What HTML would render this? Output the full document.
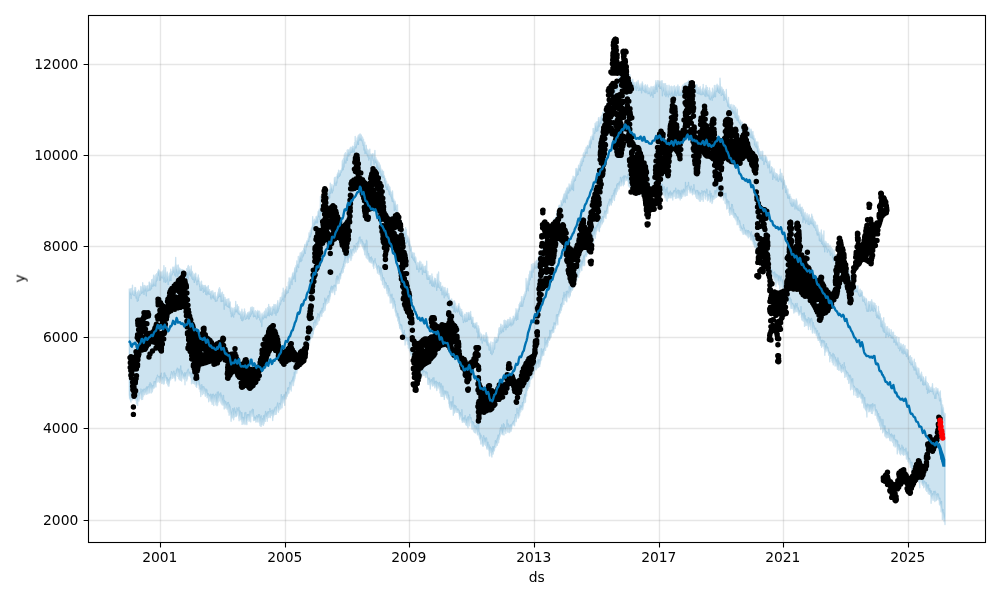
<!DOCTYPE html>
<html><head><meta charset="utf-8"><title>forecast</title>
<style>
html,body{margin:0;padding:0;background:#fff;overflow:hidden}
svg{display:block}
text{font-family:"DejaVu Sans","Liberation Sans",sans-serif;font-size:13.89px;fill:#000}
</style></head><body>
<svg width="1000" height="600" viewBox="0 0 1000 600">
<rect width="1000" height="600" fill="#fff"/>
<path d="M129.3 289 129.5 293.1 129.6 292.1 129.8 289.4 129.9 291.4 130.1 292.8 130.3 294.3 130.4 291.6 130.6 292.7 130.7 288.7 130.9 290.8 131.1 298.5 131.2 288.5 131.4 293.5 131.5 295.2 131.7 293.1 131.9 291.8 132 293.7 132.2 293.7 132.3 293.3 132.5 285.3 132.7 292.8 132.8 290.8 133 291.4 133.1 293.4 133.3 294.3 133.5 294.9 133.6 291 133.8 294.6 133.9 295.2 134.1 294.9 134.3 295.5 134.4 291.2 134.6 290.9 134.7 293.5 134.9 287.4 135.1 291.7 135.2 290.1 135.4 290.9 135.5 287.6 135.7 290.3 135.9 293 136 295.8 136.2 298.1 136.3 294 136.5 294.1 136.7 292.7 136.8 296.4 137 295.1 137.1 297.8 137.3 301.2 137.5 296.1 137.6 291.9 137.8 293.3 137.9 291.4 138.1 291.9 138.3 300.5 138.4 295.1 138.6 290.1 138.7 295.7 138.9 297.1 139.1 292.4 139.2 291.3 139.4 291.9 139.5 293.3 139.7 294 139.9 295.2 140 295 140.2 294.6 140.3 294.8 140.5 292.7 140.7 286.5 140.8 289.8 141 290.9 141.1 288.9 141.3 292.4 141.5 288.9 141.6 287.3 141.8 293.6 141.9 291.5 142.1 290.2 142.3 292 142.4 292.3 142.6 290.3 142.7 282.7 142.9 287.5 143.1 288 143.2 286.5 143.4 289.7 143.5 292.3 143.7 287.7 143.9 285.9 144 294.4 144.2 287.6 144.3 285.4 144.5 289.4 144.7 289.8 144.8 286.7 145 290.7 145.1 287.2 145.3 285.9 145.5 288.8 145.6 290.4 145.8 286.5 145.9 289.1 146.1 287.9 146.3 295.7 146.4 286.1 146.6 291.7 146.7 287.8 146.9 287.5 147.1 289.7 147.2 290 147.4 290.9 147.5 288.3 147.7 285.7 147.9 285.7 148 288.4 148.2 288.5 148.3 290.6 148.5 287.8 148.7 289.4 148.8 290.5 149 287 149.1 282.2 149.3 282.9 149.5 282.1 149.6 290.1 149.8 283.4 149.9 288.9 150.1 287.1 150.3 290 150.4 287.9 150.6 284.8 150.7 284.5 150.9 285.1 151.1 285.2 151.2 283.2 151.4 284.4 151.5 288.7 151.7 279.7 151.9 284.9 152 281.6 152.2 284.4 152.3 286.1 152.5 283.5 152.7 285.6 152.8 279.1 153 286.3 153.1 280.5 153.3 284.5 153.5 283 153.6 275.3 153.8 279.9 153.9 282.3 154.1 285.6 154.3 281.9 154.4 281.6 154.6 276.8 154.7 284.2 154.9 285 155.1 279.9 155.2 278.9 155.4 274.9 155.5 281.4 155.7 286 155.9 280.4 156 281.6 156.2 279.4 156.3 275 156.5 281 156.7 273.8 156.8 276.2 157 277.3 157.1 280.1 157.3 277.1 157.5 276.8 157.6 273.4 157.8 271.7 157.9 275.1 158.1 272.7 158.3 270.8 158.4 270.9 158.6 273.1 158.7 269.5 158.9 271 159.1 270.3 159.2 275.2 159.4 275.9 159.5 280.3 159.7 270.9 159.9 273.2 160 277.6 160.2 274.6 160.3 274.4 160.5 280 160.7 274.5 160.8 272.4 161 272.1 161.1 276.6 161.3 276.6 161.5 272.1 161.6 273.3 161.8 277.4 161.9 277.6 162.1 274.4 162.3 277.9 162.4 277.9 162.6 271.6 162.7 275.6 162.9 277.5 163.1 274.6 163.2 270.2 163.4 274.9 163.5 277.5 163.7 279.5 163.9 265.6 164 281.9 164.2 271.6 164.3 277 164.5 277.5 164.7 276.6 164.8 274.1 165 270.4 165.1 275.5 165.3 272.2 165.5 267.6 165.6 282.4 165.8 277 165.9 280.3 166.1 273.2 166.3 280 166.4 280.6 166.6 280.9 166.7 276.9 166.9 274.1 167.1 277.1 167.2 272 167.4 273.7 167.5 278.8 167.7 276.2 167.9 278.8 168 279.2 168.2 284.4 168.3 282.4 168.5 278.5 168.7 281.6 168.8 275.9 169 276.9 169.1 279.9 169.3 273.9 169.5 276.2 169.6 273.1 169.8 276.7 169.9 280.5 170.1 273.8 170.3 276.1 170.4 272.8 170.6 271.8 170.7 269.3 170.9 278.3 171.1 280.5 171.2 275.1 171.4 271.6 171.5 275.2 171.7 272.1 171.9 274.9 172 273.4 172.2 273.2 172.3 274 172.5 270.6 172.7 271 172.8 267.3 173 270.6 173.1 267.8 173.3 271.1 173.5 268.8 173.6 271.5 173.8 272.4 173.9 267.2 174.1 268.7 174.3 268.2 174.4 272.6 174.6 275.1 174.7 272.6 174.9 269.2 175.1 274 175.2 265.8 175.4 273.8 175.5 267.9 175.7 257.5 175.9 276.5 176 273.5 176.2 266.3 176.3 269.5 176.5 268.5 176.7 269.5 176.8 265.3 177 267.6 177.1 270.7 177.3 270.2 177.5 272.9 177.6 270 177.8 276.2 177.9 268 178.1 270.7 178.3 265 178.4 266.8 178.6 273.9 178.7 267.9 178.9 271.9 179.1 270.4 179.2 267.9 179.4 269.8 179.5 269.5 179.7 269.6 179.9 273.1 180 272.9 180.2 269.7 180.3 268.9 180.5 272.2 180.7 271.2 180.8 274.4 181 278.9 181.1 274.1 181.3 271.8 181.5 271.5 181.6 269.8 181.8 269.7 181.9 269.6 182.1 271.3 182.3 271.3 182.4 274.6 182.6 271.6 182.7 272.2 182.9 269.6 183.1 277.4 183.2 274.4 183.4 278 183.5 275.4 183.7 277.4 183.9 272.4 184 275.5 184.2 280.9 184.3 270.4 184.5 277 184.7 278.5 184.8 275.1 185 276.2 185.1 277.7 185.3 272.5 185.5 275.2 185.6 271.5 185.8 271.8 185.9 271.8 186.1 272.9 186.3 273.5 186.4 274.2 186.6 268.8 186.7 278 186.9 275.5 187.1 274.2 187.2 271 187.4 271.5 187.5 273.1 187.7 272.5 187.9 266.5 188 273 188.2 278.9 188.3 265.5 188.5 273.2 188.7 271.2 188.8 269.7 189 273.6 189.1 266.7 189.3 270.7 189.5 274.5 189.6 270.2 189.8 269.8 189.9 271.5 190.1 270.2 190.3 276 190.4 269.4 190.6 274.6 190.7 268.9 190.9 274.5 191.1 272.6 191.2 265.9 191.4 273.3 191.5 270.6 191.7 272.6 191.9 278.3 192 271.2 192.2 271.6 192.3 278.8 192.5 275.3 192.7 279.5 192.8 276.4 193 273.3 193.1 275.8 193.3 279.6 193.5 279.1 193.6 276.6 193.8 276.8 193.9 276.5 194.1 275.3 194.3 282.4 194.4 277.1 194.6 274.1 194.7 276 194.9 279.4 195.1 279.3 195.2 277.3 195.4 275.9 195.5 277.9 195.7 273.3 195.9 274.5 196 280.4 196.2 277 196.3 279.4 196.5 281.9 196.7 280.4 196.8 278.8 197 284.7 197.1 280.8 197.3 278 197.5 281.2 197.6 281.1 197.8 277 197.9 279.7 198.1 279.4 198.3 274.9 198.4 280.4 198.6 280.6 198.7 280.7 198.9 277.9 199.1 282 199.2 283.4 199.4 284.3 199.5 281.4 199.7 286.8 199.9 282.2 200 285.5 200.2 290.2 200.3 283.9 200.5 285.6 200.7 290.1 200.8 286.1 201 286.3 201.1 287.8 201.3 290.2 201.5 281.2 201.6 285 201.8 284.6 201.9 284.4 202.1 285.1 202.3 285.2 202.4 288.4 202.6 285.1 202.7 287.9 202.9 288.8 203.1 285.7 203.2 288.1 203.4 292.3 203.5 288.7 203.7 286.1 203.9 287.7 204 285.4 204.2 288.7 204.3 290.4 204.5 285.8 204.7 287.5 204.8 291.2 205 286.8 205.1 288.7 205.3 285.4 205.5 286 205.6 286.9 205.8 294.2 205.9 287.3 206.1 287 206.3 287 206.4 288.2 206.6 290.7 206.7 289.9 206.9 294.9 207.1 290.2 207.2 293.7 207.4 290.8 207.5 291.9 207.7 286.6 207.9 290.2 208 290.8 208.2 290.5 208.3 285.6 208.5 294 208.7 290.8 208.8 290.9 209 291.6 209.1 292 209.3 293.9 209.5 289.6 209.6 290.7 209.8 294.3 209.9 294.1 210.1 292.9 210.3 292.5 210.4 292 210.6 294.2 210.7 297.7 210.9 291.8 211.1 299 211.2 297.3 211.4 294 211.5 297.5 211.7 291.5 211.9 291 212 292.3 212.2 294.9 212.3 295.3 212.5 294.9 212.7 296.7 212.8 290.9 213 298.1 213.1 293 213.3 295.2 213.5 295.9 213.6 294 213.8 293.5 213.9 292.9 214.1 297.3 214.3 299 214.4 299 214.6 294.9 214.7 295.5 214.9 295.3 215.1 299 215.2 292.4 215.4 301.3 215.5 296.8 215.7 296 215.9 299.1 216 301.1 216.2 299 216.3 300.7 216.5 298.1 216.7 300.8 216.8 300.7 217 296.9 217.1 300.8 217.3 297.2 217.5 296.8 217.6 293.9 217.8 295.4 217.9 298.1 218.1 292.3 218.3 297.4 218.4 296.4 218.6 296 218.7 289.1 218.9 294.6 219.1 296.4 219.2 292.4 219.4 294.5 219.5 287.7 219.7 295.7 219.9 292.1 220 296.4 220.2 289.3 220.3 296.3 220.5 294 220.7 297 220.8 292.5 221 293.6 221.1 301.5 221.3 293.4 221.5 293.9 221.6 295.3 221.8 293.4 221.9 299.6 222.1 301.3 222.3 294.9 222.4 292.3 222.6 300.3 222.7 300.4 222.9 299.8 223.1 300.9 223.2 295.6 223.4 297.7 223.5 294.6 223.7 294.8 223.9 301.5 224 297.3 224.2 309.2 224.3 299.8 224.5 298.1 224.7 302.2 224.8 305.1 225 301.8 225.1 297.5 225.3 302 225.5 305 225.6 300.1 225.8 299.6 225.9 304.7 226.1 302.6 226.3 299.5 226.4 301.7 226.6 300.8 226.7 303.8 226.9 303.4 227.1 306.3 227.2 305.2 227.4 299.2 227.5 304.7 227.7 306.1 227.9 305 228 306.7 228.2 302.5 228.3 301.6 228.5 306.8 228.7 301.5 228.8 298.7 229 307.4 229.1 302.8 229.3 303.5 229.5 301.2 229.6 302 229.8 303.1 229.9 306 230.1 308.7 230.3 302.2 230.4 311.2 230.6 306.7 230.7 307.7 230.9 313.2 231.1 311.6 231.2 307.6 231.4 316.7 231.5 309.3 231.7 312.3 231.9 312.1 232 315.3 232.2 310.2 232.3 314.1 232.5 308.1 232.7 314.3 232.8 309.2 233 310.2 233.1 316.3 233.3 312 233.5 311.3 233.6 317.1 233.8 311.9 233.9 308.7 234.1 312.8 234.3 307.6 234.4 313.8 234.6 314 234.7 309.1 234.9 308.9 235.1 311 235.2 310.5 235.4 307.8 235.5 311.9 235.7 301.5 235.9 309.1 236 309.2 236.2 309.5 236.3 311 236.5 306.8 236.7 311.7 236.8 309.5 237 308.2 237.1 306.2 237.3 304.8 237.5 311.4 237.6 307.2 237.8 309.9 237.9 312.5 238.1 312.4 238.3 313.8 238.4 308.7 238.6 306.7 238.7 312.7 238.9 311 239.1 313.5 239.2 310.8 239.4 314.3 239.5 313.6 239.7 313.6 239.9 313.3 240 313.3 240.2 313.1 240.3 313.4 240.5 315.7 240.7 311.9 240.8 318.3 241 313.6 241.1 316.8 241.3 314.2 241.5 314.1 241.6 320.3 241.8 314 241.9 309.3 242.1 312.9 242.3 314 242.4 320.7 242.6 315.5 242.7 317.5 242.9 312.3 243.1 315.9 243.2 316.8 243.4 319.9 243.5 313.2 243.7 316.7 243.9 315.9 244 312.3 244.2 315.1 244.3 314.4 244.5 308.9 244.7 316.8 244.8 316.6 245 314 245.1 311.6 245.3 319.2 245.5 316 245.6 318 245.8 319.1 245.9 313.9 246.1 317.5 246.3 314.7 246.4 315.2 246.6 315.2 246.7 315.4 246.9 318.4 247.1 315.8 247.2 315.1 247.4 314.7 247.5 316.4 247.7 312.8 247.9 313.6 248 314.5 248.2 312.9 248.3 313.9 248.5 312.3 248.7 319.1 248.8 317 249 314.4 249.1 312.8 249.3 318.6 249.5 313.3 249.6 311.9 249.8 312.7 249.9 312.5 250.1 315.2 250.3 311.1 250.4 316.6 250.6 308.3 250.7 312.3 250.9 307.4 251.1 314.8 251.2 308.7 251.4 309.5 251.5 312.3 251.7 313.5 251.9 307.3 252 309.6 252.2 307 252.3 311.4 252.5 310.9 252.7 310.5 252.8 309.8 253 310.9 253.1 310.1 253.3 313.8 253.5 316.7 253.6 307.6 253.8 312.7 253.9 312.2 254.1 314.8 254.3 311.2 254.4 313.6 254.6 311.4 254.7 316.3 254.9 315.1 255.1 314.4 255.2 315.8 255.4 314.1 255.5 310.6 255.7 316.4 255.9 315.6 256 314.4 256.2 317.5 256.3 318.1 256.5 311.9 256.7 312.7 256.8 319 257 318.6 257.1 311.6 257.3 311.6 257.5 313.1 257.6 313.5 257.8 310.5 257.9 314.9 258.1 311.3 258.3 311.5 258.4 317.3 258.6 313 258.7 314.6 258.9 316.5 259.1 317 259.2 313.9 259.4 314.9 259.5 311.3 259.7 319.9 259.9 317.3 260 312.8 260.2 316.1 260.3 318.4 260.5 318.1 260.7 322 260.8 321.1 261 316.2 261.1 317.8 261.3 314.9 261.5 319.3 261.6 319.4 261.8 326.6 261.9 319.4 262.1 313.2 262.3 316.8 262.4 318.7 262.6 314.8 262.7 315.6 262.9 316.7 263.1 318.4 263.2 316.8 263.4 314.6 263.5 318.9 263.7 315.1 263.9 315 264 312.4 264.2 313.8 264.3 317.4 264.5 311.1 264.7 315 264.8 316.9 265 313.7 265.1 315.2 265.3 311.3 265.5 317.6 265.6 316.9 265.8 314.4 265.9 308.8 266.1 310.6 266.3 315.9 266.4 317.7 266.6 313.7 266.7 316.1 266.9 311 267.1 311.9 267.2 312.3 267.4 313.3 267.5 307.8 267.7 314.3 267.9 315.2 268 308.4 268.2 307.7 268.3 312.1 268.5 309.2 268.7 304.4 268.8 312.9 269 310.9 269.1 309.1 269.3 315.9 269.5 310.4 269.6 307.8 269.8 310 269.9 306.8 270.1 307.5 270.3 310.7 270.4 308.2 270.6 307.8 270.7 314.4 270.9 312.3 271.1 312.2 271.2 311.5 271.4 311.5 271.5 314.2 271.7 310.3 271.9 315.4 272 307.9 272.2 309.7 272.3 306.6 272.5 309.2 272.7 311.5 272.8 313.9 273 308.1 273.1 309.8 273.3 308.7 273.5 307.5 273.6 306.2 273.8 309.5 273.9 304.5 274.1 309.4 274.3 309 274.4 307.1 274.6 306.1 274.7 304.9 274.9 313.6 275.1 304.8 275.2 312.6 275.4 309.9 275.5 307.2 275.7 304.9 275.9 310.7 276 315.3 276.2 305.2 276.3 306.8 276.5 310.3 276.7 308.3 276.8 312.7 277 305.6 277.1 308.5 277.3 303.6 277.5 312.5 277.6 304.8 277.8 300.7 277.9 306 278.1 305.9 278.3 311.1 278.4 304.6 278.6 305.2 278.7 306.4 278.9 308.8 279.1 303.9 279.2 306.6 279.4 304.8 279.5 302.2 279.7 302.9 279.9 302.4 280 299.5 280.2 304.9 280.3 297.5 280.5 304 280.7 303.1 280.8 299.9 281 297.7 281.1 298.8 281.3 300.4 281.5 300.7 281.6 299.1 281.8 300.7 281.9 296.1 282.1 298 282.3 292.9 282.4 298.9 282.6 297 282.7 295.3 282.9 299.3 283.1 297.8 283.2 288.1 283.4 295.5 283.5 291.3 283.7 297.8 283.9 301.4 284 293.1 284.2 294.4 284.3 293.3 284.5 294.7 284.7 295.3 284.8 296.7 285 290.4 285.1 297 285.3 290 285.5 293.1 285.6 295.2 285.8 293.8 285.9 289.1 286.1 289.4 286.3 289.8 286.4 290.6 286.6 293.6 286.7 286.7 286.9 291.2 287.1 291.3 287.2 290.9 287.4 290.3 287.5 292.9 287.7 289.8 287.9 290.6 288 289.5 288.2 292.5 288.3 282.3 288.5 290.6 288.7 286.1 288.8 285.8 289 283.7 289.1 277.9 289.3 284.7 289.5 283.6 289.6 286.5 289.8 278.5 289.9 288.5 290.1 285 290.3 283.2 290.4 281.5 290.6 280.9 290.7 279.6 290.9 280.8 291.1 281.9 291.2 281 291.4 277.2 291.5 279.9 291.7 277.8 291.9 280.3 292 284.5 292.2 280.7 292.3 277.8 292.5 273.9 292.7 274 292.8 272.9 293 279 293.1 274.6 293.3 276.4 293.5 274.2 293.6 275.7 293.8 278.8 293.9 272.8 294.1 273.3 294.3 271.5 294.4 275.6 294.6 270 294.7 269.2 294.9 268.1 295.1 267.5 295.2 272.1 295.4 281.5 295.5 267.2 295.7 272 295.9 269.6 296 265.5 296.2 267.2 296.3 266.9 296.5 265.1 296.7 271.7 296.8 260.9 297 266.6 297.1 266 297.3 263 297.5 264.5 297.6 266 297.8 263.6 297.9 263.8 298.1 264.2 298.3 256.5 298.4 265.7 298.6 267.5 298.7 263.7 298.9 263.4 299.1 256.6 299.2 259.7 299.4 256.2 299.5 257.8 299.7 261.7 299.9 256.6 300 258.1 300.2 253 300.3 257.4 300.5 257.7 300.7 255.3 300.8 254.9 301 261.6 301.1 253 301.3 253.1 301.5 252.1 301.6 258.5 301.8 260.6 301.9 255.5 302.1 252.4 302.3 252.8 302.4 256.5 302.6 250.9 302.7 256.9 302.9 256.5 303.1 252.6 303.2 253.8 303.4 253.8 303.5 255.6 303.7 248.3 303.9 254 304 249.4 304.2 248.1 304.3 250.1 304.5 248.9 304.7 246.5 304.8 244.5 305 246 305.1 252.1 305.3 253.2 305.5 249.3 305.6 250.5 305.8 245.5 305.9 246.4 306.1 247 306.3 242.8 306.4 242.6 306.6 245 306.7 243.4 306.9 240.9 307.1 244.4 307.2 242.1 307.4 245.1 307.5 241.9 307.7 240.6 307.9 241.3 308 240 308.2 238.2 308.3 238.4 308.5 241 308.7 240.3 308.8 241.5 309 233 309.1 236 309.3 235.5 309.5 236.6 309.6 234.4 309.8 233.8 309.9 236.8 310.1 234.7 310.3 230.6 310.4 236.8 310.6 235.5 310.7 230.7 310.9 234 311.1 229.3 311.2 233.9 311.4 229.8 311.5 227.7 311.7 228.4 311.9 226.9 312 229 312.2 228.4 312.3 227.6 312.5 225.5 312.7 216.6 312.8 226.3 313 220.4 313.1 225.7 313.3 227.7 313.5 224.9 313.6 222.6 313.8 222.7 313.9 222.3 314.1 220.8 314.3 220.5 314.4 219.3 314.6 224.7 314.7 221.2 314.9 223.5 315.1 220 315.2 220.6 315.4 219.6 315.5 221.1 315.7 221.8 315.9 220.3 316 217.1 316.2 216.6 316.3 222.9 316.5 217.4 316.7 217.1 316.8 221.5 317 220.2 317.1 218.4 317.3 215.6 317.5 222.8 317.6 217.2 317.8 217.4 317.9 215.1 318.1 211.5 318.3 211.4 318.4 216.5 318.6 215.5 318.7 213.6 318.9 210.8 319.1 209.8 319.2 211.9 319.4 209.2 319.5 215.2 319.7 215.6 319.9 219.9 320 214.3 320.2 210.1 320.3 209.1 320.5 196.2 320.7 209.2 320.8 210.1 321 212.9 321.1 211.7 321.3 211.3 321.5 210 321.6 210.9 321.8 212.8 321.9 205.7 322.1 207 322.3 204.1 322.4 211.9 322.6 210.6 322.7 208.8 322.9 203.1 323.1 206.4 323.2 204.9 323.4 205.4 323.5 204.3 323.7 205.8 323.9 203 324 206 324.2 203.9 324.3 202.1 324.5 202.2 324.7 200.9 324.8 203.9 325 200.6 325.1 201.8 325.3 199.5 325.5 196.2 325.6 202.3 325.8 196.6 325.9 200.9 326.1 199.8 326.3 193.8 326.4 195.3 326.6 196.1 326.7 194.9 326.9 193.5 327.1 198.4 327.2 195.4 327.4 196.8 327.5 194.3 327.7 195.9 327.9 192.8 328 194.4 328.2 195.7 328.3 193.9 328.5 192.3 328.7 190.2 328.8 193.6 329 193.5 329.1 191.5 329.3 189.8 329.5 193 329.6 198 329.8 190.1 329.9 191.5 330.1 191.4 330.3 183.2 330.4 190.3 330.6 187.8 330.7 193.3 330.9 188.6 331.1 187 331.2 188.3 331.4 189.1 331.5 186.9 331.7 188.1 331.9 184.4 332 187.2 332.2 189.7 332.3 192.7 332.5 189.1 332.7 187.7 332.8 189.9 333 189.3 333.1 190.7 333.3 188.8 333.5 185.1 333.6 186 333.8 185.4 333.9 185.4 334.1 184.8 334.3 181.9 334.4 178 334.6 181.5 334.7 177.5 334.9 182.9 335.1 182.4 335.2 177.5 335.4 183.6 335.5 183.8 335.7 181.4 335.9 185.3 336 185.5 336.2 176.9 336.3 182.6 336.5 180.7 336.7 180.3 336.8 182.9 337 176.6 337.1 176.6 337.3 174.3 337.5 175.5 337.6 177 337.8 173 337.9 173.8 338.1 177.9 338.3 175.8 338.4 176.7 338.6 170.2 338.7 172.9 338.9 173.2 339.1 174.5 339.2 172.5 339.4 176.3 339.5 173.3 339.7 173.1 339.9 172.8 340 175.5 340.2 170.7 340.3 174.6 340.5 172.4 340.7 171.2 340.8 170.4 341 171.3 341.1 172.2 341.3 171.6 341.5 169.6 341.6 170.5 341.8 168.1 341.9 170.7 342.1 166.8 342.3 160.9 342.4 169.7 342.6 165.9 342.7 160.1 342.9 164.2 343.1 162 343.2 169.6 343.4 164.8 343.5 158.8 343.7 164.1 343.9 161.1 344 167 344.2 158.5 344.3 154.9 344.5 160.7 344.7 158.6 344.8 158.5 345 153.4 345.1 159.9 345.3 162.9 345.5 152.8 345.6 160.7 345.8 155.6 345.9 163 346.1 157.6 346.3 155.7 346.4 159 346.6 157.2 346.7 154 346.9 157.3 347.1 153.8 347.2 150.1 347.4 160.3 347.5 153.6 347.7 152.7 347.9 155.6 348 149.8 348.2 150.1 348.3 152.2 348.5 152 348.7 153.5 348.8 156 349 151.5 349.1 153.9 349.3 154 349.5 149.2 349.6 152.6 349.8 149.2 349.9 154.4 350.1 152.6 350.3 151.2 350.4 147.4 350.6 151.1 350.7 147.3 350.9 152.3 351.1 149.9 351.2 147.8 351.4 152.3 351.5 151.5 351.7 147.8 351.9 152.3 352 148.2 352.2 147.9 352.3 148.9 352.5 146.3 352.7 147 352.8 147.5 353 151.9 353.1 151.6 353.3 146.7 353.5 151.5 353.6 146.9 353.8 147.8 353.9 149 354.1 147.1 354.3 152.6 354.4 146.9 354.6 142.4 354.7 148.9 354.9 144 355.1 144 355.2 136.5 355.4 147 355.5 146.3 355.7 146 355.9 146.2 356 147.9 356.2 143 356.3 146.9 356.5 140.6 356.7 141.4 356.8 144.9 357 142.9 357.1 138 357.3 142.3 357.5 140.6 357.6 138.6 357.8 142.5 357.9 139.3 358.1 135.9 358.3 136.8 358.4 144.4 358.6 135.3 358.7 139.7 358.9 140.5 359.1 140.3 359.2 135 359.4 137.2 359.5 138.2 359.7 139.8 359.9 135.6 360 134 360.2 139.6 360.3 139.6 360.5 137.7 360.7 134.4 360.8 138.5 361 138.1 361.1 140.4 361.3 135.1 361.5 139.1 361.6 138.7 361.8 136.5 361.9 140.8 362.1 140.3 362.3 139.4 362.4 142 362.6 137.4 362.7 141.4 362.9 143.1 363.1 143 363.2 145.5 363.4 139.7 363.5 139.3 363.7 144.3 363.9 145.3 364 150.1 364.2 146.4 364.3 142.7 364.5 147.6 364.7 143.5 364.8 142.1 365 153.5 365.1 147.7 365.3 149 365.5 148.9 365.6 152.6 365.8 148.8 365.9 151.7 366.1 145.9 366.3 145.3 366.4 153.2 366.6 153.6 366.7 151.4 366.9 151.3 367.1 151.1 367.2 149.1 367.4 155.4 367.5 154.4 367.7 153.3 367.9 153.2 368 157.1 368.2 154.2 368.3 155.2 368.5 150.3 368.7 155.2 368.8 160 369 153.1 369.1 154.4 369.3 157.5 369.5 158 369.6 157.4 369.8 149.1 369.9 157.7 370.1 153.3 370.3 154.4 370.4 158.1 370.6 155.9 370.7 159 370.9 165.4 371.1 159 371.2 158.9 371.4 154.6 371.5 155.4 371.7 154.3 371.9 155.8 372 154.4 372.2 155.6 372.3 156.9 372.5 154.8 372.7 153.7 372.8 154 373 158.9 373.1 157.9 373.3 160.6 373.5 160.7 373.6 157 373.8 159.8 373.9 154.2 374.1 164.3 374.3 161.4 374.4 157.7 374.6 155.2 374.7 159.4 374.9 150.4 375.1 156.5 375.2 161 375.4 159.5 375.5 158.4 375.7 162.6 375.9 157.6 376 161.5 376.2 159.8 376.3 159.2 376.5 163.1 376.7 159.5 376.8 167.6 377 161.3 377.1 168.6 377.3 160.6 377.5 165.5 377.6 161 377.8 161 377.9 165.4 378.1 167.1 378.3 162.2 378.4 169.2 378.6 164.2 378.7 167.1 378.9 168.1 379.1 169 379.2 162.9 379.4 172.5 379.5 170 379.7 167.7 379.9 166.4 380 165 380.2 166.2 380.3 171.7 380.5 169.7 380.7 167.9 380.8 169.9 381 175.9 381.1 171.1 381.3 170.8 381.5 176.4 381.6 174.3 381.8 173.6 381.9 172.1 382.1 169.9 382.3 171.3 382.4 173.5 382.6 174.6 382.7 176.5 382.9 177.4 383.1 176.8 383.2 177.2 383.4 174.2 383.5 171.5 383.7 176.2 383.9 175.4 384 176.6 384.2 178 384.3 175.7 384.5 176.4 384.7 179.5 384.8 180.4 385 178.7 385.1 182.9 385.3 180.5 385.5 178.7 385.6 181.8 385.8 187.1 385.9 180.6 386.1 185.8 386.3 186.7 386.4 187.4 386.6 181.4 386.7 189.4 386.9 184.6 387.1 183.9 387.2 184.3 387.4 186.9 387.5 185.7 387.7 185.4 387.9 189.7 388 184.6 388.2 184.1 388.3 189.5 388.5 189.6 388.7 191.1 388.8 185.7 389 191.9 389.1 190.7 389.3 194.5 389.5 186.8 389.6 191.1 389.8 190.2 389.9 187.1 390.1 189.8 390.3 195.2 390.4 191.3 390.6 191 390.7 195.7 390.9 196.4 391.1 196.8 391.2 192.4 391.4 194.8 391.5 198.1 391.7 194 391.9 194.1 392 198.8 392.2 201.3 392.3 194.4 392.5 191 392.7 194.6 392.8 196.2 393 199.1 393.1 201.6 393.3 200 393.5 199 393.6 201.8 393.8 199.2 393.9 202.2 394.1 201.1 394.3 210.5 394.4 206 394.6 202 394.7 202 394.9 204 395.1 201.2 395.2 204.2 395.4 203.5 395.5 209.5 395.7 206.4 395.9 205.9 396 204.9 396.2 205.9 396.3 209.5 396.5 209.2 396.7 213.8 396.8 209.5 397 214.6 397.1 213 397.3 212.8 397.5 204.7 397.6 210.4 397.8 216.4 397.9 218.7 398.1 216.1 398.3 218.1 398.4 215.5 398.6 216.1 398.7 215.8 398.9 220.8 399.1 219.6 399.2 218.6 399.4 218.9 399.5 221.8 399.7 222.2 399.9 219.1 400 226.5 400.2 223.1 400.3 223 400.5 227.5 400.7 226.8 400.8 224.3 401 226.5 401.1 222.7 401.3 224.4 401.5 220.6 401.6 230.5 401.8 222.6 401.9 231.2 402.1 226.4 402.3 226.3 402.4 228.7 402.6 230.3 402.7 231.5 402.9 234.9 403.1 231.4 403.2 233.1 403.4 229.4 403.5 233.3 403.7 232 403.9 230.7 404 231.9 404.2 232.3 404.3 233.3 404.5 234.2 404.7 232 404.8 231.7 405 236 405.1 229.7 405.3 232.9 405.5 239 405.6 227.8 405.8 233.6 405.9 237.6 406.1 231.6 406.3 243.3 406.4 229.6 406.6 240.8 406.7 241.4 406.9 240 407.1 237.2 407.2 239 407.4 235.9 407.5 240.8 407.7 235.9 407.9 238.5 408 242.3 408.2 237.1 408.3 239.6 408.5 241.6 408.7 238 408.8 245.3 409 243.6 409.1 239.1 409.3 243.6 409.5 240.9 409.6 243 409.8 245.5 409.9 243.9 410.1 248.9 410.3 244.9 410.4 250 410.6 247.8 410.7 250.7 410.9 247.5 411.1 248.1 411.2 246.9 411.4 252 411.5 253.5 411.7 257.2 411.9 255.5 412 253.2 412.2 252.4 412.3 254.4 412.5 253.7 412.7 258.1 412.8 257.1 413 252.7 413.1 253.5 413.3 259.4 413.5 257 413.6 255.9 413.8 260.2 413.9 256.3 414.1 257 414.3 256.9 414.4 253.3 414.6 261.3 414.7 256.1 414.9 258.2 415.1 258.1 415.2 262.5 415.4 260.8 415.5 261.4 415.7 257.2 415.9 261.9 416 258.6 416.2 263.7 416.3 264.8 416.5 263.5 416.7 269.3 416.8 265.6 417 266.1 417.1 265.2 417.3 264.6 417.5 268 417.6 268.7 417.8 262.5 417.9 269.2 418.1 267.9 418.3 269.2 418.4 268 418.6 263.4 418.7 263.7 418.9 271.9 419.1 267.7 419.2 263.3 419.4 268.7 419.5 266.3 419.7 262.4 419.9 261.2 420 263.2 420.2 268.3 420.3 267.5 420.5 267.1 420.7 268.6 420.8 269.5 421 262.3 421.1 267.3 421.3 265.9 421.5 264.9 421.6 266.8 421.8 268.1 421.9 267.8 422.1 264.6 422.3 267.3 422.4 274.2 422.6 265.9 422.7 264.3 422.9 269.7 423.1 270.6 423.2 270.4 423.4 266.2 423.5 272 423.7 267.2 423.9 266.4 424 267.9 424.2 269.3 424.3 271.6 424.5 271.4 424.7 269.8 424.8 272.4 425 270.2 425.1 272.5 425.3 266.4 425.5 266 425.6 272.4 425.8 266.6 425.9 269.7 426.1 270.5 426.3 269.8 426.4 270.2 426.6 275.6 426.7 261.2 426.9 274.9 427.1 279.1 427.2 273.3 427.4 273.6 427.5 275.9 427.7 279.3 427.9 271.5 428 275.4 428.2 274.9 428.3 277.3 428.5 276.6 428.7 279.3 428.8 275.7 429 277.3 429.1 275.8 429.3 276.1 429.5 277.9 429.6 278.3 429.8 275.8 429.9 283.6 430.1 279.2 430.3 275.8 430.4 282.6 430.6 277.7 430.7 281.1 430.9 279.7 431.1 280.5 431.2 280.3 431.4 278.4 431.5 280.1 431.7 285.5 431.9 274 432 280.3 432.2 281.4 432.3 277.4 432.5 276.6 432.7 286.2 432.8 279.4 433 286 433.1 281.9 433.3 280.7 433.5 281.9 433.6 282.3 433.8 283.9 433.9 281.9 434.1 281.2 434.3 281.3 434.4 286.7 434.6 283.1 434.7 278.3 434.9 279.3 435.1 282 435.2 279.4 435.4 280.2 435.5 278.7 435.7 280.6 435.9 282.5 436 284.1 436.2 281.5 436.3 287.1 436.5 281.3 436.7 290.2 436.8 284.3 437 283 437.1 280.4 437.3 274.2 437.5 281.4 437.6 282.4 437.8 287.1 437.9 278.3 438.1 287.3 438.3 281.8 438.4 284.7 438.6 272 438.7 283.6 438.9 282.6 439.1 285.6 439.2 284.3 439.4 281.3 439.5 287.2 439.7 286.8 439.9 286.8 440 288.2 440.2 288.7 440.3 285.9 440.5 282.6 440.7 282.8 440.8 290.4 441 289 441.1 287.6 441.3 286.4 441.5 288 441.6 288.2 441.8 287.5 441.9 286.8 442.1 294.8 442.3 289.9 442.4 287.9 442.6 286.3 442.7 288.1 442.9 292.3 443.1 292.6 443.2 290 443.4 290.8 443.5 289.9 443.7 287.8 443.9 294.4 444 291.9 444.2 297.7 444.3 289 444.5 290.7 444.7 293.5 444.8 290.2 445 287.5 445.1 288.8 445.3 291.7 445.5 292.4 445.6 291.3 445.8 295.9 445.9 294.4 446.1 292.6 446.3 291.9 446.4 291.2 446.6 293.4 446.7 294.5 446.9 292.2 447.1 294.1 447.2 291.3 447.4 288.4 447.5 289.6 447.7 294.4 447.9 293.7 448 296.9 448.2 293.5 448.3 296.4 448.5 298.3 448.7 298.2 448.8 293.6 449 296.4 449.1 298 449.3 295.7 449.5 300.4 449.6 302.6 449.8 299.2 449.9 306.6 450.1 300.8 450.3 301.1 450.4 301.2 450.6 300 450.7 303.2 450.9 302.2 451.1 306.8 451.2 304.1 451.4 304.9 451.5 302.1 451.7 299 451.9 302.7 452 300.7 452.2 305.7 452.3 303.2 452.5 307.9 452.7 305.5 452.8 305.9 453 304.4 453.1 304.4 453.3 305.7 453.5 306.6 453.6 301.1 453.8 305.7 453.9 311.5 454.1 304.3 454.3 304 454.4 302.9 454.6 301 454.7 308.3 454.9 305.3 455.1 306.1 455.2 310.4 455.4 312.3 455.5 303.3 455.7 308.6 455.9 307.6 456 307.1 456.2 307.4 456.3 306.2 456.5 310.7 456.7 308.2 456.8 307.6 457 310.1 457.1 309.3 457.3 308.2 457.5 308 457.6 312 457.8 308.7 457.9 307.2 458.1 305.4 458.3 306.5 458.4 305.4 458.6 308.9 458.7 309.6 458.9 303.6 459.1 309.5 459.2 311.5 459.4 310.5 459.5 306.2 459.7 314 459.9 309 460 307.9 460.2 308.6 460.3 311.8 460.5 314.7 460.7 315.5 460.8 313.2 461 309.7 461.1 311.5 461.3 311.1 461.5 313.4 461.6 309.4 461.8 314.7 461.9 316.5 462.1 314.6 462.3 316.6 462.4 313.1 462.6 312 462.7 314.5 462.9 319.6 463.1 319.6 463.2 315.8 463.4 322.6 463.5 316.8 463.7 322 463.9 319.5 464 317.3 464.2 320.6 464.3 316.2 464.5 315.7 464.7 314.3 464.8 318.8 465 317.9 465.1 317.7 465.3 316.7 465.5 321.7 465.6 316.5 465.8 314.5 465.9 320.9 466.1 321.3 466.3 318.3 466.4 312.6 466.6 315.6 466.7 318.8 466.9 317.1 467.1 321.2 467.2 313.2 467.4 318.6 467.5 315 467.7 320.2 467.9 316.4 468 319.3 468.2 314.7 468.3 312.5 468.5 313.3 468.7 314.5 468.8 313.3 469 319.3 469.1 319.5 469.3 316.6 469.5 313 469.6 315.4 469.8 313.8 469.9 319.5 470.1 316.6 470.3 317.4 470.4 315.4 470.6 311.4 470.7 315.1 470.9 314.5 471.1 318.9 471.2 318.5 471.4 316.4 471.5 317.9 471.7 323.6 471.9 317.1 472 317.6 472.2 319.8 472.3 318.9 472.5 320 472.7 322.9 472.8 326.5 473 317.4 473.1 322.5 473.3 323 473.5 323.1 473.6 323.1 473.8 323.1 473.9 327.1 474.1 323.3 474.3 324.4 474.4 324.9 474.6 325.4 474.7 324.8 474.9 328.1 475.1 325.5 475.2 326.2 475.4 325.7 475.5 323.3 475.7 324 475.9 323.5 476 327 476.2 324.8 476.3 324 476.5 327.6 476.7 328.6 476.8 322.6 477 332 477.1 327.7 477.3 327.5 477.5 332.6 477.6 328.3 477.8 326.6 477.9 337.9 478.1 325.7 478.3 328.5 478.4 331.2 478.6 326.2 478.7 329 478.9 330.4 479.1 336.4 479.2 328.6 479.4 332 479.5 335.1 479.7 334.6 479.9 332.3 480 337.6 480.2 336.9 480.3 337.8 480.5 339.7 480.7 339.5 480.8 337.9 481 337.7 481.1 333.9 481.3 336.6 481.5 337.6 481.6 336 481.8 337.4 481.9 334.9 482.1 341.3 482.3 343.1 482.4 336.3 482.6 338.4 482.7 336.8 482.9 340.9 483.1 338.7 483.2 337.8 483.4 337 483.5 338 483.7 335 483.9 339.6 484 335.9 484.2 339.3 484.3 338.3 484.5 341 484.7 338 484.8 340.9 485 335.7 485.1 339.9 485.3 337.7 485.5 338.8 485.6 338.6 485.8 341 485.9 333 486.1 339.6 486.3 332.6 486.4 342.6 486.6 334.3 486.7 337.3 486.9 335.8 487.1 345 487.2 337.5 487.4 341.6 487.5 340.1 487.7 337 487.9 341.3 488 344.3 488.2 342.4 488.3 345.7 488.5 342.5 488.7 343.8 488.8 343.1 489 345.4 489.1 349.9 489.3 346.1 489.5 345.9 489.6 344.1 489.8 344 489.9 350.3 490.1 343.7 490.3 344.6 490.4 346.9 490.6 346.5 490.7 353.3 490.9 341.9 491.1 349.6 491.2 350.9 491.4 346.2 491.5 347.8 491.7 351.1 491.9 354.6 492 348 492.2 345.8 492.3 353.9 492.5 353.4 492.7 347.9 492.8 342.5 493 352 493.1 347.1 493.3 352.1 493.5 346.7 493.6 345.4 493.8 344.8 493.9 349.6 494.1 349.1 494.3 339.1 494.4 341.9 494.6 348.8 494.7 342.7 494.9 337.4 495.1 342.9 495.2 342.2 495.4 341.8 495.5 340.4 495.7 340.4 495.9 339.6 496 341.9 496.2 337.9 496.3 338.9 496.5 338.9 496.7 342.4 496.8 339.5 497 337.8 497.1 339.1 497.3 338.3 497.5 339.8 497.6 337.8 497.8 340.9 497.9 339.3 498.1 335.1 498.3 333.7 498.4 336.8 498.6 335.4 498.7 333.4 498.9 329.3 499.1 327.9 499.2 333.4 499.4 334.1 499.5 333.8 499.7 327.8 499.9 333.7 500 329 500.2 331.4 500.3 331.3 500.5 327.8 500.7 328.2 500.8 324.1 501 327 501.1 324.5 501.3 330.4 501.5 329.2 501.6 332.8 501.8 329.7 501.9 326.8 502.1 329.3 502.3 327.2 502.4 330.7 502.6 328.8 502.7 325.1 502.9 327.6 503.1 327.6 503.2 326.4 503.4 329.5 503.5 331.6 503.7 325.8 503.9 325.7 504 320.4 504.2 326 504.3 325 504.5 320.2 504.7 326.6 504.8 327.3 505 323.5 505.1 324.4 505.3 322.6 505.5 327.1 505.6 320.8 505.8 323.9 505.9 329.8 506.1 324.6 506.3 325.7 506.4 324 506.6 321.1 506.7 324.2 506.9 325.3 507.1 321.4 507.2 325 507.4 327.4 507.5 326.9 507.7 319.7 507.9 321.2 508 319.5 508.2 326.7 508.3 325.4 508.5 325.6 508.7 321.2 508.8 320.4 509 323.7 509.1 323.7 509.3 319.7 509.5 323.7 509.6 325 509.8 323.9 509.9 320.4 510.1 317.4 510.3 322.4 510.4 323.5 510.6 322.3 510.7 321.8 510.9 321 511.1 325.9 511.2 322.6 511.4 323 511.5 320 511.7 320.9 511.9 323 512 319.7 512.2 318.7 512.3 320.9 512.5 324.7 512.7 321.7 512.8 324.8 513 320.2 513.1 319.4 513.3 316.1 513.5 318 513.6 323.1 513.8 319.8 513.9 320.6 514.1 320.2 514.3 318 514.4 317.1 514.6 317.7 514.7 318.8 514.9 317.9 515.1 317.7 515.2 316.5 515.4 313.7 515.5 314.7 515.7 312.6 515.9 317.5 516 308.8 516.2 313.6 516.3 320.3 516.5 312.6 516.7 310.1 516.8 312.8 517 316 517.1 311.8 517.3 313.6 517.5 311.8 517.6 310.3 517.8 319.4 517.9 310.8 518.1 308.8 518.3 308.7 518.4 310.7 518.6 310.4 518.7 311.1 518.9 309.1 519.1 304.5 519.2 309.5 519.4 306.9 519.5 306.6 519.7 303.1 519.9 305.2 520 304.5 520.2 306 520.3 301.9 520.5 305.6 520.7 305.5 520.8 301.8 521 302.9 521.1 301.9 521.3 306.4 521.5 296.8 521.6 302.3 521.8 298.5 521.9 301.5 522.1 304.6 522.3 300.3 522.4 302 522.6 299.1 522.7 306.3 522.9 303.2 523.1 303.4 523.2 296.5 523.4 296.8 523.5 302.3 523.7 298.6 523.9 298.1 524 299.3 524.2 294.4 524.3 299.2 524.5 296.6 524.7 297.2 524.8 293.4 525 296 525.1 292 525.3 295.9 525.5 295.7 525.6 294.5 525.8 292.8 525.9 293.5 526.1 278.4 526.3 291.7 526.4 288.1 526.6 288.4 526.7 286.8 526.9 283.1 527.1 284.8 527.2 287.4 527.4 288.8 527.5 282.7 527.7 281.3 527.9 287 528 280 528.2 290.7 528.3 281.3 528.5 278.1 528.7 282.5 528.8 283.8 529 274.7 529.1 284.7 529.3 276.5 529.5 280.7 529.6 275 529.8 271.1 529.9 276.1 530.1 276.8 530.3 279.6 530.4 278.3 530.6 275.2 530.7 272.4 530.9 271.3 531.1 271.6 531.2 269.8 531.4 271 531.5 264.5 531.7 271.6 531.9 270.7 532 277.4 532.2 272.2 532.3 268.5 532.5 271 532.7 265.9 532.8 267.2 533 263.5 533.1 272.1 533.3 269.5 533.5 264.4 533.6 267.1 533.8 269.5 533.9 268 534.1 267.4 534.3 263.8 534.4 264.1 534.6 265.9 534.7 267.9 534.9 262.9 535.1 261.9 535.2 267.8 535.4 261.9 535.5 267.1 535.7 264.6 535.9 266.1 536 268.2 536.2 265.1 536.3 265.1 536.5 260.3 536.7 260.6 536.8 264 537 266.2 537.1 265.5 537.3 267.8 537.5 262.1 537.6 261.6 537.8 263.5 537.9 260.6 538.1 260.2 538.3 257.4 538.4 262.8 538.6 257 538.7 261.1 538.9 255.8 539.1 262.4 539.2 256.5 539.4 261.4 539.5 254.7 539.7 257.6 539.9 261.8 540 256.3 540.2 258.1 540.3 256.2 540.5 250.8 540.7 257.4 540.8 257.2 541 252.6 541.1 256.6 541.3 252.5 541.5 251.4 541.6 253.7 541.8 251.3 541.9 262.6 542.1 248.1 542.3 253.8 542.4 254.1 542.6 245.7 542.7 246 542.9 251.8 543.1 248.5 543.2 250.5 543.4 252.1 543.5 247.6 543.7 245.4 543.9 240.5 544 248.3 544.2 244.5 544.3 247.5 544.5 246.9 544.7 242.1 544.8 250.1 545 248 545.1 246.9 545.3 241.1 545.5 242.7 545.6 242 545.8 241.9 545.9 239.6 546.1 243.4 546.3 242.5 546.4 242.4 546.6 239.7 546.7 244.1 546.9 240.8 547.1 232.5 547.2 237.7 547.4 238.9 547.5 241.3 547.7 237.4 547.9 237.2 548 235.7 548.2 238.9 548.3 235.5 548.5 234.7 548.7 233.9 548.8 237.1 549 233.7 549.1 230.3 549.3 236.1 549.5 232.1 549.6 235.2 549.8 234.3 549.9 236.1 550.1 235.3 550.3 230.6 550.4 231.3 550.6 227.9 550.7 235.5 550.9 231.8 551.1 234 551.2 229 551.4 223.9 551.5 233.2 551.7 229 551.9 228.7 552 228.1 552.2 229.3 552.3 228.6 552.5 222.5 552.7 229.4 552.8 224.6 553 224.4 553.1 230 553.3 227.4 553.5 223.6 553.6 219.1 553.8 224.2 553.9 224.8 554.1 222.8 554.3 219.3 554.4 220.1 554.6 218.5 554.7 222.1 554.9 223.3 555.1 223.5 555.2 218.4 555.4 220.6 555.5 221.1 555.7 217.8 555.9 218.4 556 224.2 556.2 218.6 556.3 219.9 556.5 216 556.7 216.8 556.8 211.6 557 215.7 557.1 218.6 557.3 220.6 557.5 217.7 557.6 215.9 557.8 213.7 557.9 211.5 558.1 212.3 558.3 213.9 558.4 209.7 558.6 213.9 558.7 208.3 558.9 205.7 559.1 207.4 559.2 205.1 559.4 205.5 559.5 211.8 559.7 207.8 559.9 208.5 560 210.6 560.2 210.4 560.3 205.2 560.5 209.7 560.7 206.7 560.8 205.3 561 206 561.1 200.5 561.3 201.8 561.5 203.2 561.6 204.7 561.8 201.6 561.9 201.8 562.1 204.3 562.3 205.1 562.4 202.9 562.6 203.8 562.7 198.9 562.9 198.7 563.1 199.9 563.2 197.8 563.4 196.8 563.5 202.2 563.7 196.8 563.9 194.3 564 198.6 564.2 201.2 564.3 196.2 564.5 199.1 564.7 194.3 564.8 193.9 565 193.2 565.1 194.4 565.3 202.5 565.5 191.2 565.6 198.5 565.8 191.1 565.9 193 566.1 195.6 566.3 194.8 566.4 193.6 566.6 188.2 566.7 193.4 566.9 189.4 567.1 198.8 567.2 191.1 567.4 191.9 567.5 188.1 567.7 189.7 567.9 187.2 568 193.1 568.2 189.5 568.3 191.5 568.5 187.9 568.7 188.2 568.8 192.7 569 186.4 569.1 183.9 569.3 189.6 569.5 185.2 569.6 186.9 569.8 190.3 569.9 185.4 570.1 189.7 570.3 185.3 570.4 190.9 570.6 190.2 570.7 185.1 570.9 185.6 571.1 183.7 571.2 186.2 571.4 188.5 571.5 181.3 571.7 187.4 571.9 181.1 572 182.1 572.2 179.2 572.3 189.4 572.5 183.5 572.7 183.6 572.8 180.7 573 185.1 573.1 176.1 573.3 181.5 573.5 190.6 573.6 179.6 573.8 180.3 573.9 181.7 574.1 177.3 574.3 179.2 574.4 181.3 574.6 179.2 574.7 179 574.9 176.7 575.1 178.1 575.2 177 575.4 180.4 575.5 178 575.7 175.1 575.9 168.7 576 176.9 576.2 176.6 576.3 171.7 576.5 168.4 576.7 170.3 576.8 175.6 577 169.8 577.1 171.1 577.3 172.5 577.5 174.8 577.6 171.1 577.8 170.5 577.9 168.9 578.1 174.4 578.3 172.5 578.4 169 578.6 165.1 578.7 166.4 578.9 169.7 579.1 165.8 579.2 169.8 579.4 167.9 579.5 167.4 579.7 168 579.9 167.2 580 163.1 580.2 164.2 580.3 171.1 580.5 161.1 580.7 162.7 580.8 166.5 581 162.9 581.1 160.7 581.3 159 581.5 163.7 581.6 164.6 581.8 165.3 581.9 161.3 582.1 163.6 582.3 157.6 582.4 160.5 582.6 157.9 582.7 159.8 582.9 161 583.1 161.5 583.2 154 583.4 161.3 583.5 156.3 583.7 154.4 583.9 156.4 584 152.5 584.2 156.1 584.3 156.5 584.5 154.8 584.7 157.3 584.8 153.8 585 154.3 585.1 150 585.3 153.8 585.5 150.9 585.6 151.6 585.8 152.2 585.9 152.7 586.1 147.3 586.3 147.2 586.4 150.2 586.6 152 586.7 151.3 586.9 152.4 587.1 153.1 587.2 150.6 587.4 148.8 587.5 145.8 587.7 145.6 587.9 146.6 588 148.2 588.2 147.6 588.3 146.6 588.5 145.8 588.7 147.5 588.8 145.9 589 146.2 589.1 145.3 589.3 142.6 589.5 140.9 589.6 144.6 589.8 144 589.9 141.8 590.1 140.9 590.3 147.7 590.4 139.1 590.6 140.1 590.7 141 590.9 136.8 591.1 139.8 591.2 143.9 591.4 141.1 591.5 139.9 591.7 139.4 591.9 137.7 592 139.5 592.2 136.1 592.3 135 592.5 136 592.7 137.7 592.8 135.7 593 136.2 593.1 128.5 593.3 136.8 593.5 139.5 593.6 136.4 593.8 131.5 593.9 129.6 594.1 132.2 594.3 128.4 594.4 132.6 594.6 128.8 594.7 132.4 594.9 133.1 595.1 123.5 595.2 129.3 595.4 126.2 595.5 123.9 595.7 125.6 595.9 126.3 596 129.3 596.2 122.1 596.3 128.8 596.5 131.2 596.7 127.1 596.8 126.7 597 125 597.1 121.6 597.3 126 597.5 125.3 597.6 126 597.8 130.8 597.9 125.6 598.1 124.5 598.3 127.3 598.4 119.2 598.6 117.7 598.7 121.4 598.9 120.4 599.1 123.8 599.2 120.8 599.4 126.1 599.5 125.3 599.7 123 599.9 119.7 600 122.1 600.2 122.4 600.3 117.1 600.5 120.7 600.7 121.4 600.8 119.9 601 123.3 601.1 122.1 601.3 116.3 601.5 118.6 601.6 115.8 601.8 119.4 601.9 115.2 602.1 119.8 602.3 118.2 602.4 119.5 602.6 116.2 602.7 112.5 602.9 120.9 603.1 115.4 603.2 119.4 603.4 116.6 603.5 117 603.7 119.9 603.9 115.6 604 118.2 604.2 110 604.3 116 604.5 112.6 604.7 112.5 604.8 112.5 605 113 605.1 118.8 605.3 106.2 605.5 111 605.6 108.5 605.8 113.2 605.9 108.5 606.1 110.5 606.3 107.8 606.4 110.3 606.6 110.8 606.7 106.6 606.9 107.4 607.1 103 607.2 107.3 607.4 108.4 607.5 104.2 607.7 108.3 607.9 99.3 608 99.5 608.2 100.3 608.3 102.3 608.5 103.3 608.7 102.6 608.8 102.3 609 105.2 609.1 100.4 609.3 97.8 609.5 97.5 609.6 106.2 609.8 93.7 609.9 99.2 610.1 103.2 610.3 100.2 610.4 96.2 610.6 98.1 610.7 100 610.9 100.5 611.1 94.4 611.2 98.5 611.4 96.7 611.5 98.6 611.7 99 611.9 93.9 612 90.6 612.2 95.3 612.3 98.7 612.5 95.5 612.7 94 612.8 99.5 613 90 613.1 94.9 613.3 90.7 613.5 92.1 613.6 91.9 613.8 95.5 613.9 88.6 614.1 89.4 614.3 86.2 614.4 91.6 614.6 88.7 614.7 90.8 614.9 86.5 615.1 88.2 615.2 91.7 615.4 88.1 615.5 90 615.7 89.5 615.9 86.8 616 83.3 616.2 89.8 616.3 87.4 616.5 89.3 616.7 80.9 616.8 81.6 617 80 617.1 83.1 617.3 89.7 617.5 86.5 617.6 84.6 617.8 84.7 617.9 86.2 618.1 83 618.3 84.6 618.4 83.6 618.6 77.1 618.7 81.7 618.9 86.1 619.1 81.1 619.2 81.5 619.4 79.9 619.5 80 619.7 84.1 619.9 80 620 77.7 620.2 71.9 620.3 78.6 620.5 74.6 620.7 74.8 620.8 81.7 621 81.3 621.1 74 621.3 81.3 621.5 80 621.6 76.5 621.8 80.4 621.9 73.8 622.1 74.8 622.3 74 622.4 74.7 622.6 79.9 622.7 73.7 622.9 74 623.1 74.4 623.2 77.3 623.4 75.6 623.5 78.7 623.7 73.1 623.9 72.5 624 74.4 624.2 75.7 624.3 72.9 624.5 76 624.7 80 624.8 73.3 625 74.8 625.1 78.1 625.3 71.5 625.5 71.8 625.6 71 625.8 74.8 625.9 74.9 626.1 73.2 626.3 74 626.4 77.5 626.6 76.7 626.7 70.8 626.9 74.8 627.1 75.3 627.2 77.2 627.4 74.9 627.5 74 627.7 74.7 627.9 71.4 628 76.4 628.2 75.1 628.3 78.2 628.5 74.4 628.7 75.5 628.8 75 629 75 629.1 80 629.3 77.1 629.5 79.8 629.6 75.8 629.8 79.3 629.9 74.8 630.1 78.2 630.3 78.3 630.4 82.3 630.6 80.6 630.7 79.8 630.9 82.7 631.1 81.1 631.2 82.3 631.4 83.1 631.5 81 631.7 80.6 631.9 82.4 632 79.9 632.2 83 632.3 85.1 632.5 84.6 632.7 81.5 632.8 79.2 633 82.5 633.1 82.7 633.3 86.2 633.5 82.4 633.6 83 633.8 85.8 633.9 82.7 634.1 83.7 634.3 89 634.4 88.5 634.6 86.4 634.7 85.6 634.9 82.5 635.1 86.8 635.2 85.6 635.4 86.2 635.5 84.4 635.7 86 635.9 85.7 636 87.2 636.2 90.2 636.3 87.4 636.5 82 636.7 83.8 636.8 82.2 637 84.4 637.1 88 637.3 87.6 637.5 84.9 637.6 87.3 637.8 84.6 637.9 82.8 638.1 80.5 638.3 84.3 638.4 90.5 638.6 83.1 638.7 90.1 638.9 90.3 639.1 86.3 639.2 86.6 639.4 85.1 639.5 86.7 639.7 88.6 639.9 86.9 640 89.6 640.2 90.1 640.3 87.8 640.5 87.8 640.7 86.8 640.8 88.4 641 84 641.1 88.1 641.3 87.6 641.5 84.7 641.6 92.9 641.8 84.5 641.9 84.8 642.1 87.9 642.3 81.9 642.4 85 642.6 83.1 642.7 84.6 642.9 86.9 643.1 88.1 643.2 90.2 643.4 89.5 643.5 90.5 643.7 89.8 643.9 86.1 644 90.4 644.2 86.2 644.3 86 644.5 91.9 644.7 90 644.8 88.6 645 90.2 645.1 92 645.3 84.8 645.5 88.3 645.6 85.5 645.8 89.2 645.9 87.2 646.1 92.8 646.3 90.6 646.4 87.2 646.6 89.3 646.7 86.4 646.9 89.9 647.1 91.4 647.2 90.7 647.4 85 647.5 89.4 647.7 91.8 647.9 91.4 648 93.8 648.2 87.4 648.3 92.4 648.5 89.3 648.7 92 648.8 92.5 649 93.4 649.1 90.1 649.3 92.3 649.5 88.7 649.6 88.2 649.8 93.7 649.9 92.1 650.1 87.9 650.3 89.8 650.4 92 650.6 96 650.7 94.4 650.9 93.6 651.1 86.5 651.2 90.9 651.4 92.3 651.5 91.9 651.7 91.8 651.9 89.9 652 95.1 652.2 94.1 652.3 89.7 652.5 87.2 652.7 95.2 652.8 88 653 92.6 653.1 97.4 653.3 86.5 653.5 89.7 653.6 87.8 653.8 90 653.9 89.3 654.1 93.5 654.3 89.7 654.4 87.9 654.6 90.8 654.7 86.9 654.9 86.5 655.1 93.3 655.2 84.9 655.4 85.6 655.5 86.9 655.7 83.8 655.9 80.8 656 89.2 656.2 84 656.3 84.5 656.5 84.8 656.7 83 656.8 82.6 657 85.8 657.1 91.7 657.3 87 657.5 86.9 657.6 80.7 657.8 84.5 657.9 81.2 658.1 86.5 658.3 83.9 658.4 84.7 658.6 84.5 658.7 83.3 658.9 80.8 659.1 86.6 659.2 81.4 659.4 82.1 659.5 84.6 659.7 83.6 659.9 86.3 660 88.4 660.2 86.5 660.3 86.4 660.5 86.1 660.7 88.4 660.8 81.2 661 87.3 661.1 83.9 661.3 81.1 661.5 86.7 661.6 85.7 661.8 88.4 661.9 89.9 662.1 80.8 662.3 87 662.4 95.7 662.6 89.7 662.7 91.4 662.9 87.9 663.1 83.8 663.2 84.8 663.4 89.8 663.5 90.6 663.7 86.2 663.9 87.5 664 89.1 664.2 83.8 664.3 87.7 664.5 93.2 664.7 94.9 664.8 88.9 665 94.3 665.1 88.1 665.3 87.5 665.5 83.8 665.6 92.5 665.8 89.1 665.9 96.6 666.1 91.3 666.3 91.1 666.4 85.9 666.6 95 666.7 90.1 666.9 90.8 667.1 85.4 667.2 94.1 667.4 94.4 667.5 90.2 667.7 92.3 667.9 93.3 668 94.9 668.2 92.6 668.3 96.9 668.5 91.6 668.7 90.5 668.8 90.9 669 85.3 669.1 89.9 669.3 94.7 669.5 92.7 669.6 89.7 669.8 92.8 669.9 86.4 670.1 90.5 670.3 93.2 670.4 93.6 670.6 89.6 670.7 94.1 670.9 96.7 671.1 90.4 671.2 93.5 671.4 87.3 671.5 86.2 671.7 93.1 671.9 91.5 672 91.9 672.2 89.7 672.3 90.5 672.5 93.4 672.7 95.8 672.8 90.6 673 86.7 673.1 94.5 673.3 93.6 673.5 92.8 673.6 91.4 673.8 97.2 673.9 91.1 674.1 92.2 674.3 85.8 674.4 89.2 674.6 88.9 674.7 90.6 674.9 91.6 675.1 88.6 675.2 95.2 675.4 87.6 675.5 89.3 675.7 91.1 675.9 87 676 91.9 676.2 92.2 676.3 89.7 676.5 95.8 676.7 90.9 676.8 91.5 677 88.3 677.1 86.4 677.3 89.3 677.5 90.2 677.6 89.9 677.8 93.3 677.9 84.9 678.1 88.3 678.3 86.6 678.4 95.2 678.6 90.1 678.7 90.3 678.9 88.8 679.1 94.3 679.2 90.9 679.4 92.7 679.5 86.6 679.7 95.4 679.9 93.4 680 93.8 680.2 95.5 680.3 91.5 680.5 91.4 680.7 93.6 680.8 92.7 681 90.7 681.1 91.3 681.3 89.7 681.5 92.8 681.6 93.3 681.8 90.5 681.9 95.5 682.1 86.1 682.3 89.5 682.4 94.6 682.6 88.6 682.7 85.3 682.9 93.2 683.1 90.8 683.2 85.9 683.4 91.1 683.5 86.1 683.7 85 683.9 88.1 684 87 684.2 85.2 684.3 87 684.5 83.4 684.7 87.9 684.8 87.5 685 89.4 685.1 86 685.3 83.5 685.5 83.3 685.6 86.1 685.8 90.7 685.9 88.7 686.1 84.5 686.3 88.7 686.4 82.8 686.6 88.5 686.7 84.6 686.9 87.6 687.1 87 687.2 84.4 687.4 85.9 687.5 81.9 687.7 84.5 687.9 87.4 688 95.5 688.2 86.4 688.3 84.8 688.5 82 688.7 87.7 688.8 80.4 689 82.9 689.1 86.1 689.3 82 689.5 89.5 689.6 88.4 689.8 84 689.9 84.2 690.1 82.2 690.3 82.1 690.4 87.2 690.6 87.8 690.7 87.2 690.9 87 691.1 84.9 691.2 87.5 691.4 82.6 691.5 86.8 691.7 93.2 691.9 90.5 692 85.8 692.2 86.3 692.3 91 692.5 92.2 692.7 83.4 692.8 86.4 693 88.3 693.1 91.1 693.3 85.6 693.5 89.8 693.6 87.3 693.8 94.7 693.9 89.5 694.1 88.1 694.3 87.6 694.4 91.5 694.6 90.6 694.7 85.9 694.9 89.6 695.1 85.5 695.2 87.1 695.4 85.8 695.5 85.8 695.7 87.6 695.9 85.3 696 91.2 696.2 92 696.3 89.3 696.5 87 696.7 92.3 696.8 84.8 697 85.1 697.1 92.4 697.3 92.4 697.5 93.3 697.6 90.2 697.8 87.5 697.9 89.6 698.1 92.6 698.3 89.1 698.4 89.4 698.6 87.7 698.7 88.4 698.9 93.9 699.1 93 699.2 88.7 699.4 89 699.5 90.5 699.7 93.7 699.9 89.1 700 91.9 700.2 86.5 700.3 88.9 700.5 93.4 700.7 94.6 700.8 89 701 90 701.1 94.2 701.3 90.9 701.5 90.4 701.6 93.2 701.8 92.3 701.9 94.7 702.1 93.8 702.3 90.1 702.4 91.3 702.6 91.4 702.7 87.8 702.9 88.8 703.1 94 703.2 84.4 703.4 94 703.5 92 703.7 90.8 703.9 92.6 704 92.3 704.2 94.3 704.3 89.9 704.5 90.3 704.7 90.2 704.8 95.9 705 93.3 705.1 88.2 705.3 89.1 705.5 88.7 705.6 90.6 705.8 91 705.9 96.6 706.1 85.5 706.3 93.4 706.4 91.9 706.6 89 706.7 90.6 706.9 89.8 707.1 91.4 707.2 94.1 707.4 87.4 707.5 95.2 707.7 90.8 707.9 96 708 93.2 708.2 95.6 708.3 93.9 708.5 95.4 708.7 92.8 708.8 90.5 709 94.7 709.1 94.9 709.3 98.8 709.5 87.9 709.6 92.9 709.8 96.4 709.9 90.3 710.1 93.2 710.3 99.7 710.4 97.9 710.6 91.8 710.7 98.2 710.9 97.7 711.1 96.7 711.2 95.8 711.4 95.5 711.5 92.7 711.7 93.8 711.9 97.3 712 95.8 712.2 100.2 712.3 94.1 712.5 88.3 712.7 93.7 712.8 95.1 713 95.2 713.1 94.1 713.3 91.5 713.5 97.6 713.6 91.5 713.8 95.1 713.9 92.2 714.1 89.5 714.3 96.3 714.4 85.5 714.6 89.8 714.7 93.1 714.9 90.7 715.1 93.5 715.2 91 715.4 89.9 715.5 96.7 715.7 90.1 715.9 90 716 85.5 716.2 88 716.3 91.6 716.5 91.2 716.7 89.5 716.8 87.4 717 90.9 717.1 84.2 717.3 87.7 717.5 87.7 717.6 85.9 717.8 88.4 717.9 86 718.1 85.4 718.3 92.3 718.4 89.2 718.6 90.2 718.7 86.9 718.9 89.2 719.1 88.6 719.2 90 719.4 93.3 719.5 86.5 719.7 88 719.9 87.4 720 78.2 720.2 84.1 720.3 88.1 720.5 90 720.7 86.9 720.8 91.7 721 92.3 721.1 87.9 721.3 95.4 721.5 94.2 721.6 90.9 721.8 87.2 721.9 94 722.1 89.8 722.3 89.4 722.4 90.9 722.6 89.3 722.7 93.9 722.9 93.3 723.1 94.7 723.2 93.1 723.4 89.6 723.5 91.5 723.7 94.5 723.9 91.2 724 100.4 724.2 92.3 724.3 91.7 724.5 96.8 724.7 96.1 724.8 94.3 725 94.2 725.1 96.3 725.3 97.8 725.5 98 725.6 95.5 725.8 97.8 725.9 99.3 726.1 99.5 726.3 89.4 726.4 94.3 726.6 96.4 726.7 98.3 726.9 100 727.1 102.1 727.2 101.7 727.4 100 727.5 100.8 727.7 105.9 727.9 99.9 728 102.7 728.2 106.5 728.3 103.6 728.5 97.5 728.7 104.4 728.8 102.7 729 103.8 729.1 107.3 729.3 106.1 729.5 104.5 729.6 108 729.8 107.2 729.9 106.6 730.1 107.4 730.3 107.5 730.4 106.1 730.6 106 730.7 107.5 730.9 105 731.1 104.4 731.2 111.5 731.4 107.6 731.5 108.4 731.7 108.3 731.9 108.9 732 109.1 732.2 109.4 732.3 107.3 732.5 112.1 732.7 108 732.8 112.8 733 105 733.1 107.6 733.3 113.3 733.5 110.4 733.6 109.2 733.8 112.2 733.9 108.6 734.1 111.8 734.3 105.8 734.4 110.8 734.6 110.5 734.7 113.9 734.9 115 735.1 110.5 735.2 117.4 735.4 111.6 735.5 107.9 735.7 107.2 735.9 118 736 113.8 736.2 112.5 736.3 112.4 736.5 111.7 736.7 118.5 736.8 114.8 737 120.1 737.1 114.9 737.3 109.3 737.5 118.1 737.6 115 737.8 115.6 737.9 120.7 738.1 116 738.3 120.3 738.4 117.5 738.6 115.9 738.7 119.7 738.9 116.2 739.1 122.5 739.2 122.1 739.4 120.1 739.5 122 739.7 122.3 739.9 120.4 740 124 740.2 121.3 740.3 124 740.5 120.2 740.7 123.6 740.8 124.7 741 121.8 741.1 123.2 741.3 123.3 741.5 127.1 741.6 123.6 741.8 127.1 741.9 130.5 742.1 127.5 742.3 122.3 742.4 127.1 742.6 129.6 742.7 126.1 742.9 130 743.1 128.7 743.2 128.3 743.4 126.5 743.5 125.9 743.7 126.7 743.9 127.6 744 128.9 744.2 129.4 744.3 126.9 744.5 128 744.7 128.9 744.8 123.6 745 125.9 745.1 125.9 745.3 127.6 745.5 127.5 745.6 127.6 745.8 126.1 745.9 130.3 746.1 129.3 746.3 124.2 746.4 128.8 746.6 125.8 746.7 133.5 746.9 127.8 747.1 128 747.2 129.4 747.4 128.7 747.5 129.2 747.7 133.6 747.9 130.1 748 131.8 748.2 132.7 748.3 127.1 748.5 134.4 748.7 131.7 748.8 132.5 749 127.7 749.1 132.3 749.3 131.3 749.5 128.8 749.6 136.5 749.8 132 749.9 129.9 750.1 131.3 750.3 133.5 750.4 134.4 750.6 133.3 750.7 137.3 750.9 136.3 751.1 129.3 751.2 131.7 751.4 130.8 751.5 133.9 751.7 137.8 751.9 136 752 131.8 752.2 134.1 752.3 138 752.5 134.1 752.7 135.6 752.8 137 753 131.6 753.1 138.9 753.3 138.1 753.5 139 753.6 135.2 753.8 136 753.9 136.8 754.1 139.4 754.3 139.3 754.4 139.7 754.6 144.6 754.7 143.6 754.9 138.4 755.1 139 755.2 145.8 755.4 140.8 755.5 145.8 755.7 146.8 755.9 141.5 756 142.7 756.2 144.1 756.3 142 756.5 142.1 756.7 144.1 756.8 148 757 144.9 757.1 146 757.3 145.7 757.5 143.8 757.6 151.9 757.8 142 757.9 147 758.1 150.7 758.3 145.9 758.4 151.8 758.6 154 758.7 148.7 758.9 152 759.1 148.9 759.2 153.7 759.4 153.1 759.5 153.8 759.7 157.4 759.9 155.4 760 158.2 760.2 156.4 760.3 151.7 760.5 155.8 760.7 156.5 760.8 151.5 761 159.1 761.1 155.9 761.3 156.8 761.5 153.6 761.6 156.4 761.8 157.1 761.9 155.6 762.1 156.9 762.3 151.1 762.4 160.6 762.6 154.1 762.7 151.4 762.9 154.9 763.1 155.4 763.2 159.2 763.4 155.5 763.5 158.9 763.7 155.7 763.9 164.4 764 160 764.2 164 764.3 156.2 764.5 160.8 764.7 156.6 764.8 160.9 765 161.4 765.1 155.4 765.3 156.8 765.5 156.9 765.6 156.1 765.8 158.4 765.9 157.9 766.1 156.7 766.3 161.1 766.4 162.4 766.6 157.6 766.7 159.8 766.9 161.5 767.1 161 767.2 159.9 767.4 164.1 767.5 165.8 767.7 164.1 767.9 161.8 768 167.9 768.2 167.6 768.3 162.1 768.5 163.2 768.7 167.1 768.8 162 769 165.6 769.1 165 769.3 163.2 769.5 164.8 769.6 161.5 769.8 164.6 769.9 161 770.1 172.9 770.3 171.1 770.4 170.7 770.6 168.5 770.7 170.7 770.9 171.8 771.1 171.4 771.2 171.4 771.4 166.8 771.5 170.8 771.7 168.5 771.9 167.1 772 167.5 772.2 172 772.3 174 772.5 167.8 772.7 179.4 772.8 176.1 773 171.4 773.1 171.5 773.3 172.9 773.5 176.1 773.6 172.7 773.8 171.1 773.9 175.3 774.1 169 774.3 175 774.4 177.8 774.6 175.6 774.7 177 774.9 176.3 775.1 177 775.2 175.5 775.4 173 775.5 174.7 775.7 175.2 775.9 178.8 776 179.9 776.2 176.7 776.3 173.6 776.5 173.8 776.7 175.3 776.8 179.7 777 176.9 777.1 175.9 777.3 174.1 777.5 178.6 777.6 177.6 777.8 176.3 777.9 176.7 778.1 181.1 778.3 176.2 778.4 181.3 778.6 180.1 778.7 177 778.9 179.3 779.1 176.7 779.2 174.9 779.4 176.5 779.5 174.8 779.7 178.7 779.9 177.5 780 179 780.2 179.8 780.3 169.2 780.5 178.6 780.7 173 780.8 178.4 781 175.6 781.1 178.4 781.3 181.8 781.5 173.6 781.6 178.8 781.8 178.2 781.9 173.4 782.1 180.5 782.3 179.2 782.4 178.1 782.6 177.9 782.7 188.9 782.9 179.5 783.1 176.1 783.2 177.3 783.4 180.7 783.5 181.1 783.7 182.3 783.9 180 784 184.7 784.2 182.3 784.3 180.3 784.5 182.1 784.7 183.7 784.8 187.4 785 187.5 785.1 184.9 785.3 186.3 785.5 187.5 785.6 192.5 785.8 185.7 785.9 189 786.1 190 786.3 185.9 786.4 189.3 786.6 189.9 786.7 188.3 786.9 191.5 787.1 194.7 787.2 193.7 787.4 190.5 787.5 191.9 787.7 198.1 787.9 189.2 788 193.1 788.2 195.4 788.3 193.8 788.5 195.5 788.7 194.6 788.8 196.6 789 198.4 789.1 194.8 789.3 196.3 789.5 196 789.6 195.5 789.8 196.9 789.9 194.3 790.1 199.8 790.3 202.7 790.4 203.2 790.6 202.4 790.7 196.7 790.9 203.9 791.1 198.2 791.2 200.4 791.4 205.9 791.5 198.5 791.7 204 791.9 202.9 792 202.1 792.2 200.3 792.3 203.9 792.5 201.6 792.7 205.8 792.8 206.4 793 199.5 793.1 202 793.3 202.6 793.5 200.4 793.6 200.7 793.8 204.1 793.9 203.4 794.1 199.6 794.3 202.7 794.4 205.7 794.6 201.2 794.7 202.1 794.9 209 795.1 208.4 795.2 200.5 795.4 201.4 795.5 206.2 795.7 202.1 795.9 204.7 796 204.3 796.2 207.1 796.3 198.9 796.5 199.9 796.7 200.7 796.8 208.9 797 205.8 797.1 201.7 797.3 207.8 797.5 208.5 797.6 206.1 797.8 205.9 797.9 208.1 798.1 210.3 798.3 207.6 798.4 208.8 798.6 207.3 798.7 206.5 798.9 205.2 799.1 208.5 799.2 207.1 799.4 207.4 799.5 210.7 799.7 209.6 799.9 210.7 800 204.3 800.2 210.3 800.3 207.5 800.5 207.2 800.7 207.3 800.8 213.1 801 212.4 801.1 208.5 801.3 207.6 801.5 211 801.6 210 801.8 215.9 801.9 207.8 802.1 207.1 802.3 211.6 802.4 212.6 802.6 213.2 802.7 215.1 802.9 222.3 803.1 212.7 803.2 212.4 803.4 209.4 803.5 215.1 803.7 217 803.9 214.2 804 218.4 804.2 215.5 804.3 219.8 804.5 216.9 804.7 213.4 804.8 214.8 805 212.7 805.1 212.4 805.3 218.1 805.5 219.9 805.6 223.1 805.8 218 805.9 217.8 806.1 215.5 806.3 221.3 806.4 219.7 806.6 217.1 806.7 220.6 806.9 220.3 807.1 213.8 807.2 220.9 807.4 219.3 807.5 218 807.7 217.9 807.9 223.8 808 223.3 808.2 224.2 808.3 216.2 808.5 217.6 808.7 221.8 808.8 216.2 809 217.5 809.1 214.7 809.3 224.6 809.5 222.5 809.6 220.9 809.8 220.4 809.9 218.7 810.1 218.8 810.3 221.6 810.4 218.1 810.6 223.3 810.7 218.8 810.9 217.8 811.1 223.7 811.2 219.9 811.4 221.8 811.5 219.2 811.7 214.3 811.9 221.9 812 216.9 812.2 223.8 812.3 217 812.5 216.5 812.7 222.7 812.8 223.3 813 222.7 813.1 219.5 813.3 225.5 813.5 219.5 813.6 222.5 813.8 220.7 813.9 223.4 814.1 227 814.3 223.3 814.4 226.9 814.6 227.5 814.7 221.4 814.9 223.2 815.1 225.6 815.2 224.4 815.4 228.1 815.5 222.4 815.7 229.8 815.9 230.2 816 228.1 816.2 225.1 816.3 229.2 816.5 228 816.7 231.3 816.8 229.9 817 233.6 817.1 229.6 817.3 235 817.5 225.2 817.6 229 817.8 233.4 817.9 228.3 818.1 234.7 818.3 229.6 818.4 233.5 818.6 231 818.7 232.5 818.9 234.5 819.1 234 819.2 233.5 819.4 240.6 819.5 235.1 819.7 232.7 819.9 238.1 820 238.1 820.2 239.4 820.3 241.2 820.5 234.1 820.7 239.8 820.8 240.3 821 237.5 821.1 238.4 821.3 229.9 821.5 236.7 821.6 243.4 821.8 234 821.9 237.6 822.1 240.1 822.3 241.2 822.4 244.3 822.6 235.4 822.7 240.5 822.9 243 823.1 237.4 823.2 241.1 823.4 246.6 823.5 245.3 823.7 243.5 823.9 231 824 242.2 824.2 243.8 824.3 242.1 824.5 242.9 824.7 251.7 824.8 242.9 825 241.1 825.1 244.6 825.3 243.3 825.5 243 825.6 244.3 825.8 246.8 825.9 245.6 826.1 241.9 826.3 245 826.4 246.8 826.6 244.5 826.7 249 826.9 248.2 827.1 243.6 827.2 247.4 827.4 252.1 827.5 251.1 827.7 247 827.9 249.7 828 245.7 828.2 243.8 828.3 249.4 828.5 248.8 828.7 249.7 828.8 248.5 829 249.6 829.1 247.5 829.3 250.4 829.5 251.6 829.6 249.4 829.8 251.9 829.9 245.1 830.1 248 830.3 254.2 830.4 255.3 830.6 251.4 830.7 250.6 830.9 247.7 831.1 252.3 831.2 253.6 831.4 247.7 831.5 253.4 831.7 253.4 831.9 253.5 832 249.5 832.2 254.3 832.3 249 832.5 257.4 832.7 254 832.8 250.7 833 257.8 833.1 257.5 833.3 252.9 833.5 260.9 833.6 252.5 833.8 256.3 833.9 258.9 834.1 249.9 834.3 259 834.4 256.4 834.6 256.8 834.7 254.2 834.9 258.2 835.1 254.6 835.2 255.3 835.4 256.9 835.5 255.1 835.7 262.9 835.9 255.3 836 257.2 836.2 258.6 836.3 259.7 836.5 262.1 836.7 262.5 836.8 259.7 837 259.8 837.1 261.2 837.3 263.6 837.5 263.5 837.6 260.5 837.8 256.6 837.9 268.2 838.1 265.1 838.3 263.3 838.4 263.6 838.6 261.4 838.7 260.2 838.9 262.1 839.1 262.4 839.2 261.4 839.4 259.3 839.5 262.4 839.7 264.9 839.9 262.1 840 263.6 840.2 258 840.3 263.1 840.5 263.4 840.7 260.5 840.8 259.2 841 265.1 841.1 261.9 841.3 265.5 841.5 263.1 841.6 266 841.8 263.5 841.9 260.4 842.1 264.3 842.3 263.7 842.4 266.5 842.6 263.6 842.7 263.8 842.9 267.3 843.1 268.2 843.2 267.2 843.4 268 843.5 266.5 843.7 267.4 843.9 267.8 844 266.6 844.2 266 844.3 266.5 844.5 272.9 844.7 266.7 844.8 266.4 845 266.3 845.1 267.5 845.3 268.5 845.5 265.1 845.6 263.1 845.8 269.6 845.9 264.7 846.1 270 846.3 270 846.4 273 846.6 274.7 846.7 271.5 846.9 269.3 847.1 267.9 847.2 269.3 847.4 271.8 847.5 266.4 847.7 272.5 847.9 272.5 848 274.6 848.2 272.3 848.3 273.7 848.5 271.8 848.7 272.8 848.8 269.5 849 275 849.1 279.1 849.3 275.7 849.5 276.5 849.6 273.2 849.8 280 849.9 274.3 850.1 278.9 850.3 277.3 850.4 274.8 850.6 280.4 850.7 278 850.9 278.8 851.1 279.8 851.2 278.9 851.4 278.2 851.5 280.8 851.7 278.8 851.9 280.4 852 278.7 852.2 276.8 852.3 279.4 852.5 280.2 852.7 281.9 852.8 285.3 853 277.9 853.1 283.1 853.3 277.1 853.5 280.6 853.6 282.4 853.8 278 853.9 279.4 854.1 285.1 854.3 285.2 854.4 285 854.6 283.5 854.7 291.8 854.9 285.9 855.1 284.3 855.2 291.5 855.4 288.9 855.5 286.6 855.7 291.1 855.9 288.6 856 290.3 856.2 289.3 856.3 286 856.5 291.5 856.7 289.4 856.8 286.4 857 287.2 857.1 291.9 857.3 288.5 857.5 289.7 857.6 291.5 857.8 290.2 857.9 285.8 858.1 291.8 858.3 292.7 858.4 292.7 858.6 294.8 858.7 291.5 858.9 292.8 859.1 295.1 859.2 290.1 859.4 295.7 859.5 295.8 859.7 293.4 859.9 296.4 860 293.8 860.2 289.3 860.3 294.8 860.5 292.8 860.7 293.1 860.8 292.5 861 295.9 861.1 293.8 861.3 290.6 861.5 294.7 861.6 294.7 861.8 290.9 861.9 291.8 862.1 292.3 862.3 292.1 862.4 295.1 862.6 297.4 862.7 300.2 862.9 298.8 863.1 298.8 863.2 301.4 863.4 300.6 863.5 296.4 863.7 299.8 863.9 299.2 864 298.5 864.2 298 864.3 298.4 864.5 299.5 864.7 297.3 864.8 302.5 865 301.5 865.1 302.3 865.3 303.4 865.5 304.9 865.6 301.8 865.8 303.6 865.9 300 866.1 298.5 866.3 299.3 866.4 308.7 866.6 299.7 866.7 305.9 866.9 311.1 867.1 303.5 867.2 309.1 867.4 309.7 867.5 307.3 867.7 311.2 867.9 306.5 868 302.9 868.2 306.3 868.3 303.7 868.5 301.5 868.7 301.6 868.8 311.3 869 303.6 869.1 305 869.3 303.3 869.5 305.5 869.6 304.6 869.8 304.1 869.9 302 870.1 301.5 870.3 303.3 870.4 306.2 870.6 311 870.7 310 870.9 310.4 871.1 306.8 871.2 305.3 871.4 302 871.5 305.6 871.7 299.8 871.9 304.8 872 310.1 872.2 306.6 872.3 308.8 872.5 304.7 872.7 302.1 872.8 304.5 873 304.8 873.1 309.2 873.3 311.3 873.5 304 873.6 305 873.8 305.6 873.9 305.1 874.1 302.9 874.3 306.9 874.4 307.9 874.6 308.3 874.7 304.4 874.9 307.6 875.1 303.6 875.2 311.1 875.4 306.2 875.5 308.5 875.7 308.4 875.9 308.4 876 307.4 876.2 305.8 876.3 315.6 876.5 312 876.7 312.3 876.8 317.6 877 312 877.1 314.1 877.3 313.1 877.5 316.5 877.6 315 877.8 314.8 877.9 313.6 878.1 315.4 878.3 318.1 878.4 306.4 878.6 315.3 878.7 314.8 878.9 315.5 879.1 311.3 879.2 318.9 879.4 315 879.5 317 879.7 316.6 879.9 313.8 880 316.8 880.2 314 880.3 316.7 880.5 318.7 880.7 319.9 880.8 320.4 881 320.2 881.1 326.6 881.3 322.4 881.5 318.2 881.6 320.2 881.8 320.4 881.9 322 882.1 321.2 882.3 320.8 882.4 327.9 882.6 323.9 882.7 323.2 882.9 323.7 883.1 324.1 883.2 331.1 883.4 326.6 883.5 328.7 883.7 317.6 883.9 327.2 884 329.5 884.2 332.3 884.3 327.4 884.5 323 884.7 329.5 884.8 326.6 885 323.7 885.1 327.2 885.3 332 885.5 332.8 885.6 331.8 885.8 327.3 885.9 337.3 886.1 327.5 886.3 330.6 886.4 327 886.6 334.6 886.7 332.3 886.9 333.6 887.1 331.6 887.2 331.3 887.4 332.1 887.5 326.6 887.7 334.5 887.9 334.4 888 331 888.2 332.1 888.3 333.1 888.5 336.6 888.7 333.7 888.8 332.7 889 331.4 889.1 328.8 889.3 331.4 889.5 333.3 889.6 332.5 889.8 333.5 889.9 335.4 890.1 334.7 890.3 334.4 890.4 335.5 890.6 334.4 890.7 333.9 890.9 335.4 891.1 329.6 891.2 337.7 891.4 331 891.5 336.8 891.7 334.7 891.9 337.8 892 335 892.2 332.5 892.3 338.1 892.5 335.8 892.7 335.7 892.8 335.7 893 338.3 893.1 338.1 893.3 336.8 893.5 332.3 893.6 335.7 893.8 337.4 893.9 342.2 894.1 338.7 894.3 337.7 894.4 341.5 894.6 338.2 894.7 338.8 894.9 339.6 895.1 335.4 895.2 342.3 895.4 341.2 895.5 339.5 895.7 337.5 895.9 341.5 896 345 896.2 339.7 896.3 338.9 896.5 343.2 896.7 338 896.8 336.7 897 341.7 897.1 341.4 897.3 342.8 897.5 342.3 897.6 345 897.8 343.6 897.9 343.1 898.1 343.8 898.3 347 898.4 348.2 898.6 348.3 898.7 348.1 898.9 337.6 899.1 344 899.2 345.9 899.4 347.4 899.5 342.5 899.7 350.8 899.9 347.8 900 345.4 900.2 347.6 900.3 346.3 900.5 345.3 900.7 348.7 900.8 346.2 901 343.7 901.1 345.9 901.3 347.3 901.5 344.8 901.6 351.2 901.8 344.9 901.9 352.7 902.1 350.4 902.3 345.5 902.4 348.5 902.6 351.4 902.7 347.8 902.9 345.1 903.1 348.7 903.2 353.9 903.4 344.5 903.5 350.1 903.7 348.8 903.9 348.4 904 347.8 904.2 348 904.3 351.8 904.5 350.6 904.7 346.4 904.8 353.4 905 345.7 905.1 351.1 905.3 349.9 905.5 352.7 905.6 350.5 905.8 354.3 905.9 349.6 906.1 352.6 906.3 351.3 906.4 356.5 906.6 349.3 906.7 354.8 906.9 353.2 907.1 353.2 907.2 351.2 907.4 354.4 907.5 349.6 907.7 350.3 907.9 356.3 908 350.5 908.2 359 908.3 354.8 908.5 356.6 908.7 356.6 908.8 357.9 909 356.4 909.1 356.6 909.3 357.6 909.5 361.2 909.6 361.8 909.8 362.6 909.9 360.5 910.1 359.3 910.3 355.6 910.4 362.1 910.6 362.8 910.7 359.7 910.9 363.2 911.1 364.8 911.2 361.8 911.4 364.6 911.5 362.8 911.7 357.5 911.9 361.2 912 361.6 912.2 364.4 912.3 360.8 912.5 362.2 912.7 361 912.8 363.8 913 364.3 913.1 367 913.3 366.7 913.5 365.3 913.6 365.7 913.8 365.6 913.9 365.8 914.1 370 914.3 359.3 914.4 365.8 914.6 367.3 914.7 369.8 914.9 364 915.1 368.1 915.2 369.8 915.4 366.5 915.5 362.8 915.7 367.2 915.9 365.2 916 370.5 916.2 366.7 916.3 374.1 916.5 369.9 916.7 367.6 916.8 368.7 917 367.4 917.1 371.7 917.3 374.9 917.5 370.6 917.6 373.9 917.8 369.1 917.9 372.8 918.1 378.4 918.3 368.7 918.4 376.1 918.6 376.2 918.7 368.2 918.9 369.7 919.1 371.2 919.2 376.7 919.4 373.2 919.5 374.2 919.7 376.8 919.9 375.5 920 376 920.2 374.8 920.3 379 920.5 374.1 920.7 381 920.8 375.8 921 374.8 921.1 378.9 921.3 378.6 921.5 372.2 921.6 378.4 921.8 374.4 921.9 376 922.1 380.6 922.3 376.3 922.4 379.8 922.6 378.1 922.7 384.5 922.9 379.3 923.1 376.6 923.2 377 923.4 377.7 923.5 380.7 923.7 380.6 923.9 385.1 924 381.5 924.2 381.6 924.3 382.3 924.5 381.3 924.7 382.7 924.8 384.2 925 384.4 925.1 381 925.3 378 925.5 380.8 925.6 383.9 925.8 376.7 925.9 382.3 926.1 385 926.3 382.5 926.4 381.3 926.6 389.3 926.7 388.5 926.9 384.3 927.1 388.8 927.2 389 927.4 382.7 927.5 393.2 927.7 383.7 927.9 385.7 928 383.7 928.2 387.1 928.3 383.6 928.5 387.4 928.7 390.6 928.8 388.5 929 387.4 929.1 392.5 929.3 386.2 929.5 391.5 929.6 388.3 929.8 389.9 929.9 389.6 930.1 390.1 930.3 389.7 930.4 387.9 930.6 388.6 930.7 391.4 930.9 390.1 931.1 387.3 931.2 388.7 931.4 388.9 931.5 390.7 931.7 391.5 931.9 391.4 932 389.5 932.2 391.4 932.3 387.8 932.5 383.8 932.7 391.6 932.8 387.4 933 389.4 933.1 388.9 933.3 393.9 933.5 389.1 933.6 393.2 933.8 391.3 933.9 389.4 934.1 388.6 934.3 395 934.4 394.2 934.6 395.3 934.7 398.3 934.9 394.2 935.1 394.3 935.2 393.1 935.4 393.6 935.5 392.3 935.7 390.7 935.9 398.4 936 387.8 936.2 393.4 936.3 393.8 936.5 392.9 936.7 389.8 936.8 391.8 937 391 937.1 389.2 937.3 391.9 937.5 390.8 937.6 390.3 937.8 393.5 937.9 388.7 938.1 393.1 938.3 390.9 938.4 394.3 938.6 393.9 938.7 395 938.9 392.3 939.1 393.5 939.2 393.9 939.4 397.3 939.5 399.4 939.7 400.9 939.9 396.5 940 399.5 940.2 395.5 940.3 390.9 940.5 398.8 940.7 399.9 940.8 398.1 941 398.1 941.1 405 941.3 402 941.5 400.2 941.6 415.4 941.8 406.4 941.9 405.7 942.1 410.1 942.3 405.8 942.4 412.7 942.6 404.9 942.7 406.1 942.9 409.9 943.1 408.8 943.2 415.3 943.4 407.8 943.5 410.7 943.7 413.9 943.9 415.4 944 417.1 944.2 415.4 944.3 420.4 944.5 413.1 944.7 414.9 944.8 416.7 945 413.6 945.1 413.6 L945.1 512.7 945 524.5 944.8 518 944.7 519.7 944.5 516.3 944.3 519.4 944.2 521.6 944 520.5 943.9 519 943.7 514.8 943.5 512.5 943.4 514.1 943.2 517.3 943.1 509.6 942.9 515.1 942.7 512.3 942.6 511.2 942.4 519.5 942.3 512.8 942.1 510.9 941.9 510.8 941.8 508.2 941.6 507.7 941.5 501.4 941.3 505.3 941.1 511.7 941 509.5 940.8 503.5 940.7 506.1 940.5 502.9 940.3 505.2 940.2 503.5 940 503.9 939.9 498.3 939.7 500.1 939.5 504.7 939.4 502.7 939.2 498.8 939.1 499.2 938.9 498.9 938.7 497 938.6 496.6 938.4 494.1 938.3 497.8 938.1 499.7 937.9 497.1 937.8 493.6 937.6 498.7 937.5 499.4 937.3 494.9 937.1 498 937 494.8 936.8 495.6 936.7 498.7 936.5 500.1 936.3 500.6 936.2 494.5 936 495.7 935.9 496.5 935.7 492.7 935.5 493.5 935.4 499.1 935.2 496.5 935.1 491.2 934.9 501.6 934.7 498.6 934.6 491.5 934.4 493.8 934.3 496.3 934.1 494.9 933.9 494.3 933.8 491.5 933.6 494.6 933.5 495.1 933.3 495.7 933.1 500.4 933 499.7 932.8 493.8 932.7 495.1 932.5 496 932.3 495 932.2 496 932 498.5 931.9 497.8 931.7 497.2 931.5 496.3 931.4 491.3 931.2 492.4 931.1 503.2 930.9 490.8 930.7 496.3 930.6 493.2 930.4 493.4 930.3 494.2 930.1 492.8 929.9 492.7 929.8 488.7 929.6 493 929.5 494.2 929.3 491.7 929.1 490.8 929 491.2 928.8 489.8 928.7 493.2 928.5 484.9 928.3 493.7 928.2 490.3 928 490.7 927.9 488.6 927.7 488.3 927.5 488.9 927.4 491.5 927.2 484.9 927.1 486.5 926.9 487.1 926.7 491.4 926.6 489.6 926.4 488.3 926.3 482.8 926.1 490.2 925.9 483.6 925.8 489.9 925.6 484.1 925.5 482.9 925.3 484.3 925.1 486.9 925 486.2 924.8 481.8 924.7 482.4 924.5 483.4 924.3 484.7 924.2 481.2 924 486.2 923.9 482.8 923.7 487.8 923.5 483.7 923.4 485.5 923.2 483.7 923.1 478.2 922.9 484.2 922.7 485.4 922.6 482.5 922.4 484.1 922.3 482.9 922.1 484.3 921.9 478.4 921.8 479.6 921.6 483.1 921.5 479.8 921.3 478.8 921.1 474.3 921 478.6 920.8 481.9 920.7 481 920.5 475.9 920.3 480.7 920.2 478.5 920 478.6 919.9 476 919.7 487.8 919.5 482.9 919.4 474.5 919.2 480.7 919.1 476.9 918.9 482.5 918.7 474 918.6 474.9 918.4 475.2 918.3 472.7 918.1 480.9 917.9 475.1 917.8 474.3 917.6 474.8 917.5 473.1 917.3 469.2 917.1 470 917 471.2 916.8 471.4 916.7 475.6 916.5 473.4 916.3 474.5 916.2 471.7 916 470.5 915.9 471.8 915.7 469.7 915.5 469.3 915.4 473.2 915.2 475.7 915.1 470.5 914.9 473.7 914.7 470.9 914.6 469.1 914.4 467.4 914.3 466.8 914.1 470.6 913.9 471.2 913.8 466.5 913.6 472.2 913.5 466.1 913.3 469.5 913.1 472.8 913 469.7 912.8 473.3 912.7 469 912.5 467.1 912.3 468.7 912.2 465.5 912 462.4 911.9 467 911.7 471.9 911.5 462.3 911.4 466.8 911.2 466.7 911.1 462.9 910.9 463.1 910.7 467.4 910.6 463.4 910.4 463.7 910.3 467.2 910.1 460.3 909.9 464.6 909.8 459.6 909.6 459.9 909.5 458.4 909.3 460.3 909.1 462.9 909 461 908.8 459.6 908.7 458.7 908.5 458.9 908.3 460.9 908.2 457.6 908 461.5 907.9 452 907.7 459.6 907.5 457.3 907.4 453.9 907.2 457.9 907.1 457 906.9 454.2 906.7 453.8 906.6 454.7 906.4 459 906.3 455.2 906.1 453.3 905.9 448.3 905.8 452.4 905.6 451.9 905.5 450.8 905.3 454.8 905.1 454.6 905 449.8 904.8 452.4 904.7 454 904.5 451.4 904.3 449.7 904.2 449.4 904 450.8 903.9 450.2 903.7 455.1 903.5 455.3 903.4 452.7 903.2 447.3 903.1 452 902.9 451 902.7 448.9 902.6 454.2 902.4 453.6 902.3 450 902.1 448 901.9 445.2 901.8 451.8 901.6 447.6 901.5 453.4 901.3 450.7 901.1 448.2 901 452.8 900.8 449 900.7 454.9 900.5 450.2 900.3 448.7 900.2 451.1 900 449.7 899.9 451 899.7 453.8 899.5 446.5 899.4 452.6 899.2 445 899.1 450 898.9 449.2 898.7 445.7 898.6 446.4 898.4 448 898.3 449.9 898.1 444.5 897.9 446.5 897.8 449.6 897.6 441.2 897.5 444.9 897.3 453.9 897.1 446.9 897 443.7 896.8 440.3 896.7 445.4 896.5 446.1 896.3 442.4 896.2 441 896 443.4 895.9 444 895.7 446.6 895.5 439.6 895.4 441.4 895.2 442 895.1 447 894.9 439.6 894.7 441.3 894.6 444 894.4 435.2 894.3 440.8 894.1 439.4 893.9 441.4 893.8 437.9 893.6 445.7 893.5 438.4 893.3 438.9 893.1 440 893 438.2 892.8 435.2 892.7 442.5 892.5 440 892.3 436.8 892.2 436.2 892 438.7 891.9 436.5 891.7 438.5 891.5 434 891.4 436.8 891.2 438.6 891.1 441 890.9 434.4 890.7 438.6 890.6 435.6 890.4 438.4 890.3 434.8 890.1 438.8 889.9 440.5 889.8 439.4 889.6 437.8 889.5 435.8 889.3 433.4 889.1 435.2 889 432.3 888.8 429.1 888.7 437.2 888.5 435.2 888.3 437.5 888.2 433 888 435 887.9 434.7 887.7 433 887.5 432.5 887.4 437.6 887.2 433 887.1 436.2 886.9 434.1 886.7 436.1 886.6 435 886.4 431.6 886.3 437.9 886.1 431.6 885.9 436.9 885.8 433.4 885.6 434.7 885.5 430.3 885.3 433.1 885.1 436.3 885 426 884.8 435.8 884.7 432 884.5 429.6 884.3 430.3 884.2 431.8 884 429.2 883.9 425.6 883.7 431.4 883.5 429.4 883.4 430.7 883.2 426.6 883.1 425.7 882.9 419.4 882.7 432.8 882.6 428.6 882.4 428.6 882.3 427 882.1 425.7 881.9 426.6 881.8 427.5 881.6 425.1 881.5 422.9 881.3 427.1 881.1 419.2 881 424.7 880.8 429.5 880.7 426.3 880.5 421.5 880.3 421.9 880.2 420.6 880 416.7 879.9 419.7 879.7 425.7 879.5 423 879.4 423 879.2 419.5 879.1 418.5 878.9 419.7 878.7 421.2 878.6 413.6 878.4 421.9 878.3 417.3 878.1 417 877.9 416 877.8 420.3 877.6 414.9 877.5 418.3 877.3 411.8 877.1 418.6 877 417.3 876.8 410.9 876.7 416.2 876.5 410 876.3 413.7 876.2 410.2 876 413.3 875.9 410.2 875.7 410.9 875.5 412.4 875.4 411 875.2 415.2 875.1 409.8 874.9 404.8 874.7 409.9 874.6 409.2 874.4 407.6 874.3 406 874.1 405.6 873.9 407 873.8 407.6 873.6 407.4 873.5 410.9 873.3 405.9 873.1 405.1 873 404.2 872.8 411.1 872.7 403.7 872.5 413.6 872.3 407.1 872.2 409.9 872 408.8 871.9 405.2 871.7 410.5 871.5 410.7 871.4 413.3 871.2 404.4 871.1 407.6 870.9 410.1 870.7 406 870.6 411.2 870.4 406.1 870.3 407.4 870.1 410 869.9 409.1 869.8 404.9 869.6 408 869.5 409.9 869.3 411.3 869.1 411.8 869 410.2 868.8 405.5 868.7 411.8 868.5 405.2 868.3 405.4 868.2 409.6 868 404.4 867.9 407.2 867.7 408.3 867.5 405.5 867.4 409.7 867.2 407.6 867.1 403.9 866.9 417.1 866.7 406.3 866.6 408.1 866.4 411.2 866.3 407.6 866.1 406 865.9 406.7 865.8 409.9 865.6 410 865.5 405.1 865.3 409.2 865.1 403.5 865 408.3 864.8 403.4 864.7 397.5 864.5 407.4 864.3 402.5 864.2 405.6 864 399.4 863.9 407.7 863.7 405.1 863.5 399.2 863.4 399.2 863.2 398.5 863.1 395.3 862.9 402.3 862.7 401.5 862.6 394.8 862.4 399.3 862.3 398 862.1 403.1 861.9 394 861.8 398.9 861.6 394.1 861.5 398 861.3 398.7 861.1 398.6 861 398.3 860.8 397.3 860.7 397.5 860.5 392.3 860.3 394.7 860.2 390.6 860 396.8 859.9 394.8 859.7 392.8 859.5 395.3 859.4 393.7 859.2 394.6 859.1 395.3 858.9 393.6 858.7 393.4 858.6 396.9 858.4 391.7 858.3 391 858.1 397.2 857.9 390.4 857.8 389.3 857.6 391.4 857.5 396.3 857.3 394.3 857.1 397.3 857 392.2 856.8 388.4 856.7 392.4 856.5 393.2 856.3 391.4 856.2 392.4 856 395.4 855.9 389.7 855.7 390.9 855.5 389.8 855.4 391.2 855.2 389.5 855.1 388.6 854.9 387.6 854.7 387.8 854.6 390.8 854.4 387.6 854.3 386.5 854.1 388.1 853.9 387.7 853.8 394.9 853.6 386.1 853.5 386.3 853.3 385.7 853.1 387.7 853 389.4 852.8 385.2 852.7 378.8 852.5 387 852.3 380.6 852.2 384.6 852 381.6 851.9 384.8 851.7 379.5 851.5 383.7 851.4 385.7 851.2 380.8 851.1 388.9 850.9 382.6 850.7 376.8 850.6 389.8 850.4 381.8 850.3 380.1 850.1 375.3 849.9 382.9 849.8 377.2 849.6 380.6 849.5 378.9 849.3 376.2 849.1 378.9 849 377.4 848.8 375.1 848.7 383.3 848.5 376.9 848.3 375.8 848.2 376 848 377.9 847.9 372.9 847.7 372.8 847.5 379.5 847.4 374 847.2 373.1 847.1 376.5 846.9 372.7 846.7 375.9 846.6 371.3 846.4 376.5 846.3 372.8 846.1 375 845.9 374.6 845.8 371.8 845.6 371.6 845.5 370.2 845.3 375.8 845.1 366.8 845 369.9 844.8 377.4 844.7 370.1 844.5 365.7 844.3 373 844.2 362.8 844 369.8 843.9 369.3 843.7 371.6 843.5 370.6 843.4 369.8 843.2 368.3 843.1 367.7 842.9 371 842.7 368.7 842.6 368.8 842.4 370.1 842.3 364.6 842.1 366 841.9 371.7 841.8 368.4 841.6 369.8 841.5 372.5 841.3 368.9 841.1 368 841 366.1 840.8 366.5 840.7 365.7 840.5 370.9 840.3 368.3 840.2 369.7 840 365.6 839.9 363.2 839.7 364.2 839.5 366.1 839.4 365.4 839.2 363.9 839.1 365.2 838.9 370.2 838.7 361.3 838.6 370 838.4 363.2 838.3 368 838.1 365.2 837.9 358 837.8 366.3 837.6 364.5 837.5 369.4 837.3 367.2 837.1 364.6 837 365.6 836.8 363.2 836.7 359.9 836.5 365.9 836.3 362.7 836.2 361.4 836 362.4 835.9 362.2 835.7 361.3 835.5 357.6 835.4 359.8 835.2 362 835.1 366.1 834.9 357.3 834.7 363.2 834.6 356.3 834.4 361 834.3 359.7 834.1 354.6 833.9 361 833.8 361.3 833.6 354.6 833.5 354.3 833.3 364.9 833.1 357.8 833 353.4 832.8 356.9 832.7 357.9 832.5 362.6 832.3 362.3 832.2 360.1 832 355.1 831.9 360.6 831.7 356.1 831.5 357.2 831.4 357.1 831.2 355.3 831.1 356.2 830.9 356.9 830.7 354.6 830.6 358.1 830.4 358.5 830.3 355.5 830.1 352.6 829.9 353.3 829.8 361.7 829.6 353.3 829.5 353.9 829.3 354.1 829.1 354.7 829 353.1 828.8 351.2 828.7 355.3 828.5 352.1 828.3 351.1 828.2 352.4 828 350 827.9 347.7 827.7 348.5 827.5 348.9 827.4 350.8 827.2 350.7 827.1 346.8 826.9 350.3 826.7 347.8 826.6 349.8 826.4 343.6 826.3 349.4 826.1 345.7 825.9 351.7 825.8 347.8 825.6 352 825.5 350.2 825.3 346.6 825.1 348.2 825 345.7 824.8 355.2 824.7 346.4 824.5 341.2 824.3 343.4 824.2 348.7 824 345.4 823.9 342.4 823.7 343.1 823.5 343.9 823.4 340.7 823.2 344.5 823.1 346 822.9 343.1 822.7 344.5 822.6 343 822.4 343 822.3 340.3 822.1 342.6 821.9 342.7 821.8 345.4 821.6 347.3 821.5 341.3 821.3 344 821.1 344.9 821 342.2 820.8 345.4 820.7 340.1 820.5 341.6 820.3 341 820.2 336.9 820 342.5 819.9 339.4 819.7 340.5 819.5 340.9 819.4 339.6 819.2 338.9 819.1 333.1 818.9 335.4 818.7 336 818.6 340.4 818.4 338 818.3 336.3 818.1 340.2 817.9 334.1 817.8 338.5 817.6 338.5 817.5 330.8 817.3 332.1 817.1 334 817 335.7 816.8 333.9 816.7 332.5 816.5 331.2 816.3 335.6 816.2 333.9 816 333.7 815.9 330.9 815.7 328.1 815.5 329.9 815.4 332.4 815.2 329 815.1 332.9 814.9 331.7 814.7 328.3 814.6 329.8 814.4 329.1 814.3 333.1 814.1 326 813.9 329.8 813.8 328.8 813.6 326.8 813.5 329.8 813.3 322.6 813.1 326 813 328.4 812.8 327.8 812.7 325.2 812.5 333.1 812.3 331.8 812.2 324 812 320.7 811.9 322.9 811.7 319.4 811.5 318.4 811.4 325.2 811.2 327.2 811.1 320.9 810.9 322.4 810.7 329.5 810.6 319.1 810.4 323.2 810.3 325.1 810.1 326.5 809.9 322.2 809.8 323.7 809.6 323.1 809.5 322.6 809.3 324.7 809.1 325.4 809 318.3 808.8 319.9 808.7 322.4 808.5 329.6 808.3 317.6 808.2 326.6 808 322.6 807.9 324.1 807.7 323 807.5 319.6 807.4 322.1 807.2 323.6 807.1 325.1 806.9 321.6 806.7 321.5 806.6 322 806.4 323.6 806.3 323.1 806.1 319 805.9 325.6 805.8 319.4 805.6 321.5 805.5 319.9 805.3 322.1 805.1 315.7 805 324.8 804.8 319.7 804.7 317.8 804.5 326.4 804.3 313 804.2 320.1 804 319.2 803.9 312.9 803.7 321.2 803.5 318 803.4 314 803.2 320.3 803.1 318.6 802.9 320.7 802.7 315.9 802.6 314.7 802.4 318.2 802.3 313.5 802.1 315.2 801.9 319.9 801.8 318 801.6 315.9 801.5 317.7 801.3 313.5 801.1 313.6 801 306.6 800.8 310.6 800.7 312.2 800.5 313.1 800.3 313.1 800.2 312 800 312 799.9 313.1 799.7 314.5 799.5 311.7 799.4 311.8 799.2 314.2 799.1 310.2 798.9 315.2 798.7 310 798.6 311.5 798.4 313.3 798.3 308.3 798.1 312.1 797.9 307.4 797.8 310.5 797.6 310.1 797.5 311.2 797.3 308.4 797.1 303.5 797 308.7 796.8 305.5 796.7 311.6 796.5 307.8 796.3 305.7 796.2 308 796 307.9 795.9 307 795.7 309.2 795.5 310.8 795.4 303.6 795.2 311.9 795.1 309.1 794.9 310 794.7 306.7 794.6 308.9 794.4 310.1 794.3 307.9 794.1 311.6 793.9 313 793.8 305.3 793.6 305.4 793.5 310.2 793.3 305.8 793.1 307.8 793 306 792.8 303.5 792.7 307 792.5 304.4 792.3 305.1 792.2 304.2 792 304.1 791.9 308.4 791.7 305.9 791.5 302.3 791.4 302.6 791.2 307.8 791.1 299.4 790.9 308.2 790.7 303.8 790.6 301.1 790.4 303.3 790.3 300.3 790.1 297.9 789.9 302.4 789.8 298.1 789.6 299.7 789.5 299 789.3 303.2 789.1 301.3 789 304.6 788.8 302.9 788.7 296.7 788.5 300.7 788.3 303.8 788.2 294.6 788 292.8 787.9 296.3 787.7 291.9 787.5 296.3 787.4 294.7 787.2 293.7 787.1 292.4 786.9 290.1 786.7 289.2 786.6 291.8 786.4 295.3 786.3 292.2 786.1 295.3 785.9 289.2 785.8 290.4 785.6 291.5 785.5 288.6 785.3 292.4 785.1 287.3 785 288.9 784.8 295.3 784.7 286.9 784.5 288.9 784.3 286.3 784.2 284.3 784 287.5 783.9 287.5 783.7 291.5 783.5 286 783.4 288.6 783.2 285.6 783.1 288.5 782.9 282.4 782.7 284.4 782.6 280.6 782.4 284.3 782.3 289.7 782.1 281.6 781.9 279.5 781.8 279.8 781.6 283.3 781.5 285.7 781.3 278.9 781.1 276.2 781 286.9 780.8 279.9 780.7 281.3 780.5 281.6 780.3 282 780.2 281.4 780 277.7 779.9 291.1 779.7 279.8 779.5 277.8 779.4 282.2 779.2 275.9 779.1 281.1 778.9 281 778.7 280.6 778.6 284.6 778.4 280.4 778.3 282.1 778.1 278.9 777.9 276.4 777.8 275.5 777.6 277.8 777.5 280.8 777.3 280 777.1 280.9 777 279.1 776.8 274.4 776.7 283 776.5 278.6 776.3 277 776.2 279.6 776 274.8 775.9 286.4 775.7 274 775.5 278.3 775.4 278.3 775.2 277 775.1 280.5 774.9 275.5 774.7 280.8 774.6 272 774.4 277.2 774.3 277 774.1 280.3 773.9 278.7 773.8 272.8 773.6 275 773.5 277.4 773.3 276.3 773.1 273.1 773 272.8 772.8 275.7 772.7 272.2 772.5 272.7 772.3 274.3 772.2 275.3 772 273.6 771.9 272.1 771.7 269.8 771.5 273.8 771.4 273.4 771.2 272.3 771.1 278.2 770.9 271 770.7 275.7 770.6 274.1 770.4 275.3 770.3 274.5 770.1 269.6 769.9 269.2 769.8 268.7 769.6 265.8 769.5 270.2 769.3 265.1 769.1 268.3 769 267.7 768.8 266.1 768.7 265.8 768.5 265.1 768.3 271.3 768.2 268 768 266.4 767.9 265.9 767.7 267.4 767.5 268.6 767.4 262.1 767.2 262.6 767.1 271.4 766.9 262.2 766.7 266.7 766.6 260.9 766.4 268.8 766.3 267 766.1 267.5 765.9 267.9 765.8 261 765.6 268.3 765.5 268.9 765.3 257.1 765.1 264 765 263.2 764.8 261.1 764.7 261.7 764.5 259 764.3 262.2 764.2 270.9 764 257.3 763.9 264.9 763.7 262.8 763.5 264.2 763.4 264.9 763.2 261.4 763.1 258.3 762.9 259.7 762.7 258.5 762.6 262.5 762.4 262.3 762.3 255.3 762.1 265.1 761.9 258.5 761.8 264.1 761.6 266.5 761.5 254.5 761.3 255.5 761.1 256.6 761 259.2 760.8 259.5 760.7 262 760.5 251.9 760.3 255.9 760.2 261.2 760 264.8 759.9 256.4 759.7 259.3 759.5 256.2 759.4 256.3 759.2 256 759.1 250.8 758.9 255.5 758.7 256.3 758.6 252.1 758.4 257.7 758.3 250.8 758.1 253.4 757.9 252.2 757.8 251.7 757.6 249.1 757.5 250.8 757.3 253.8 757.1 255.3 757 252.3 756.8 249.2 756.7 248 756.5 244.7 756.3 254 756.2 249.5 756 244.9 755.9 249.3 755.7 246.6 755.5 244.7 755.4 242.9 755.2 244.5 755.1 244 754.9 247.5 754.7 245.6 754.6 246.6 754.4 246.4 754.3 242.2 754.1 243 753.9 236.3 753.8 241.1 753.6 242.8 753.5 244.5 753.3 243.4 753.1 241.3 753 240.6 752.8 241.5 752.7 235.1 752.5 238.2 752.3 240.9 752.2 236.7 752 236.7 751.9 238.3 751.7 239.7 751.5 237.5 751.4 231.7 751.2 232.8 751.1 237.3 750.9 237.5 750.7 235.1 750.6 239.8 750.4 235.5 750.3 235 750.1 236.1 749.9 236.4 749.8 233 749.6 233.3 749.5 235.6 749.3 232.2 749.1 231.5 749 234 748.8 232.9 748.7 237.3 748.5 230.8 748.3 237.9 748.2 230.6 748 234.5 747.9 234.1 747.7 230.7 747.5 233.4 747.4 233.7 747.2 236 747.1 233.3 746.9 231.4 746.7 231.5 746.6 235 746.4 234.6 746.3 234.3 746.1 230.1 745.9 230.8 745.8 231.7 745.6 234.3 745.5 234.7 745.3 233.3 745.1 234.2 745 233.4 744.8 230.5 744.7 231.1 744.5 229.4 744.3 228 744.2 233.6 744 233.2 743.9 228.1 743.7 229.1 743.5 224.7 743.4 232.6 743.2 234.4 743.1 228.5 742.9 231.5 742.7 229.4 742.6 228.7 742.4 232.8 742.3 230.4 742.1 228.4 741.9 229.5 741.8 229.5 741.6 228.5 741.5 230 741.3 227 741.1 230.8 741 227.4 740.8 228.4 740.7 225.6 740.5 227.9 740.3 230.2 740.2 224.3 740 223.2 739.9 225.5 739.7 221 739.5 227.4 739.4 223.9 739.2 223.1 739.1 221.2 738.9 222.8 738.7 220.2 738.6 219.6 738.4 220.2 738.3 224.5 738.1 217.1 737.9 218.6 737.8 218.8 737.6 221.6 737.5 220.7 737.3 222.7 737.1 224.8 737 221.3 736.8 216.4 736.7 216.6 736.5 217.2 736.3 216.5 736.2 220.9 736 215.9 735.9 214.8 735.7 216.6 735.5 219 735.4 213.6 735.2 219.1 735.1 216 734.9 217.9 734.7 217.8 734.6 213.4 734.4 216.3 734.3 216.5 734.1 212.9 733.9 215.5 733.8 217.3 733.6 213 733.5 209.4 733.3 215.7 733.1 212.7 733 213.2 732.8 210.8 732.7 213.8 732.5 206.7 732.3 204.7 732.2 214.5 732 213.4 731.9 210.8 731.7 204.4 731.5 210.5 731.4 211.4 731.2 213.3 731.1 214 730.9 209.3 730.7 210.5 730.6 208 730.4 209.4 730.3 209.2 730.1 212.9 729.9 211.4 729.8 215.3 729.6 209.5 729.5 208.9 729.3 209.5 729.1 212.6 729 206.6 728.8 201.4 728.7 207.2 728.5 201.1 728.3 206.4 728.2 203.6 728 208 727.9 206.1 727.7 202.2 727.5 208.6 727.4 203.7 727.2 203 727.1 199.8 726.9 204.2 726.7 209 726.6 202.4 726.4 203 726.3 204.4 726.1 198.4 725.9 193.3 725.8 198.7 725.6 198 725.5 200.5 725.3 197.2 725.1 203.2 725 199.1 724.8 198.1 724.7 193.7 724.5 198.6 724.3 195.6 724.2 193.6 724 198.9 723.9 195.8 723.7 198.5 723.5 197.8 723.4 200 723.2 194.6 723.1 190.1 722.9 193.1 722.7 194 722.6 194.6 722.4 191.8 722.3 193.1 722.1 194.1 721.9 188.9 721.8 192.5 721.6 194.5 721.5 193.9 721.3 193.6 721.1 197.9 721 192.6 720.8 194.4 720.7 197.2 720.5 193.2 720.3 192.7 720.2 191.6 720 190.1 719.9 190.3 719.7 194.2 719.5 192 719.4 194.7 719.2 192.2 719.1 191.3 718.9 190.9 718.7 193.3 718.6 192.9 718.4 190 718.3 196 718.1 185.2 717.9 188.2 717.8 192.3 717.6 191.4 717.5 192.2 717.3 194.1 717.1 187.5 717 196.2 716.8 192.7 716.7 190.5 716.5 197.4 716.3 190.4 716.2 191.4 716 194.7 715.9 193.7 715.7 195.2 715.5 191.8 715.4 193.4 715.2 196 715.1 198.1 714.9 190.8 714.7 192.5 714.6 192.2 714.4 196.2 714.3 198.6 714.1 197.1 713.9 199.2 713.8 196.5 713.6 196.6 713.5 199.4 713.3 197.5 713.1 196.6 713 197.2 712.8 196 712.7 198 712.5 202.1 712.3 198.5 712.2 200.2 712 203.5 711.9 197.1 711.7 198.6 711.5 195.9 711.4 199.4 711.2 193.4 711.1 200.4 710.9 199.6 710.7 198.3 710.6 197.5 710.4 201.7 710.3 200.8 710.1 202.1 709.9 190.9 709.8 196.5 709.6 196.3 709.5 196.3 709.3 197.6 709.1 196 709 195 708.8 196.9 708.7 198.9 708.5 194.5 708.3 194.7 708.2 199.3 708 200.4 707.9 196.8 707.7 195.2 707.5 200.7 707.4 197.6 707.2 194.1 707.1 189.7 706.9 196.6 706.7 193.9 706.6 189.2 706.4 193.9 706.3 193.5 706.1 194.1 705.9 193.3 705.8 194.2 705.6 192.7 705.5 199.1 705.3 195.4 705.1 197.9 705 191.4 704.8 193.1 704.7 192.5 704.5 193.8 704.3 191 704.2 192.3 704 194 703.9 195.3 703.7 194.7 703.5 191.7 703.4 191.8 703.2 201.3 703.1 195.5 702.9 196.3 702.7 197 702.6 197.8 702.4 193.9 702.3 192.7 702.1 191.9 701.9 190.7 701.8 199.6 701.6 194.6 701.5 192.9 701.3 194.6 701.1 193.5 701 193.4 700.8 195.1 700.7 193.3 700.5 201.2 700.3 195.3 700.2 197.8 700 199.5 699.9 194 699.7 199 699.5 193.6 699.4 201 699.2 192.3 699.1 192.2 698.9 195 698.7 195.9 698.6 195.2 698.4 194.2 698.3 195.3 698.1 199.1 697.9 192.8 697.8 190.7 697.6 194.1 697.5 191 697.3 197 697.1 194.8 697 190.4 696.8 191.5 696.7 198.4 696.5 190.9 696.3 191.6 696.2 192.5 696 197 695.9 195.9 695.7 193 695.5 193.4 695.4 193.8 695.2 194.4 695.1 191.3 694.9 190.3 694.7 193.5 694.6 190.4 694.4 192.5 694.3 190 694.1 189.7 693.9 184.6 693.8 193.7 693.6 191.1 693.5 189.2 693.3 191.9 693.1 188.9 693 193.2 692.8 192.7 692.7 189.5 692.5 194.7 692.3 192.8 692.2 192.1 692 189.9 691.9 190.2 691.7 192.8 691.5 187.8 691.4 186.8 691.2 186.1 691.1 188.6 690.9 191.3 690.7 191.5 690.6 188.6 690.4 191.9 690.3 189.3 690.1 193 689.9 190.9 689.8 190 689.6 191.3 689.5 187.8 689.3 188.3 689.1 189.3 689 186.1 688.8 186.1 688.7 188.9 688.5 182.5 688.3 189.4 688.2 185.4 688 188.2 687.9 185.5 687.7 185.6 687.5 192.7 687.4 187.7 687.2 195.2 687.1 187 686.9 191.4 686.7 191.4 686.6 186.4 686.4 186.9 686.3 192.6 686.1 186.1 685.9 195.5 685.8 188 685.6 193 685.5 182.5 685.3 196.1 685.1 189.2 685 196.1 684.8 193 684.7 192.6 684.5 192.5 684.3 191 684.2 191.7 684 194.1 683.9 193 683.7 194.7 683.5 189.2 683.4 192.6 683.2 193.8 683.1 195.2 682.9 191.4 682.7 196.6 682.6 194.3 682.4 195.3 682.3 193.2 682.1 193.5 681.9 190.3 681.8 196.4 681.6 191.4 681.5 198.4 681.3 198.2 681.1 197.7 681 195.8 680.8 193.8 680.7 196.5 680.5 198.3 680.3 195.7 680.2 199.9 680 195.4 679.9 190.7 679.7 198.2 679.5 197.3 679.4 195.1 679.2 198.1 679.1 192.5 678.9 196.2 678.7 193.7 678.6 194.4 678.4 190.2 678.3 197.2 678.1 197.7 677.9 194 677.8 190.1 677.6 191.6 677.5 194.2 677.3 193.7 677.1 194.9 677 193.7 676.8 197.6 676.7 198.1 676.5 194.8 676.3 192.7 676.2 191.2 676 194.7 675.9 191.8 675.7 188.3 675.5 198.4 675.4 196.4 675.2 192.3 675.1 193.1 674.9 192.6 674.7 191.3 674.6 194.4 674.4 190.4 674.3 192.1 674.1 192.4 673.9 196.5 673.8 195.7 673.6 191.2 673.5 195.6 673.3 192.5 673.1 194 673 192.8 672.8 200 672.7 195.3 672.5 193.6 672.3 195.7 672.2 197.9 672 195.3 671.9 195.7 671.7 196.2 671.5 193 671.4 194.9 671.2 196.6 671.1 195.4 670.9 194.2 670.7 197.9 670.6 197.4 670.4 193.9 670.3 191.1 670.1 197.5 669.9 192.9 669.8 194.5 669.6 197.1 669.5 192.9 669.3 195.4 669.1 196.7 669 197.2 668.8 198.2 668.7 196.7 668.5 193.6 668.3 197.6 668.2 195.7 668 197 667.9 195.7 667.7 191.9 667.5 195.7 667.4 195 667.2 201.3 667.1 187.5 666.9 192.1 666.7 192.7 666.6 194.2 666.4 194.9 666.3 200.2 666.1 189.6 665.9 191.7 665.8 189.3 665.6 196.8 665.5 195.1 665.3 197.1 665.1 195.5 665 197.7 664.8 192.5 664.7 191.4 664.5 195.6 664.3 192 664.2 186.8 664 191.1 663.9 190.2 663.7 194 663.5 188.7 663.4 188.8 663.2 194.1 663.1 194.9 662.9 188.3 662.7 189.5 662.6 191.1 662.4 184.8 662.3 193.1 662.1 192.1 661.9 189.8 661.8 190.7 661.6 191.7 661.5 189.7 661.3 190.9 661.1 188.4 661 192.2 660.8 183.7 660.7 188.7 660.5 189.9 660.3 182 660.2 189 660 187.6 659.9 190 659.7 190.4 659.5 185.3 659.4 190.7 659.2 189.4 659.1 190.7 658.9 189.1 658.7 186.9 658.6 188.6 658.4 186.5 658.3 188.9 658.1 184.9 657.9 187.4 657.8 188.3 657.6 189.2 657.5 187.3 657.3 186.4 657.1 190.1 657 190.6 656.8 182.3 656.7 193.5 656.5 191.8 656.3 186.9 656.2 189.3 656 193.6 655.9 190.9 655.7 189.1 655.5 188.5 655.4 177.3 655.2 196 655.1 190.1 654.9 193.9 654.7 189.2 654.6 188.2 654.4 188.9 654.3 194.6 654.1 191.9 653.9 192 653.8 193.5 653.6 192.9 653.5 193.2 653.3 194.6 653.1 189.2 653 194.6 652.8 195.2 652.7 191.4 652.5 195 652.3 188.4 652.2 191.6 652 191.2 651.9 196.9 651.7 195 651.5 197.1 651.4 196.7 651.2 201.4 651.1 193 650.9 200.2 650.7 192 650.6 197.4 650.4 196.5 650.3 190.3 650.1 198.4 649.9 197.1 649.8 195.2 649.6 195.8 649.5 192.1 649.3 195.2 649.1 193.5 649 196.1 648.8 199.4 648.7 194.9 648.5 195 648.3 190.1 648.2 193.5 648 191.1 647.9 195.3 647.7 191.9 647.5 192.6 647.4 198.1 647.2 197.4 647.1 193.2 646.9 185.7 646.7 196 646.6 192.3 646.4 196 646.3 191.3 646.1 184.5 645.9 190.3 645.8 189.7 645.6 188.2 645.5 188.2 645.3 194.2 645.1 192 645 190 644.8 191.7 644.7 193.2 644.5 187.3 644.3 190.4 644.2 191 644 192.3 643.9 189.1 643.7 189 643.5 187.6 643.4 195.8 643.2 189.3 643.1 185.3 642.9 192 642.7 191 642.6 188.8 642.4 189.1 642.3 195.1 642.1 195.3 641.9 194.8 641.8 190.9 641.6 190.2 641.5 190.4 641.3 187.6 641.1 190.8 641 191.9 640.8 191 640.7 186 640.5 192.1 640.3 186.8 640.2 191.4 640 193.6 639.9 186.2 639.7 189.5 639.5 185.5 639.4 189.3 639.2 188.3 639.1 190.5 638.9 195.6 638.7 188.8 638.6 194 638.4 194.2 638.3 186.3 638.1 190.1 637.9 191.4 637.8 192.1 637.6 187.9 637.5 191.1 637.3 190.1 637.1 184.1 637 185 636.8 185.6 636.7 185.9 636.5 190.7 636.3 191 636.2 193.5 636 190.6 635.9 190 635.7 192.3 635.5 193.7 635.4 188.1 635.2 187.5 635.1 189.4 634.9 189.7 634.7 185.8 634.6 185.9 634.4 188.7 634.3 189.7 634.1 192.4 633.9 190.9 633.8 186.5 633.6 184.7 633.5 186.7 633.3 184.8 633.1 186 633 190.8 632.8 186.6 632.7 188.8 632.5 186.2 632.3 184.8 632.2 186.4 632 188.8 631.9 182.4 631.7 182.9 631.5 185.6 631.4 186.6 631.2 182.4 631.1 188.9 630.9 185.9 630.7 184.8 630.6 183.6 630.4 185.9 630.3 187.6 630.1 183.6 629.9 179.6 629.8 178.1 629.6 182.5 629.5 184.7 629.3 186.9 629.1 182.6 629 182.2 628.8 183.9 628.7 177.9 628.5 185.9 628.3 177.9 628.2 181.8 628 181.6 627.9 174.7 627.7 177.8 627.5 179.1 627.4 179 627.2 179.6 627.1 178.9 626.9 180.4 626.7 178.1 626.6 177.1 626.4 177.5 626.3 178.5 626.1 179.4 625.9 180.1 625.8 177 625.6 178.7 625.5 176.1 625.3 177.9 625.1 176.3 625 181.1 624.8 178.1 624.7 181.5 624.5 176.2 624.3 183.3 624.2 184.4 624 183.1 623.9 175.9 623.7 183.9 623.5 181.8 623.4 185.7 623.2 183.9 623.1 177 622.9 177.8 622.7 177.7 622.6 181.5 622.4 182 622.3 177.8 622.1 182.7 621.9 183.5 621.8 181 621.6 185.1 621.5 181.6 621.3 182 621.1 185.9 621 183.6 620.8 179.8 620.7 179.1 620.5 177.5 620.3 183.3 620.2 182.7 620 184.6 619.9 184.8 619.7 185.8 619.5 186.6 619.4 181.9 619.2 184.5 619.1 189.1 618.9 182.9 618.7 185.3 618.6 184.8 618.4 187 618.3 185.3 618.1 187.1 617.9 184.4 617.8 183.7 617.6 190.8 617.5 188.4 617.3 191.2 617.1 184.3 617 186.4 616.8 190 616.7 185.2 616.5 192.8 616.3 187.9 616.2 194.6 616 194 615.9 193.9 615.7 193 615.5 192 615.4 191.2 615.2 188.6 615.1 194.1 614.9 197.2 614.7 195.8 614.6 191.7 614.4 200.5 614.3 190.2 614.1 199.7 613.9 193.4 613.8 196.3 613.6 194.4 613.5 193.1 613.3 198.4 613.1 196.1 613 195.1 612.8 196.8 612.7 195.5 612.5 200 612.3 197 612.2 202.5 612 195.7 611.9 202.2 611.7 201.4 611.5 198.8 611.4 200.6 611.2 204.9 611.1 205.1 610.9 199.1 610.7 200.4 610.6 203.4 610.4 203.8 610.3 200.5 610.1 201.9 609.9 200.4 609.8 200.9 609.6 204 609.5 199.1 609.3 205.9 609.1 205.3 609 203.4 608.8 202 608.7 204.8 608.5 204.5 608.3 205.2 608.2 203.7 608 205.9 607.9 210.5 607.7 213.2 607.5 205.4 607.4 208.5 607.2 209.8 607.1 208 606.9 212 606.7 210.7 606.6 212.7 606.4 210.8 606.3 213.6 606.1 215.1 605.9 218.4 605.8 211.7 605.6 212.3 605.5 214.8 605.3 212 605.1 217 605 215.7 604.8 211 604.7 215.2 604.5 212.5 604.3 217.1 604.2 217.5 604 217.3 603.9 216.9 603.7 217.8 603.5 221.2 603.4 221.8 603.2 217.2 603.1 218.8 602.9 218.5 602.7 217.8 602.6 216.7 602.4 218.8 602.3 222.4 602.1 224 601.9 221.5 601.8 222.2 601.6 219.9 601.5 221.3 601.3 218.6 601.1 223.6 601 220.1 600.8 226.1 600.7 223 600.5 222.2 600.3 223.8 600.2 227.5 600 221.6 599.9 223.6 599.7 220.8 599.5 222.3 599.4 231.6 599.2 231.3 599.1 230.8 598.9 224.9 598.7 226.1 598.6 222.3 598.4 224.6 598.3 226.5 598.1 229.9 597.9 227.8 597.8 228.5 597.6 224.3 597.5 226 597.3 227.3 597.1 227.7 597 228 596.8 225.8 596.7 230.9 596.5 230 596.3 227.9 596.2 232.3 596 231.6 595.9 234.4 595.7 229.1 595.5 230.5 595.4 238.3 595.2 227.3 595.1 234.8 594.9 233.2 594.7 235.9 594.6 235 594.4 235.2 594.3 236 594.1 232.6 593.9 228.2 593.8 236.6 593.6 238.4 593.5 243.5 593.3 236 593.1 230.6 593 239 592.8 238.6 592.7 236.5 592.5 233.8 592.3 240 592.2 237.1 592 240.1 591.9 235.9 591.7 240.4 591.5 240.1 591.4 244.3 591.2 243.1 591.1 247.2 590.9 244.7 590.7 242.6 590.6 245.9 590.4 244.1 590.3 246 590.1 243.1 589.9 246 589.8 246.7 589.6 242.2 589.5 247.8 589.3 245.7 589.1 247.8 589 248.9 588.8 251.2 588.7 250.6 588.5 249.3 588.3 247.2 588.2 250.5 588 250.2 587.9 254.2 587.7 253.8 587.5 251.7 587.4 252.7 587.2 253.7 587.1 252.5 586.9 252 586.7 254.5 586.6 256.2 586.4 251.4 586.3 255 586.1 256.6 585.9 255.8 585.8 256.5 585.6 254.3 585.5 254.5 585.3 256.1 585.1 255 585 256 584.8 258.5 584.7 265.2 584.5 263.7 584.3 258.1 584.2 258.6 584 265.8 583.9 260.1 583.7 255.9 583.5 265.3 583.4 262.7 583.2 263.3 583.1 259.2 582.9 265 582.7 263.6 582.6 264.2 582.4 266 582.3 261.6 582.1 265.9 581.9 264.9 581.8 270.6 581.6 267.6 581.5 265.2 581.3 267.2 581.1 260.9 581 264.9 580.8 268.5 580.7 267.3 580.5 267.9 580.3 267.8 580.2 265.4 580 265.3 579.9 272 579.7 270.4 579.5 272.6 579.4 272.5 579.2 266.9 579.1 274.3 578.9 267.5 578.7 267.8 578.6 277.4 578.4 268.1 578.3 269.6 578.1 273.6 577.9 275.5 577.8 276.7 577.6 274.5 577.5 273.8 577.3 274 577.1 275.2 577 277.9 576.8 272.9 576.7 280.7 576.5 273.8 576.3 274.9 576.2 276.1 576 278.1 575.9 279.9 575.7 282.4 575.5 277.8 575.4 282.3 575.2 281 575.1 282.4 574.9 279.1 574.7 280.2 574.6 283.8 574.4 280.3 574.3 283 574.1 285 573.9 287.5 573.8 287.1 573.6 287 573.5 286.7 573.3 284.6 573.1 283.6 573 280.6 572.8 283.5 572.7 289.4 572.5 287.7 572.3 290.2 572.2 284.9 572 286.8 571.9 287.6 571.7 287.2 571.5 289.2 571.4 287 571.2 291.6 571.1 290 570.9 292.3 570.7 289.3 570.6 291.8 570.4 288.3 570.3 295.9 570.1 294.4 569.9 294.4 569.8 291.8 569.6 292.9 569.5 288.8 569.3 286.6 569.1 297.8 569 292.8 568.8 292.3 568.7 293.1 568.5 295.8 568.3 295.3 568.2 293.3 568 293 567.9 293.6 567.7 296.6 567.5 291.1 567.4 292.3 567.2 294.8 567.1 294.8 566.9 300.3 566.7 301.8 566.6 296.1 566.4 299.3 566.3 291.4 566.1 297.8 565.9 298.2 565.8 294.2 565.6 300.6 565.5 296.7 565.3 294.7 565.1 296.3 565 298.5 564.8 300.5 564.7 296.7 564.5 298.2 564.3 297.1 564.2 301 564 292.5 563.9 304.4 563.7 300 563.5 295.1 563.4 300.7 563.2 297.7 563.1 299.5 562.9 304.1 562.7 298.3 562.6 302.1 562.4 306.4 562.3 306.3 562.1 303.3 561.9 306.9 561.8 307.5 561.6 303.2 561.5 309.4 561.3 310.3 561.1 306.4 561 310.2 560.8 310.3 560.7 304.5 560.5 312.7 560.3 307.9 560.2 308.6 560 311.4 559.9 309.4 559.7 312.7 559.5 313.7 559.4 310.9 559.2 314.5 559.1 311.5 558.9 316.1 558.7 314.5 558.6 314.2 558.4 314.8 558.3 315.2 558.1 317.3 557.9 314.6 557.8 324.7 557.6 318.4 557.5 314.7 557.3 323.2 557.1 323.6 557 318.5 556.8 322.5 556.7 316.4 556.5 315 556.3 321.5 556.2 321.4 556 323.6 555.9 325.5 555.7 324.8 555.5 325.2 555.4 323.6 555.2 324.6 555.1 328.5 554.9 323.8 554.7 325.9 554.6 324.7 554.4 325.4 554.3 327.3 554.1 322.7 553.9 328.9 553.8 331.6 553.6 332.4 553.5 328.4 553.3 330.1 553.1 331.1 553 327 552.8 331.8 552.7 332.2 552.5 330.2 552.3 332.9 552.2 331.8 552 330.8 551.9 332.8 551.7 330.6 551.5 333.7 551.4 330.3 551.2 331.3 551.1 337.1 550.9 331.1 550.7 335.5 550.6 337.3 550.4 333 550.3 338.2 550.1 337.6 549.9 338.8 549.8 330.5 549.6 339.6 549.5 340.2 549.3 339.7 549.1 339.8 549 337 548.8 340.1 548.7 340.1 548.5 337.2 548.3 342.4 548.2 339.5 548 338.3 547.9 340.8 547.7 345.7 547.5 341.5 547.4 339.9 547.2 346.9 547.1 345.8 546.9 340.5 546.7 344.2 546.6 345 546.4 344.5 546.3 342.8 546.1 347.3 545.9 342.7 545.8 343 545.6 350.2 545.5 345.1 545.3 345.7 545.1 345.9 545 338 544.8 347.6 544.7 347.6 544.5 350.7 544.3 348.7 544.2 349.2 544 350.1 543.9 353.7 543.7 355.2 543.5 353.1 543.4 349.2 543.2 352.6 543.1 349.5 542.9 353.8 542.7 354.5 542.6 354.9 542.4 351.5 542.3 356 542.1 355.8 541.9 355.3 541.8 356.1 541.6 357.1 541.5 359.9 541.3 348.7 541.1 357.8 541 358.2 540.8 357 540.7 360.7 540.5 361.2 540.3 364 540.2 360.6 540 363.4 539.9 360.9 539.7 366.4 539.5 364.3 539.4 362.3 539.2 359.7 539.1 362.2 538.9 366.7 538.7 361.9 538.6 363.1 538.4 367.4 538.3 366.4 538.1 362.4 537.9 360 537.8 363.8 537.6 364.4 537.5 362.4 537.3 364 537.1 364.5 537 368.5 536.8 363.4 536.7 362.1 536.5 365.6 536.3 369.7 536.2 368.2 536 368.5 535.9 361.7 535.7 369.8 535.5 365.6 535.4 368 535.2 365.3 535.1 366.1 534.9 367 534.7 369.3 534.6 368.6 534.4 369.3 534.3 370.4 534.1 371.7 533.9 374 533.8 366.9 533.6 370.1 533.5 366.9 533.3 374.6 533.1 371.6 533 367.9 532.8 368.9 532.7 377.3 532.5 371.8 532.3 370.3 532.2 370.6 532 376.8 531.9 375.3 531.7 378.8 531.5 375.5 531.4 374.7 531.2 372.9 531.1 372.8 530.9 376.9 530.7 372.8 530.6 379 530.4 379.9 530.3 378.2 530.1 372.5 529.9 381.1 529.8 383.4 529.6 378.4 529.5 386.5 529.3 379.6 529.1 382.1 529 382.7 528.8 382.2 528.7 385.3 528.5 385.4 528.3 383.6 528.2 388.5 528 386.4 527.9 385.6 527.7 388.1 527.5 388.6 527.4 390.5 527.2 390.4 527.1 382.7 526.9 389.8 526.7 388.1 526.6 395.9 526.4 387.3 526.3 394.2 526.1 393.3 525.9 393 525.8 396.1 525.6 397.3 525.5 402.1 525.3 396.4 525.1 402.5 525 395.6 524.8 400.1 524.7 394.6 524.5 399.8 524.3 401.3 524.2 400.1 524 397.9 523.9 403.4 523.7 401.5 523.5 406 523.4 402.6 523.2 402.9 523.1 402.4 522.9 408.8 522.7 404.2 522.6 409.7 522.4 402.6 522.3 407.6 522.1 407.5 521.9 408.3 521.8 406.5 521.6 409.1 521.5 406.3 521.3 409.8 521.1 407.1 521 408.1 520.8 411.6 520.7 408 520.5 408.9 520.3 412.1 520.2 405.5 520 411.3 519.9 407.1 519.7 414.5 519.5 415.8 519.4 407.6 519.2 410.5 519.1 412.8 518.9 410.4 518.7 415.9 518.6 417.6 518.4 413.4 518.3 415.3 518.1 418.3 517.9 412.8 517.8 414.4 517.6 416.7 517.5 412.4 517.3 414.8 517.1 413.2 517 408.4 516.8 414.1 516.7 414.1 516.5 414.8 516.3 419.9 516.2 421.6 516 416.5 515.9 414.8 515.7 418.7 515.5 414.6 515.4 417.8 515.2 418.2 515.1 419.8 514.9 417.8 514.7 422.9 514.6 425.8 514.4 421.1 514.3 420.8 514.1 422.6 513.9 425 513.8 424.3 513.6 422.4 513.5 421.4 513.3 422.2 513.1 423.9 513 423.9 512.8 422.9 512.7 424.7 512.5 425.1 512.3 423.8 512.2 423.8 512 426.3 511.9 424.8 511.7 428.8 511.5 425.6 511.4 426.9 511.2 427.4 511.1 430.5 510.9 431.2 510.7 426.2 510.6 425 510.4 428.4 510.3 427.8 510.1 426.9 509.9 426.6 509.8 426.5 509.6 432.5 509.5 425.9 509.3 427.7 509.1 432.5 509 430.7 508.8 427.5 508.7 427.2 508.5 424.1 508.3 428.4 508.2 427 508 429.6 507.9 424 507.7 432.1 507.5 429.4 507.4 424.6 507.2 429.4 507.1 419.9 506.9 426 506.7 426.9 506.6 428.9 506.4 427.6 506.3 431.1 506.1 427.6 505.9 429.4 505.8 433.5 505.6 429.6 505.5 428.9 505.3 431 505.1 428.8 505 429.9 504.8 426.9 504.7 429.3 504.5 427.1 504.3 431.8 504.2 424.7 504 435.1 503.9 429.9 503.7 432 503.5 423.7 503.4 428.7 503.2 430.9 503.1 432 502.9 433.6 502.7 432.5 502.6 434.6 502.4 431.5 502.3 433.7 502.1 434 501.9 432.9 501.8 425 501.6 431.2 501.5 430.1 501.3 431.6 501.1 432 501 433.7 500.8 430.5 500.7 427.6 500.5 435 500.3 428.2 500.2 433.4 500 430.4 499.9 436.7 499.7 433.4 499.5 435.8 499.4 434.7 499.2 439.2 499.1 439.6 498.9 436.5 498.7 438.9 498.6 442.7 498.4 437.6 498.3 441.7 498.1 435.1 497.9 442.2 497.8 440 497.6 438 497.5 440.5 497.3 445.3 497.1 439 497 441.4 496.8 443.8 496.7 443.6 496.5 443.1 496.3 443.6 496.2 445.9 496 441.6 495.9 443.3 495.7 447.3 495.5 444.7 495.4 440.7 495.2 444.8 495.1 445.1 494.9 447.3 494.7 447.2 494.6 448.5 494.4 450.4 494.3 448.8 494.1 446.6 493.9 449.3 493.8 451.4 493.6 449.4 493.5 450.6 493.3 450.8 493.1 454 493 453.5 492.8 446.6 492.7 454.4 492.5 452.1 492.3 452 492.2 453.3 492 451.7 491.9 457 491.7 452.5 491.5 456.3 491.4 450.6 491.2 448.5 491.1 450.4 490.9 450.8 490.7 452.1 490.6 452.4 490.4 447.1 490.3 450 490.1 447.3 489.9 453 489.8 449 489.6 450.2 489.5 456 489.3 454 489.1 445 489 446.7 488.8 450.2 488.7 447.6 488.5 449.8 488.3 445.2 488.2 444 488 442.1 487.9 446.7 487.7 448.1 487.5 444.6 487.4 448.7 487.2 446.8 487.1 445.4 486.9 449 486.7 447.5 486.6 438.6 486.4 443.8 486.3 442.4 486.1 437.8 485.9 442.5 485.8 439.8 485.6 444.7 485.5 445.5 485.3 442 485.1 441.8 485 444.2 484.8 439.7 484.7 438.5 484.5 444.1 484.3 440.9 484.2 442.8 484 441.8 483.9 438.2 483.7 435.7 483.5 440.6 483.4 446 483.2 442.9 483.1 445.6 482.9 440.8 482.7 443.8 482.6 446 482.4 443.6 482.3 444.1 482.1 441.6 481.9 437.1 481.8 440.5 481.6 439 481.5 436.9 481.3 437.8 481.1 436.8 481 435.3 480.8 444.1 480.7 438.5 480.5 440.1 480.3 438.3 480.2 440.1 480 435.4 479.9 433.2 479.7 439.1 479.5 438.5 479.4 433.1 479.2 436.7 479.1 434.5 478.9 435.2 478.7 423.9 478.6 432.3 478.4 432.1 478.3 431.2 478.1 433.3 477.9 430.1 477.8 433.9 477.6 433.9 477.5 434.9 477.3 431.7 477.1 424.2 477 431.1 476.8 427.4 476.7 430.3 476.5 428.7 476.3 430.6 476.2 431.4 476 428.7 475.9 426.8 475.7 433 475.5 428.4 475.4 431.7 475.2 425.6 475.1 428.4 474.9 427.8 474.7 429.5 474.6 427 474.4 432.5 474.3 426 474.1 427.2 473.9 428.4 473.8 425.7 473.6 422.7 473.5 431.1 473.3 425 473.1 423.2 473 428.7 472.8 426.2 472.7 421.7 472.5 425.9 472.3 421.6 472.2 422.2 472 429.3 471.9 423.6 471.7 422.6 471.5 427.2 471.4 420.6 471.2 417.9 471.1 418.7 470.9 418.3 470.7 420.4 470.6 417.6 470.4 419.8 470.3 418.3 470.1 422.9 469.9 419.4 469.8 414.4 469.6 416.2 469.5 425.7 469.3 417.7 469.1 421 469 419.4 468.8 421 468.7 422.1 468.5 423.6 468.3 418.2 468.2 416.6 468 427.8 467.9 424.1 467.7 419.6 467.5 426.2 467.4 421.8 467.2 417.9 467.1 417.9 466.9 422.6 466.7 423.6 466.6 423.4 466.4 419.5 466.3 425.3 466.1 424.5 465.9 420.5 465.8 419.7 465.6 424.3 465.5 421.5 465.3 420.3 465.1 415.6 465 420.1 464.8 419.1 464.7 420.2 464.5 421.8 464.3 422.3 464.2 418 464 422.1 463.9 418.2 463.7 421.9 463.5 419.1 463.4 418 463.2 421.9 463.1 420 462.9 418.8 462.7 421.4 462.6 420.3 462.4 422.3 462.3 421.6 462.1 420 461.9 409.7 461.8 420.4 461.6 419.5 461.5 416.5 461.3 414.9 461.1 415.8 461 416.8 460.8 417 460.7 417.1 460.5 415.8 460.3 412.7 460.2 414.1 460 416.6 459.9 414.4 459.7 419.1 459.5 414.4 459.4 416.3 459.2 414 459.1 412.4 458.9 410.5 458.7 413.3 458.6 413 458.4 410.7 458.3 410.2 458.1 409.1 457.9 411.3 457.8 412.4 457.6 410.1 457.5 410.9 457.3 409.1 457.1 410.9 457 412.3 456.8 408.5 456.7 409.2 456.5 412 456.3 408.8 456.2 406.4 456 406.5 455.9 412.1 455.7 408 455.5 410.2 455.4 408.5 455.2 405.6 455.1 410.9 454.9 407.8 454.7 408.9 454.6 405.2 454.4 408.5 454.3 412.8 454.1 413.3 453.9 409 453.8 406.1 453.6 409.9 453.5 409.7 453.3 415.3 453.1 396.7 453 407.9 452.8 406.2 452.7 407.1 452.5 407.6 452.3 406 452.2 405.1 452 401.6 451.9 409 451.7 407.4 451.5 406.7 451.4 405 451.2 409 451.1 409.3 450.9 403 450.7 401.9 450.6 403.4 450.4 409.2 450.3 407 450.1 404.3 449.9 407.9 449.8 406.2 449.6 405.5 449.5 407.2 449.3 403.1 449.1 401.2 449 397.4 448.8 403.6 448.7 395.2 448.5 399.9 448.3 397.5 448.2 397.6 448 396.3 447.9 394.7 447.7 392 447.5 398.9 447.4 397.7 447.2 394.6 447.1 392.6 446.9 395.7 446.7 396.6 446.6 397.6 446.4 393.4 446.3 393 446.1 391.2 445.9 395.1 445.8 392.1 445.6 394.8 445.5 393.7 445.3 394.4 445.1 394.8 445 393.1 444.8 390.9 444.7 394.1 444.5 395.1 444.3 399.4 444.2 392.9 444 394.8 443.9 395.4 443.7 394.2 443.5 395.5 443.4 396.5 443.2 390 443.1 392.1 442.9 386.1 442.7 393.5 442.6 396.2 442.4 393.4 442.3 395.4 442.1 391 441.9 396.2 441.8 389.8 441.6 395.7 441.5 385 441.3 391.2 441.1 383.6 441 396.2 440.8 387.5 440.7 390 440.5 387.4 440.3 387.3 440.2 390.5 440 392.9 439.9 387.1 439.7 387.2 439.5 382.4 439.4 389.1 439.2 384.4 439.1 387.8 438.9 386.1 438.7 386.6 438.6 384.4 438.4 387.7 438.3 383.6 438.1 387.2 437.9 387.7 437.8 382.4 437.6 388 437.5 385.5 437.3 383.8 437.1 382.5 437 386.5 436.8 390.5 436.7 387.5 436.5 387.2 436.3 385.5 436.2 381.3 436 385.2 435.9 386.4 435.7 385.9 435.5 384.8 435.4 381.8 435.2 384.5 435.1 381.4 434.9 387.9 434.7 383.9 434.6 383.5 434.4 385.3 434.3 382.9 434.1 385.8 433.9 377.6 433.8 380.2 433.6 384.3 433.5 384.7 433.3 383.7 433.1 385.3 433 383.4 432.8 378.1 432.7 383.9 432.5 386.1 432.3 385.3 432.2 381.9 432 382.6 431.9 382.4 431.7 381.6 431.5 380.7 431.4 379.7 431.2 383.4 431.1 383.9 430.9 381.3 430.7 381.9 430.6 382.2 430.4 384.9 430.3 389 430.1 381.3 429.9 384.2 429.8 384 429.6 379.1 429.5 383 429.3 383 429.1 378.1 429 384.5 428.8 379.5 428.7 381 428.5 379.5 428.3 378.9 428.2 378.4 428 380.2 427.9 384.2 427.7 378.5 427.5 378.1 427.4 377.7 427.2 375.6 427.1 372.6 426.9 376.2 426.7 374.6 426.6 373.7 426.4 374.6 426.3 374.5 426.1 371.8 425.9 377.2 425.8 372.9 425.6 374.5 425.5 377.3 425.3 372.4 425.1 372.9 425 373.7 424.8 372 424.7 372.1 424.5 371.7 424.3 371.2 424.2 375.6 424 372.8 423.9 372.5 423.7 373.9 423.5 373.3 423.4 372.1 423.2 370 423.1 375.3 422.9 374.6 422.7 375.3 422.6 368.1 422.4 369.2 422.3 376 422.1 372.7 421.9 370 421.8 369.2 421.6 373.6 421.5 372.4 421.3 371.3 421.1 371.3 421 368.6 420.8 378.9 420.7 373.3 420.5 373.8 420.3 369.8 420.2 373 420 369.9 419.9 372.3 419.7 375.6 419.5 370.5 419.4 370.5 419.2 368.3 419.1 369.5 418.9 369.1 418.7 371.2 418.6 369.3 418.4 370.4 418.3 371.7 418.1 372.5 417.9 372.8 417.8 369.6 417.6 367.5 417.5 367.9 417.3 364.8 417.1 367.7 417 368.1 416.8 368 416.7 365.7 416.5 365.7 416.3 366.4 416.2 368.2 416 363.9 415.9 363.3 415.7 365.1 415.5 364.4 415.4 359.9 415.2 361.9 415.1 364.7 414.9 362.9 414.7 358.3 414.6 364.5 414.4 358.3 414.3 362.1 414.1 364.8 413.9 362.6 413.8 355.2 413.6 359.9 413.5 360.4 413.3 354.8 413.1 360.5 413 355.8 412.8 354.8 412.7 361.8 412.5 357.3 412.3 358 412.2 356 412 356.4 411.9 351 411.7 354.3 411.5 356.2 411.4 354.1 411.2 352.5 411.1 353.2 410.9 352.9 410.7 355 410.6 352.9 410.4 349 410.3 352.4 410.1 349.4 409.9 350.1 409.8 349.1 409.6 347.1 409.5 350.8 409.3 343.5 409.1 346.2 409 342.8 408.8 340.9 408.7 346.5 408.5 344.3 408.3 348.1 408.2 338.1 408 341.8 407.9 337.8 407.7 341.8 407.5 339.6 407.4 344.3 407.2 338.4 407.1 341.4 406.9 338.1 406.7 340.5 406.6 340.7 406.4 338.9 406.3 340.6 406.1 338.4 405.9 337.5 405.8 340.2 405.6 337.3 405.5 335 405.3 336.8 405.1 345.1 405 336.2 404.8 336.5 404.7 338.8 404.5 338.8 404.3 330.5 404.2 333.8 404 339.8 403.9 337.1 403.7 334.8 403.5 336.6 403.4 336.4 403.2 336.3 403.1 332.6 402.9 335.2 402.7 335.1 402.6 338.5 402.4 333.3 402.3 332.8 402.1 331.6 401.9 329.4 401.8 326.5 401.6 325 401.5 331.6 401.3 329.8 401.1 328.8 401 325.2 400.8 329.6 400.7 325.7 400.5 325.9 400.3 324.3 400.2 327.4 400 324.9 399.9 328.6 399.7 327.9 399.5 321.4 399.4 326 399.2 319.1 399.1 317.1 398.9 320.8 398.7 323.6 398.6 318.8 398.4 318 398.3 320.9 398.1 319.7 397.9 313.6 397.8 320.9 397.6 316.2 397.5 318 397.3 316.5 397.1 315.6 397 317.1 396.8 312.7 396.7 313.1 396.5 311.2 396.3 311.1 396.2 315.9 396 314.2 395.9 312.4 395.7 312.7 395.5 308.4 395.4 312.1 395.2 304.5 395.1 311 394.9 304.3 394.7 304 394.6 301.2 394.4 305.9 394.3 305.2 394.1 306.8 393.9 303.9 393.8 299.8 393.6 298.4 393.5 301.5 393.3 303.2 393.1 305.9 393 308.2 392.8 303.5 392.7 300.5 392.5 302.2 392.3 298.5 392.2 301 392 294.2 391.9 296.9 391.7 302.8 391.5 301.3 391.4 296.3 391.2 299.4 391.1 297.1 390.9 295.3 390.7 298.5 390.6 296.7 390.4 295 390.3 303.1 390.1 298.1 389.9 297.8 389.8 296.1 389.6 293.3 389.5 291.7 389.3 290 389.1 290.9 389 288.4 388.8 294.6 388.7 292.2 388.5 293.5 388.3 295.9 388.2 288.5 388 285.8 387.9 289.7 387.7 291.8 387.5 285.7 387.4 288.8 387.2 286.6 387.1 293.5 386.9 287.5 386.7 290.9 386.6 289.9 386.4 286.5 386.3 283.3 386.1 284.4 385.9 286.2 385.8 283.2 385.6 282.4 385.5 284.3 385.3 287.3 385.1 285.1 385 282.6 384.8 288.2 384.7 287.5 384.5 282.1 384.3 280.1 384.2 282.7 384 287.3 383.9 278.2 383.7 278.8 383.5 280.2 383.4 281.1 383.2 277.8 383.1 280.9 382.9 279.6 382.7 283 382.6 284.6 382.4 280.1 382.3 275 382.1 279.6 381.9 276.5 381.8 272.8 381.6 278 381.5 280.5 381.3 268.4 381.1 272 381 279.7 380.8 275.1 380.7 275.9 380.5 276.4 380.3 267.1 380.2 272.9 380 274.7 379.9 273.2 379.7 273.3 379.5 273.3 379.4 272 379.2 271.8 379.1 274.4 378.9 266.2 378.7 268.6 378.6 268.3 378.4 271.5 378.3 265.7 378.1 267.9 377.9 271 377.8 272.9 377.6 267.9 377.5 273.1 377.3 267.7 377.1 266.6 377 270 376.8 268.3 376.7 268.7 376.5 265.7 376.3 264.7 376.2 266.1 376 267.3 375.9 263.6 375.7 264.2 375.5 263.3 375.4 262.2 375.2 263.4 375.1 258.6 374.9 263.9 374.7 262.7 374.6 260.8 374.4 260.6 374.3 265.4 374.1 261.6 373.9 261.8 373.8 268.5 373.6 264.5 373.5 266.1 373.3 262.3 373.1 266.3 373 262.4 372.8 263.8 372.7 261 372.5 259.9 372.3 262 372.2 259 372 258.5 371.9 263 371.7 262.2 371.5 261.5 371.4 257 371.2 260.5 371.1 262.9 370.9 260 370.7 261.4 370.6 262.4 370.4 262.1 370.3 257.7 370.1 258.7 369.9 261.6 369.8 261.8 369.6 261.9 369.5 259.3 369.3 261.7 369.1 257.6 369 256 368.8 260.8 368.7 253.7 368.5 259.7 368.3 259.2 368.2 255.4 368 257.1 367.9 255.7 367.7 256 367.5 251.6 367.4 258.7 367.2 254.3 367.1 252.2 366.9 240.9 366.7 254.5 366.6 254.8 366.4 240.2 366.3 257.7 366.1 256.2 365.9 255.1 365.8 247 365.6 252.5 365.5 249.3 365.3 252.4 365.1 243.9 365 250.6 364.8 249.5 364.7 254.7 364.5 247.6 364.3 251.3 364.2 251.1 364 246.2 363.9 250 363.7 249.3 363.5 243.7 363.4 243.3 363.2 248.4 363.1 243 362.9 245.2 362.7 247.1 362.6 241.8 362.4 246.3 362.3 245.4 362.1 242.8 361.9 242.3 361.8 239.7 361.6 243.3 361.5 245.1 361.3 240.6 361.1 244 361 243.6 360.8 243.7 360.7 241.4 360.5 243.5 360.3 239.6 360.2 242.6 360 237 359.9 240.7 359.7 243 359.5 241.4 359.4 240 359.2 237.7 359.1 245.2 358.9 247 358.7 241 358.6 243.6 358.4 244.8 358.3 243.6 358.1 245.5 357.9 242.7 357.8 242.1 357.6 248.4 357.5 246.8 357.3 249.5 357.1 246.1 357 247.1 356.8 245.1 356.7 245.5 356.5 244 356.3 243.5 356.2 247.8 356 251.9 355.9 248.2 355.7 250.2 355.5 249 355.4 246.9 355.2 249.7 355.1 251.3 354.9 249.1 354.7 248.2 354.6 246.4 354.4 253.1 354.3 250.2 354.1 245.4 353.9 252.6 353.8 252.1 353.6 250.4 353.5 250.6 353.3 249.4 353.1 251.1 353 250.9 352.8 252.3 352.7 255.6 352.5 249.8 352.3 249.4 352.2 250 352 252 351.9 254.5 351.7 253.2 351.5 258.8 351.4 255.6 351.2 256.3 351.1 253.1 350.9 260.6 350.7 253.5 350.6 252.7 350.4 249.6 350.3 251.9 350.1 256.9 349.9 255.4 349.8 257.4 349.6 257.8 349.5 253.7 349.3 256.8 349.1 255.5 349 256.3 348.8 257.7 348.7 253.8 348.5 262.2 348.3 257 348.2 259.7 348 259.5 347.9 260.9 347.7 259.5 347.5 262.8 347.4 256.1 347.2 259.8 347.1 257.2 346.9 257.8 346.7 257.7 346.6 254.3 346.4 260.3 346.3 254.2 346.1 261.5 345.9 262.7 345.8 262.2 345.6 263.2 345.5 259.7 345.3 257.9 345.1 260.1 345 254 344.8 266.2 344.7 259.4 344.5 263.8 344.3 262 344.2 261.2 344 268.3 343.9 266.3 343.7 267.1 343.5 264 343.4 267.5 343.2 272.1 343.1 268.3 342.9 266.6 342.7 269.7 342.6 267.9 342.4 272.9 342.3 271.2 342.1 268.6 341.9 273.1 341.8 273.4 341.6 273.1 341.5 273.1 341.3 271.1 341.1 272.8 341 275.8 340.8 274.9 340.7 274.1 340.5 278.7 340.3 276.8 340.2 275.4 340 277.4 339.9 273.5 339.7 276.2 339.5 274.4 339.4 281.2 339.2 276.6 339.1 283.3 338.9 279.6 338.7 281.6 338.6 277.6 338.4 279.2 338.3 278.6 338.1 280.8 337.9 282.2 337.8 283.7 337.6 275.9 337.5 281.4 337.3 279.4 337.1 280.5 337 279.7 336.8 276.4 336.7 282.9 336.5 283.8 336.3 278.7 336.2 287.4 336 290.5 335.9 285.2 335.7 287.4 335.5 286.9 335.4 288.3 335.2 285.9 335.1 287.8 334.9 286.3 334.7 294.6 334.6 288.5 334.4 286.7 334.3 285.2 334.1 287.5 333.9 285.6 333.8 289.7 333.6 289.2 333.5 289.8 333.3 287 333.1 291.5 333 288.6 332.8 292.7 332.7 289.6 332.5 291.5 332.3 286.8 332.2 288.9 332 291.9 331.9 290.9 331.7 289.7 331.5 288.7 331.4 286.1 331.2 292.4 331.1 291.9 330.9 290.2 330.7 287.9 330.6 292.5 330.4 295.9 330.3 292.4 330.1 297 329.9 292.5 329.8 298.5 329.6 291.3 329.5 300 329.3 296.5 329.1 299.7 329 295.6 328.8 302.6 328.7 301.8 328.5 300.6 328.3 298 328.2 295.8 328 297.3 327.9 297.7 327.7 296.9 327.5 300.1 327.4 297.9 327.2 303.5 327.1 298.6 326.9 301.3 326.7 302.8 326.6 301 326.4 303.7 326.3 299.6 326.1 301.6 325.9 304 325.8 305.2 325.6 303.1 325.5 300.1 325.3 305.9 325.1 310.1 325 301.9 324.8 298.3 324.7 308.1 324.5 303.3 324.3 304.1 324.2 303.3 324 311 323.9 308.3 323.7 308 323.5 303.8 323.4 308.5 323.2 308.8 323.1 312.4 322.9 312.4 322.7 311.9 322.6 308.8 322.4 313.1 322.3 311.7 322.1 308.1 321.9 308.9 321.8 316.2 321.6 312 321.5 316.1 321.3 311.8 321.1 310.7 321 313.3 320.8 313.9 320.7 313.3 320.5 314.4 320.3 315.8 320.2 312 320 314.4 319.9 315.7 319.7 318 319.5 317.2 319.4 320.3 319.2 320 319.1 316.4 318.9 319.1 318.7 315 318.6 320.9 318.4 318.9 318.3 314.9 318.1 315.8 317.9 313.6 317.8 320.1 317.6 324.2 317.5 316.5 317.3 318.7 317.1 318.8 317 318.6 316.8 317.8 316.7 319.6 316.5 322.6 316.3 324.1 316.2 325.4 316 322.9 315.9 323.7 315.7 322.1 315.5 326 315.4 324.6 315.2 327.2 315.1 319.9 314.9 322.8 314.7 322.9 314.6 323.1 314.4 323.1 314.3 325.3 314.1 329.5 313.9 322.7 313.8 325.7 313.6 330.2 313.5 328.2 313.3 334.1 313.1 328.6 313 328 312.8 328.7 312.7 333.7 312.5 337 312.3 331 312.2 330.6 312 333.3 311.9 332.7 311.7 337.7 311.5 333.6 311.4 328.9 311.2 335.9 311.1 329.5 310.9 338.2 310.7 337 310.6 332.8 310.4 336.6 310.3 339.7 310.1 339.6 309.9 333.6 309.8 338.4 309.6 341.2 309.5 343.1 309.3 338.2 309.1 340.7 309 339.4 308.8 341.3 308.7 340 308.5 344.1 308.3 344.5 308.2 347.5 308 347.8 307.9 345.4 307.7 350.4 307.5 341 307.4 343.6 307.2 341.8 307.1 344.3 306.9 351.4 306.7 343.3 306.6 346.7 306.4 348.1 306.3 349.7 306.1 351.6 305.9 350.9 305.8 351.2 305.6 356.2 305.5 348.7 305.3 350.9 305.1 351.7 305 351 304.8 349.5 304.7 348.8 304.5 355.5 304.3 352.3 304.2 357.6 304 357.7 303.9 351.3 303.7 356.7 303.5 353 303.4 350.1 303.2 354.4 303.1 354.7 302.9 358.3 302.7 359.2 302.6 358.7 302.4 356.6 302.3 359.5 302.1 357 301.9 354.9 301.8 355.2 301.6 358 301.5 357.5 301.3 356.3 301.1 356.7 301 359.7 300.8 360.5 300.7 361.2 300.5 360.7 300.3 361.2 300.2 367.2 300 363.5 299.9 365 299.7 358.9 299.5 364.5 299.4 361.4 299.2 363.7 299.1 362.8 298.9 365.6 298.7 365.7 298.6 368.4 298.4 361.2 298.3 367.3 298.1 365.2 297.9 368.8 297.8 369.5 297.6 369.9 297.5 367.8 297.3 367.3 297.1 363.4 297 368.7 296.8 373.1 296.7 370.5 296.5 370 296.3 371.5 296.2 369.5 296 369.4 295.9 371.3 295.7 369.9 295.5 374.9 295.4 372.3 295.2 377.3 295.1 372.8 294.9 378.8 294.7 374.3 294.6 376.5 294.4 380.7 294.3 372.1 294.1 378.6 293.9 382.1 293.8 382.2 293.6 377 293.5 385.3 293.3 380.7 293.1 376.9 293 385.8 292.8 378.5 292.7 381.9 292.5 382.7 292.3 380.6 292.2 381.9 292 380.5 291.9 381.6 291.7 381.6 291.5 384.5 291.4 381.1 291.2 391 291.1 385.3 290.9 384.8 290.7 385 290.6 383.7 290.4 383.2 290.3 387.6 290.1 389.4 289.9 382.8 289.8 382.5 289.6 385.5 289.5 389.7 289.3 390.1 289.1 388.1 289 393 288.8 392.8 288.7 389.8 288.5 387.6 288.3 393.8 288.2 389.8 288 389.6 287.9 392.6 287.7 388.2 287.5 392.9 287.4 393.3 287.2 396.2 287.1 392 286.9 394 286.7 394 286.6 394.8 286.4 396.9 286.3 395 286.1 398.9 285.9 393 285.8 392.1 285.6 393.3 285.5 398.8 285.3 397.6 285.1 394.3 285 398.7 284.8 398.7 284.7 405.2 284.5 395.5 284.3 402.9 284.2 398.5 284 401.4 283.9 394.9 283.7 401.6 283.5 399.1 283.4 401 283.2 396.4 283.1 401.2 282.9 397.3 282.7 399.4 282.6 403.2 282.4 400 282.3 399.9 282.1 407.8 281.9 396.5 281.8 402.6 281.6 403 281.5 406 281.3 394.6 281.1 405.3 281 402 280.8 406.5 280.7 409 280.5 404.1 280.3 407.8 280.2 404.9 280 405.5 279.9 404.5 279.7 404 279.5 403.5 279.4 405.4 279.2 409.1 279.1 410.1 278.9 410.1 278.7 409 278.6 407.7 278.4 412.3 278.3 407.1 278.1 407.6 277.9 407.4 277.8 407.9 277.6 402.9 277.5 408 277.3 404.8 277.1 407.8 277 406.3 276.8 410.5 276.7 411.1 276.5 407.8 276.3 413.1 276.2 414.3 276 409.6 275.9 407.6 275.7 407.2 275.5 409.3 275.4 414.4 275.2 407.4 275.1 413.5 274.9 411.7 274.7 414.1 274.6 410.6 274.4 412 274.3 409.1 274.1 411.6 273.9 413.8 273.8 415 273.6 415.6 273.5 414 273.3 411.1 273.1 417.2 273 413.4 272.8 414.9 272.7 420.6 272.5 414.5 272.3 413.5 272.2 410.2 272 410.6 271.9 410.8 271.7 410.9 271.5 415.4 271.4 414.7 271.2 414.1 271.1 414.4 270.9 412.1 270.7 411.5 270.6 412.2 270.4 417 270.3 417.6 270.1 414.5 269.9 408.6 269.8 417.3 269.6 413.5 269.5 413.9 269.3 411.4 269.1 412 269 415.3 268.8 412.1 268.7 416 268.5 413.8 268.3 417.6 268.2 413.2 268 411.7 267.9 413.9 267.7 416.8 267.5 415.6 267.4 412.4 267.2 421.3 267.1 417.3 266.9 417.1 266.7 416.8 266.6 414 266.4 416.5 266.3 417.9 266.1 417.2 265.9 416.6 265.8 418.7 265.6 411.5 265.5 413.4 265.3 421.4 265.1 414.2 265 420.4 264.8 415.9 264.7 420.7 264.5 418.8 264.3 422.2 264.2 420.2 264 423.6 263.9 421 263.7 415.7 263.5 422 263.4 425.2 263.2 420.1 263.1 421.1 262.9 418.8 262.7 420.2 262.6 419.5 262.4 422.5 262.3 422.3 262.1 423.8 261.9 418.8 261.8 424.9 261.6 425 261.5 416.1 261.3 415.9 261.1 426.4 261 421.9 260.8 421.1 260.7 426.1 260.5 420.2 260.3 417.3 260.2 418.5 260 425.6 259.9 421.9 259.7 419 259.5 414.7 259.4 423 259.2 421 259.1 415.1 258.9 417.9 258.7 418.2 258.6 418.6 258.4 414.6 258.3 420.3 258.1 416.9 257.9 418.6 257.8 421.9 257.6 416.9 257.5 416.9 257.3 418 257.1 421.8 257 419.8 256.8 417.9 256.7 415.7 256.5 416.7 256.3 418.4 256.2 420.8 256 418.9 255.9 422.1 255.7 418.9 255.5 420.2 255.4 419.3 255.2 419.5 255.1 417.1 254.9 419.8 254.7 420.4 254.6 418.5 254.4 417.5 254.3 417.8 254.1 420.1 253.9 420.6 253.8 418 253.6 415 253.5 420.5 253.3 409.6 253.1 413.9 253 414.6 252.8 414.7 252.7 416.3 252.5 409.3 252.3 412.6 252.2 414.9 252 412 251.9 410.3 251.7 410.7 251.5 415 251.4 412.4 251.2 416.8 251.1 412.8 250.9 413.6 250.7 421.9 250.6 412.5 250.4 420.4 250.3 413 250.1 411.1 249.9 413.3 249.8 416.7 249.6 420.2 249.5 415.6 249.3 416.7 249.1 421.3 249 420.5 248.8 414.4 248.7 416.7 248.5 416.1 248.3 419.6 248.2 416.8 248 414.8 247.9 418.3 247.7 417.9 247.5 415.8 247.4 414.8 247.2 421 247.1 418.2 246.9 424.6 246.7 422.1 246.6 421.8 246.4 417.9 246.3 423.8 246.1 418.3 245.9 419 245.8 412.4 245.6 417.9 245.5 413.4 245.3 417.8 245.1 419.6 245 424.6 244.8 412.9 244.7 423.4 244.5 421.3 244.3 418.7 244.2 422.1 244 417.3 243.9 419.9 243.7 417.4 243.5 423.9 243.4 420.2 243.2 422.6 243.1 422.8 242.9 418.6 242.7 418 242.6 417.4 242.4 420.7 242.3 418.5 242.1 424.4 241.9 412.8 241.8 419.7 241.6 419.8 241.5 421.2 241.3 418.7 241.1 418.5 241 415.7 240.8 412.4 240.7 415.2 240.5 419.6 240.3 417.1 240.2 411.1 240 415.3 239.9 417.4 239.7 415 239.5 417.3 239.4 416.1 239.2 410.5 239.1 420.8 238.9 407.5 238.7 418.3 238.6 409.8 238.4 414.3 238.3 411.2 238.1 411.1 237.9 412.3 237.8 409.5 237.6 411.1 237.5 411.4 237.3 411.7 237.1 415.3 237 408.3 236.8 408.1 236.7 416 236.5 415.9 236.3 416.5 236.2 411.4 236 415.9 235.9 414 235.7 413 235.5 414.3 235.4 412.5 235.2 416.3 235.1 416.4 234.9 409.6 234.7 416.7 234.6 414.2 234.4 408 234.3 411.8 234.1 417.5 233.9 414.7 233.8 416.6 233.6 419.8 233.5 415.1 233.3 415.7 233.1 410.5 233 411.2 232.8 408.8 232.7 408.8 232.5 417.2 232.3 417.8 232.2 412.1 232 412.3 231.9 413.1 231.7 418.3 231.5 417 231.4 414.8 231.2 413.2 231.1 421.3 230.9 415.7 230.7 409.9 230.6 414.3 230.4 412.7 230.3 410.1 230.1 408.4 229.9 406.5 229.8 407.5 229.6 413.8 229.5 405 229.3 408.3 229.1 415.2 229 407.4 228.8 409.5 228.7 408.8 228.5 402.7 228.3 412.1 228.2 402.5 228 403.8 227.9 406.3 227.7 402.8 227.5 404.6 227.4 407.4 227.2 409.5 227.1 408.7 226.9 408.6 226.7 407.1 226.6 405.7 226.4 404.9 226.3 404.1 226.1 406.2 225.9 403.2 225.8 401.8 225.6 405.3 225.5 403.2 225.3 408 225.1 403.6 225 407.5 224.8 404.5 224.7 405.1 224.5 400.5 224.3 403.2 224.2 409 224 401.8 223.9 406 223.7 402.5 223.5 395.4 223.4 402.8 223.2 405 223.1 405.1 222.9 398.9 222.7 404.3 222.6 402.8 222.4 399.8 222.3 400.8 222.1 404.8 221.9 398.8 221.8 397.1 221.6 395.2 221.5 398.6 221.3 403.6 221.1 398.4 221 397 220.8 402.2 220.7 392.9 220.5 397.5 220.3 396.6 220.2 399.8 220 398 219.9 393.9 219.7 396.2 219.5 395.8 219.4 400.7 219.2 395.4 219.1 395 218.9 399.3 218.7 397.2 218.6 402 218.4 391.9 218.3 397.3 218.1 398.6 217.9 402.3 217.8 398.9 217.6 405.1 217.5 402.3 217.3 392.1 217.1 400.9 217 405.7 216.8 397.9 216.7 403.8 216.5 398.3 216.3 402.2 216.2 402.4 216 403 215.9 404.8 215.7 394.1 215.5 397.2 215.4 401.8 215.2 395.2 215.1 399.2 214.9 397.2 214.7 401.5 214.6 400.3 214.4 399.9 214.3 395.5 214.1 397.6 213.9 398.7 213.8 405.6 213.6 399.8 213.5 398 213.3 394.3 213.1 397.1 213 400.5 212.8 397.6 212.7 398 212.5 400.6 212.3 394.5 212.2 404.4 212 401.9 211.9 402.1 211.7 398.4 211.5 399.4 211.4 402 211.2 398.6 211.1 396.2 210.9 399.2 210.7 394.3 210.6 400.4 210.4 399.3 210.3 400.7 210.1 395.3 209.9 397.1 209.8 395.8 209.6 396.4 209.5 398.9 209.3 395.3 209.1 397.2 209 397.1 208.8 394.5 208.7 401.8 208.5 394.4 208.3 396.6 208.2 393.7 208 395.9 207.9 393.6 207.7 397.4 207.5 396.3 207.4 394.1 207.2 395.6 207.1 397.8 206.9 389.9 206.7 392.1 206.6 393.2 206.4 392.4 206.3 393.5 206.1 395.3 205.9 388.9 205.8 391.1 205.6 394.8 205.5 390.3 205.3 396.2 205.1 394.4 205 391.8 204.8 390.4 204.7 392 204.5 391.9 204.3 388.5 204.2 390.3 204 387 203.9 389.6 203.7 393.6 203.5 392.5 203.4 387.1 203.2 389.6 203.1 386.7 202.9 387.5 202.7 390.5 202.6 390.3 202.4 394.6 202.3 387.4 202.1 390.8 201.9 391.6 201.8 384.7 201.6 391.3 201.5 389.4 201.3 392.6 201.1 389.1 201 389.7 200.8 396.5 200.7 390.2 200.5 389.6 200.3 388.3 200.2 391.8 200 385.2 199.9 389.7 199.7 387.7 199.5 383.9 199.4 388.1 199.2 389 199.1 385.2 198.9 379.4 198.7 384.8 198.6 384.4 198.4 385 198.3 383 198.1 380.7 197.9 383.9 197.8 382.7 197.6 379.3 197.5 380.4 197.3 376.1 197.1 381.8 197 377.9 196.8 384.7 196.7 387.4 196.5 384.9 196.3 383.8 196.2 385.5 196 386.4 195.9 376.7 195.7 380.6 195.5 377.2 195.4 382.9 195.2 381.3 195.1 384.6 194.9 381.4 194.7 380.9 194.6 379.8 194.4 379.3 194.3 383.2 194.1 383.6 193.9 377.1 193.8 379.2 193.6 378.4 193.5 382.8 193.3 378.4 193.1 381.4 193 383.2 192.8 381.2 192.7 381 192.5 375.3 192.3 374.8 192.2 375.5 192 375.6 191.9 373.3 191.7 375 191.5 383.8 191.4 379.2 191.2 374.5 191.1 376.3 190.9 377.6 190.7 377.6 190.6 373.6 190.4 374.7 190.3 376.4 190.1 373.3 189.9 372.2 189.8 375.1 189.6 373.9 189.5 375.6 189.3 373.6 189.1 373.2 189 375.3 188.8 373.4 188.7 375.7 188.5 371.3 188.3 369.2 188.2 370.4 188 375.4 187.9 375 187.7 370.7 187.5 370.5 187.4 379.1 187.2 376 187.1 372.7 186.9 372.2 186.7 380.9 186.6 373.1 186.4 373.9 186.3 372.9 186.1 375.6 185.9 375.6 185.8 378.3 185.6 376.1 185.5 375.5 185.3 378 185.1 375.8 185 384.8 184.8 372.7 184.7 377.8 184.5 375.8 184.3 377.2 184.2 376.7 184 379 183.9 376.2 183.7 377.9 183.5 376.1 183.4 378.1 183.2 374.3 183.1 376.4 182.9 373.5 182.7 375.8 182.6 377.6 182.4 373.9 182.3 372.4 182.1 375.4 181.9 370.9 181.8 376.7 181.6 381 181.5 377.1 181.3 374.5 181.1 375.7 181 376.5 180.8 370.1 180.7 365.9 180.5 376.5 180.3 380.2 180.2 370.7 180 375.3 179.9 372 179.7 377.6 179.5 376.6 179.4 379.6 179.2 375.2 179.1 369.2 178.9 372.3 178.7 376.6 178.6 378.6 178.4 369.1 178.3 373 178.1 372.7 177.9 370.8 177.8 369.9 177.6 376.4 177.5 374.5 177.3 368.3 177.1 372 177 375.1 176.8 373.2 176.7 375.3 176.5 370 176.3 373.4 176.2 373.1 176 375.6 175.9 374 175.7 374 175.5 380.3 175.4 377.4 175.2 380.9 175.1 374.2 174.9 376.3 174.7 375.7 174.6 377.8 174.4 378.1 174.3 374.5 174.1 373.7 173.9 371.3 173.8 373.4 173.6 372 173.5 375.2 173.3 376.7 173.1 376.7 173 374.1 172.8 375.2 172.7 378.3 172.5 374.9 172.3 378.2 172.2 373.1 172 372.7 171.9 373 171.7 376.8 171.5 371.6 171.4 374 171.2 375.2 171.1 373.9 170.9 377.8 170.7 379.8 170.6 378.7 170.4 378.5 170.3 380 170.1 377.7 169.9 378.2 169.8 378.7 169.6 379.8 169.5 381 169.3 383.4 169.1 382.4 169 386.1 168.8 383.2 168.7 379.9 168.5 380.9 168.3 386 168.2 380.1 168 381.8 167.9 380.4 167.7 384.6 167.5 381.1 167.4 377.9 167.2 382.5 167.1 381.8 166.9 383.3 166.7 380.6 166.6 379 166.4 379.1 166.3 377.4 166.1 380.2 165.9 378 165.8 375.5 165.6 377.8 165.5 375.5 165.3 378.4 165.1 377.5 165 378.2 164.8 377.9 164.7 372.9 164.5 380.8 164.3 381.8 164.2 383.8 164 373.2 163.9 374.2 163.7 379.5 163.5 377.5 163.4 384.1 163.2 378 163.1 382.6 162.9 381.6 162.7 377.5 162.6 380 162.4 379.1 162.3 381.3 162.1 377.6 161.9 379.7 161.8 383.5 161.6 377.9 161.5 382.1 161.3 373.1 161.1 375.5 161 379.3 160.8 380.5 160.7 377.9 160.5 379.2 160.3 377.2 160.2 376 160 379 159.9 376.9 159.7 382.5 159.5 376.9 159.4 378 159.2 378.9 159.1 380.5 158.9 377.4 158.7 376.6 158.6 378.6 158.4 377.1 158.3 376.7 158.1 381.9 157.9 380.6 157.8 376.4 157.6 376.5 157.5 375.3 157.3 378.3 157.1 377.8 157 377.5 156.8 381.9 156.7 382.4 156.5 378 156.3 381.7 156.2 378.7 156 386.9 155.9 381.2 155.7 385.8 155.5 382.7 155.4 386.6 155.2 384.3 155.1 381.7 154.9 382.2 154.7 384.8 154.6 386.6 154.4 387.7 154.3 384.7 154.1 381.7 153.9 386.6 153.8 386.2 153.6 388.4 153.5 385.5 153.3 385.7 153.1 388.5 153 387.5 152.8 387.7 152.7 389.9 152.5 386.4 152.3 391.7 152.2 387.4 152 385.4 151.9 390.6 151.7 388.9 151.5 384.9 151.4 392.9 151.2 384 151.1 388.7 150.9 388.2 150.7 387.1 150.6 389.5 150.4 388.3 150.3 387.2 150.1 382.7 149.9 386.5 149.8 393 149.6 391.6 149.5 392.8 149.3 384.6 149.1 390.4 149 387.5 148.8 386.8 148.7 387.7 148.5 387.7 148.3 389.2 148.2 393.1 148 386.8 147.9 393.7 147.7 387.7 147.5 389.8 147.4 391.7 147.2 388.6 147.1 392.3 146.9 390.8 146.7 386.9 146.6 394.3 146.4 391.8 146.3 392.2 146.1 389.7 145.9 388.1 145.8 390.1 145.6 393.1 145.5 390.6 145.3 393.3 145.1 392.6 145 393.3 144.8 394.7 144.7 390 144.5 389.9 144.3 389.2 144.2 392.8 144 393 143.9 389.2 143.7 391.4 143.5 394.7 143.4 391 143.2 396.6 143.1 392 142.9 391.7 142.7 390 142.6 399.2 142.4 391.6 142.3 392.7 142.1 398.2 141.9 394.2 141.8 397.9 141.6 399.5 141.5 396 141.3 392.8 141.1 391.6 141 389.1 140.8 389.2 140.7 392.4 140.5 393.6 140.3 394.5 140.2 393.9 140 393.2 139.9 398.6 139.7 395.8 139.5 396.1 139.4 393.2 139.2 395.8 139.1 399.2 138.9 401 138.7 392.4 138.6 399.5 138.4 393.7 138.3 394.8 138.1 396.8 137.9 398.4 137.8 399.1 137.6 405.4 137.5 401 137.3 400.9 137.1 399.3 137 398.3 136.8 400.4 136.7 398.1 136.5 403.8 136.3 396.6 136.2 393.1 136 396.7 135.9 398.6 135.7 395.5 135.5 399 135.4 393.2 135.2 399.9 135.1 393 134.9 390.7 134.7 394 134.6 398.2 134.4 396.1 134.3 393.2 134.1 394.2 133.9 396.1 133.8 394.1 133.6 396.3 133.5 398.6 133.3 392.3 133.1 395.2 133 395.6 132.8 397.6 132.7 396.2 132.5 399.9 132.3 396.7 132.2 397.7 132 393.5 131.9 397 131.7 393 131.5 397.1 131.4 398.6 131.2 396 131.1 399.2 130.9 402.1 130.7 393.6 130.6 396.5 130.4 399.9 130.3 398.5 130.1 396.8 129.9 398.8 129.8 398 129.6 398.7 129.5 396.7 129.3 394.9Z" fill="#0072B2" fill-opacity="0.2" stroke="#0072B2" stroke-opacity="0.2" stroke-width="1.39" stroke-linejoin="round"/>
<g stroke="#808080" stroke-opacity="0.2" stroke-width="1.39" fill="none"><path d="M160.5 15.5V542.5"/><path d="M285.5 15.5V542.5"/><path d="M409.5 15.5V542.5"/><path d="M534.5 15.5V542.5"/><path d="M659.5 15.5V542.5"/><path d="M783.5 15.5V542.5"/><path d="M908.5 15.5V542.5"/><path d="M88.5 64.5H985.5"/><path d="M88.5 155.5H985.5"/><path d="M88.5 246.5H985.5"/><path d="M88.5 337.5H985.5"/><path d="M88.5 428.5H985.5"/><path d="M88.5 520.5H985.5"/></g>
<path d="M130 357.6h0M130.2 367.5h0M130.3 362.7h0M130.4 357.8h0M130.6 357.4h0M130.6 358.6h0M130.7 363h0M130.8 370.6h0M130.9 375.3h0M131 359.8h0M131.2 365.3h0M131.5 361.3h0M131.5 378.1h0M131.6 358.1h0M131.6 357.1h0M131.7 368.3h0M131.8 373.9h0M131.8 365.8h0M131.9 370.8h0M132 370.8h0M132.3 368.3h0M132.4 367.5h0M132.6 386.3h0M132.6 382.3h0M132.8 389.6h0M132.9 358.1h0M133 388.3h0M133.1 390.2h0M133.6 383.5h0M133.6 363.4h0M133.7 364.5h0M133.8 358.3h0M133.8 395.2h0M134 387.2h0M134.1 391.4h0M134.1 357.6h0M134.2 391.5h0M134.2 379.3h0M134.4 358.4h0M134.4 382.3h0M134.5 360.2h0M134.6 359.4h0M134.6 395.3h0M134.8 357.1h0M134.9 367.6h0M135.1 391.7h0M135.3 383.1h0M135.3 380.1h0M135.4 381.4h0M135.6 390.7h0M135.6 361.9h0M135.8 359.4h0M135.9 369h0M135.9 357.9h0M136 362h0M136 351.8h0M136.1 378.6h0M136.4 368.9h0M136.4 355.6h0M136.5 375.7h0M136.7 359.4h0M136.9 354.8h0M137.1 365.8h0M137.2 337.6h0M137.5 365.9h0M137.6 334.8h0M137.6 364.5h0M137.6 335.6h0M137.7 320.6h0M137.8 323.1h0M137.9 359.7h0M137.9 356.9h0M138 325h0M138.1 320.5h0M138.4 355.7h0M138.4 339.4h0M138.5 320.4h0M138.5 346.9h0M138.6 329.7h0M138.9 354.1h0M139.2 340.2h0M139.3 322.1h0M139.6 334.9h0M139.9 328.6h0M140 332.7h0M140.1 349.9h0M140.5 321.4h0M140.5 344h0M140.7 321h0M140.8 349.8h0M141.2 347h0M141.4 328.1h0M141.5 348.9h0M141.5 325.1h0M141.6 323.8h0M141.7 332h0M141.7 323.7h0M142 345.6h0M142 343h0M142 348.7h0M142.2 330.8h0M142.3 320.3h0M142.5 321.3h0M142.6 321.5h0M142.6 328.7h0M142.6 342.9h0M142.7 337h0M142.7 338.8h0M142.8 325.8h0M142.9 319.9h0M142.9 322.5h0M142.9 348.7h0M142.9 338.8h0M143 349.2h0M143.1 318.8h0M143.2 349.1h0M143.3 342.4h0M143.3 329.9h0M143.4 318.8h0M143.7 317.3h0M144 338.8h0M144.4 315.4h0M144.6 317.6h0M144.6 337.2h0M144.7 313.3h0M145.1 344.2h0M145.1 312.9h0M145.5 329.1h0M145.6 348.1h0M145.6 323.8h0M145.7 347.9h0M145.7 312.9h0M145.7 347.8h0M145.8 345.7h0M146.1 343h0M146.2 312.9h0M146.2 346.2h0M146.3 346.4h0M146.4 346.4h0M146.6 334h0M146.7 337.4h0M146.7 316.6h0M146.7 344.2h0M146.9 323.8h0M147.1 338.9h0M147.1 312.9h0M147.3 341.4h0M147.3 312.9h0M147.3 337h0M147.5 344.3h0M147.6 337.5h0M147.7 333.9h0M147.8 336.2h0M148.2 343.6h0M148.4 316.1h0M148.5 333.4h0M148.5 344.3h0M148.6 314.8h0M149.2 339.9h0M149.3 339h0M149.9 342h0M150.7 333.1h0M150.7 334.7h0M150.8 336.6h0M150.9 341.2h0M150.9 341.5h0M151.2 334.1h0M151.8 335.5h0M152 336.5h0M152.3 341.2h0M152.6 340.4h0M152.6 341h0M152.7 333.1h0M153.1 337.1h0M153.3 332.5h0M153.3 332.4h0M153.3 335.8h0M153.4 332h0M153.6 335.9h0M153.7 342h0M153.8 336.4h0M154 340.6h0M154.1 337.3h0M154.2 330.5h0M154.3 336.6h0M154.4 336.7h0M154.4 338.9h0M154.5 331.5h0M154.7 338.7h0M154.8 342.2h0M154.9 328.3h0M155.1 333.6h0M155.3 339.5h0M155.9 341.6h0M156 326h0M156.3 335.5h0M156.4 324.3h0M156.5 343.3h0M156.7 329.6h0M156.8 342.5h0M157 336.3h0M157 340.8h0M157 330.5h0M157.1 341.6h0M157.2 316.5h0M157.2 342.7h0M157.2 335.2h0M157.3 341.9h0M157.6 340.2h0M157.7 326.2h0M157.8 344.7h0M157.8 337.8h0M157.8 344.1h0M157.9 326.4h0M157.9 319.1h0M158 344.4h0M158.1 302.8h0M158.1 301.6h0M158.2 304.9h0M158.5 345.4h0M158.5 340.2h0M158.6 345.4h0M158.7 299.5h0M158.7 344.9h0M158.8 315.3h0M159.1 344.9h0M159.1 347.4h0M159.2 336.5h0M159.3 302.6h0M159.5 304.1h0M159.5 314.4h0M159.6 348.1h0M159.9 310.2h0M160 326.8h0M160.1 338.6h0M160.4 348.1h0M160.4 348.3h0M160.4 349.4h0M160.5 312.1h0M160.5 348.8h0M160.5 302.6h0M160.6 333.8h0M160.6 303.8h0M160.8 338h0M161 317.2h0M161.1 341.9h0M161.3 304.5h0M161.3 345.5h0M161.4 324.9h0M161.4 347.3h0M161.4 311.9h0M161.4 348.5h0M161.4 346.7h0M161.6 343.3h0M161.7 334.9h0M161.8 316.5h0M161.8 305.5h0M161.9 305.1h0M161.9 338.2h0M161.9 308.3h0M162.1 337.6h0M162.4 319.1h0M162.4 343.9h0M162.5 320.9h0M162.7 321.8h0M162.7 318.3h0M162.7 321.2h0M162.7 333.4h0M163.1 306.3h0M163.5 316.9h0M163.6 310.9h0M163.7 339h0M163.7 307h0M163.8 315.1h0M164.1 307.5h0M164.2 333.5h0M164.4 315.3h0M164.4 331.1h0M164.4 314.3h0M164.7 332.1h0M164.8 325.9h0M164.8 324.8h0M165.1 316.5h0M165.2 325.1h0M165.4 308.2h0M165.4 324.2h0M166.2 315.2h0M166.3 309.1h0M166.4 319.1h0M166.5 316.5h0M166.6 306.6h0M166.8 316.6h0M166.9 315.4h0M167.1 307.5h0M167.5 301.5h0M167.9 299.3h0M168 299.4h0M168.1 312h0M168.1 312.4h0M168.2 302.3h0M168.7 300.8h0M169 311.7h0M169.3 296.9h0M169.5 303h0M169.5 309.4h0M169.5 303.6h0M169.6 293.1h0M169.7 310.7h0M169.8 306h0M169.8 310.3h0M170.1 291.6h0M170.3 293.7h0M170.5 308.2h0M170.8 290.1h0M170.9 310.7h0M171 289.7h0M171.6 309.7h0M171.9 288.4h0M171.9 298.5h0M172 309.6h0M172.4 296.7h0M172.4 289.1h0M172.5 288.8h0M172.7 304.8h0M172.7 292.5h0M173 304.9h0M173 290.3h0M173.2 305.8h0M173.2 293h0M173.5 300.7h0M173.6 308.7h0M173.7 289h0M173.8 289.1h0M174.1 306.3h0M174.2 286h0M174.7 300.3h0M174.8 309.2h0M174.8 308.9h0M174.8 286.6h0M174.9 286.2h0M175.5 298.2h0M175.6 297h0M175.8 284.3h0M176 308.3h0M176.1 290.1h0M176.1 284.6h0M176.1 286.3h0M176.2 299.5h0M176.2 303.4h0M176.3 306.8h0M176.6 303.5h0M176.6 288.4h0M176.8 286.8h0M176.9 283.9h0M177.1 290.2h0M177.4 299.7h0M177.4 286.1h0M177.4 307.7h0M177.6 307.6h0M177.7 307.9h0M177.9 284h0M178 282.4h0M178.4 281h0M178.6 283.3h0M178.7 283.1h0M178.7 307.2h0M178.7 287.1h0M178.8 290.9h0M178.8 280.2h0M179 280.1h0M179 298.6h0M179.3 299.5h0M179.5 291.9h0M179.9 292.1h0M180.1 296.8h0M180.2 288.9h0M180.2 307.4h0M180.2 289.3h0M180.5 291.7h0M180.5 303.8h0M180.5 300.9h0M180.6 279.9h0M180.6 280.3h0M180.7 306.7h0M180.7 278.6h0M181.2 304.1h0M181.2 289.1h0M181.6 278h0M181.7 306.3h0M181.7 295.5h0M181.8 306h0M181.9 305.8h0M181.9 286.1h0M182 294.2h0M182.4 277.2h0M182.7 287.6h0M182.7 302.3h0M182.9 297.5h0M183.1 287.7h0M183.1 300.2h0M183.3 300.3h0M183.3 291.4h0M183.4 285.4h0M183.4 304.7h0M183.5 305.5h0M183.5 281.4h0M183.5 274.8h0M183.6 306.2h0M183.8 273.9h0M183.8 288.3h0M183.8 273.4h0M183.8 306.1h0M184 305.8h0M184 299h0M184 285.4h0M184.3 295.1h0M184.3 286.6h0M184.5 284.4h0M184.5 287.7h0M184.6 297.6h0M184.7 286.4h0M184.7 284.1h0M184.8 306.5h0M184.8 305.9h0M184.8 297.7h0M184.9 280.6h0M185.2 285.9h0M185.2 282.5h0M185.2 301.9h0M185.5 297.7h0M185.7 306.5h0M185.9 284.7h0M186 305.2h0M186.1 311.7h0M186.1 308.4h0M186.1 304.2h0M186.2 292.8h0M186.3 285.7h0M186.3 293.2h0M186.4 298.6h0M186.4 315.8h0M186.4 287.3h0M186.9 321.3h0M186.9 293h0M187.2 323.6h0M187.2 304.8h0M187.2 326.9h0M187.5 299.8h0M187.5 333.9h0M187.5 332.8h0M187.6 314.7h0M188 348.2h0M188 305.1h0M188 347.8h0M188.1 314.4h0M188.1 348.4h0M188.2 348.3h0M188.3 309.6h0M188.4 333.5h0M188.5 314.8h0M188.6 339.8h0M188.7 337.5h0M188.8 347.6h0M188.8 344.8h0M188.8 312.5h0M188.9 348.9h0M189.1 321.3h0M189.2 338.8h0M189.7 316.2h0M189.7 341.7h0M189.8 339.2h0M189.9 327.9h0M189.9 325.3h0M189.9 331.8h0M190.2 351.4h0M190.3 349.7h0M190.3 330h0M190.4 320.4h0M190.5 319.1h0M190.5 331.5h0M190.8 350h0M190.8 320.1h0M191 325.6h0M191.2 327.9h0M191.2 331.6h0M191.2 337.1h0M191.4 352.5h0M191.4 335.3h0M191.4 326.7h0M191.5 346.4h0M191.7 359.1h0M191.7 355.5h0M192 354.4h0M192 325.3h0M192 324.1h0M192.1 343.1h0M192.1 349.4h0M192.2 344.1h0M192.3 339.8h0M192.3 331.6h0M192.5 354.7h0M192.7 325.8h0M192.7 357.3h0M192.8 326.1h0M192.9 327.7h0M192.9 338.1h0M193 327.6h0M193.1 330.7h0M193.2 350.2h0M193.2 327.6h0M193.3 365.9h0M193.4 364.8h0M193.6 332.9h0M193.7 353.8h0M193.7 345h0M193.8 330.5h0M193.8 359.1h0M194 363.9h0M194.3 368.5h0M194.4 341.3h0M194.6 366.7h0M194.7 332.2h0M194.8 370.9h0M194.9 372h0M195 345.9h0M195.1 335.8h0M195.2 333.6h0M195.2 332.3h0M195.7 368.1h0M195.8 333.6h0M196 370.3h0M196.1 378h0M196.1 336.4h0M196.2 337.3h0M196.3 361.9h0M196.3 365.9h0M196.4 334.7h0M196.4 350.5h0M196.5 375.9h0M196.6 335.2h0M196.7 368.6h0M196.7 377.9h0M197.1 350.8h0M197.2 371h0M197.2 339.3h0M197.2 348.4h0M197.2 336.8h0M197.3 335.9h0M197.3 355h0M197.4 353.4h0M197.6 369.5h0M197.7 348.5h0M197.8 340.5h0M197.8 367.9h0M197.9 336.4h0M198 361.2h0M198 336.9h0M198.1 358.3h0M198.1 366.7h0M198.2 342.3h0M198.3 336.6h0M198.4 361h0M198.4 342.6h0M198.5 339.2h0M198.5 364.4h0M198.6 337.2h0M198.7 356.3h0M198.8 338.4h0M199.1 355.9h0M199.2 350.2h0M199.2 348.5h0M199.3 337.6h0M199.3 352.4h0M199.3 335.9h0M199.3 351.4h0M199.4 363.9h0M199.6 336.3h0M199.7 349.6h0M199.7 359.7h0M199.8 344.8h0M199.9 349.1h0M200.1 336.5h0M200.1 343.2h0M200.1 353.1h0M200.1 364.1h0M200.2 356.9h0M200.2 355.3h0M200.4 344.6h0M200.4 341.5h0M200.4 347.6h0M200.5 362.2h0M200.6 335.6h0M200.6 364h0M200.7 358.6h0M200.7 356h0M201.1 336.4h0M201.3 335.3h0M201.3 363.4h0M201.4 348.5h0M201.4 360.5h0M201.4 363.5h0M201.5 357.6h0M201.8 335.1h0M201.9 344.9h0M201.9 354.9h0M202.1 355.8h0M202.1 335.2h0M202.2 361.7h0M202.2 338.7h0M202.2 333.6h0M202.3 360.6h0M202.6 333.9h0M202.7 340h0M202.7 344.6h0M202.8 363.5h0M202.9 333.2h0M202.9 355.7h0M203 362.9h0M203.3 328.8h0M203.6 338.7h0M203.6 347.3h0M203.7 330.7h0M203.8 336h0M204 329.4h0M204.1 343.8h0M204.3 362.9h0M204.6 355.2h0M204.7 349.3h0M204.8 362.6h0M204.8 343.7h0M205 339.1h0M205 356.3h0M205.1 362.3h0M205.3 362.8h0M205.3 334.6h0M205.3 336.5h0M205.5 338.5h0M205.6 336.2h0M205.7 361.6h0M206 352.5h0M206 354.6h0M206.1 362.5h0M206.2 358.8h0M206.2 337.6h0M206.3 347.5h0M206.6 360h0M206.6 338h0M206.8 348.5h0M206.8 357.6h0M206.9 338.3h0M207.1 350.8h0M207.3 361.7h0M207.6 358.7h0M207.7 355h0M207.9 345.2h0M208 361.7h0M208.2 338.9h0M208.4 353.9h0M208.4 350h0M208.4 348.3h0M208.7 360.4h0M208.7 361.3h0M208.8 342.2h0M208.9 354.1h0M209.1 343.5h0M209.4 352h0M209.6 361.2h0M209.7 340.6h0M210 360h0M210 340.4h0M210.2 350h0M210.2 359.5h0M210.3 359.6h0M210.4 360.3h0M210.6 360h0M210.9 353.5h0M211 346.7h0M211.1 355.2h0M211.4 342.5h0M211.9 352.7h0M212.1 354.3h0M212.2 358.8h0M212.3 345.2h0M212.3 344.3h0M212.4 356h0M212.7 346.7h0M212.8 346.5h0M212.9 353.5h0M213.3 352.8h0M213.4 348.6h0M213.5 349h0M213.6 347h0M213.6 346.7h0M213.8 357.9h0M214 363.8h0M214.2 346.1h0M214.3 345.9h0M214.4 353.7h0M214.5 362.3h0M214.6 348.4h0M214.6 356.5h0M214.6 349.5h0M214.7 361.4h0M214.8 363.4h0M215 351.1h0M215.2 362.9h0M215.2 357h0M215.4 363.8h0M215.6 353.3h0M215.8 356.1h0M215.8 346.9h0M216 358.7h0M216.6 348.5h0M216.7 346.1h0M216.8 344.6h0M216.8 351.1h0M217 362.8h0M217 348.6h0M217.4 343.8h0M217.4 347.2h0M217.4 362.9h0M217.4 346.9h0M217.4 359.7h0M217.5 346.2h0M217.6 361.5h0M217.8 348.1h0M217.9 348h0M218 356.7h0M218.2 358.3h0M218.3 359.6h0M218.3 359.9h0M218.4 360.6h0M218.5 349.5h0M218.6 344.7h0M218.7 347h0M219.1 358.1h0M219.3 353h0M219.4 359.6h0M219.6 359.6h0M219.7 342.4h0M219.8 355.4h0M220.1 353.8h0M220.1 343.6h0M220.3 351.8h0M220.4 353.1h0M220.4 342.1h0M220.4 357.1h0M220.5 345.3h0M220.6 355.8h0M220.8 346.1h0M221.1 356h0M221.2 351.7h0M221.5 351.3h0M221.7 341.7h0M221.9 357.3h0M222.1 344.4h0M222.2 348.3h0M222.3 347.2h0M222.6 340.5h0M222.8 338.8h0M222.8 345.5h0M222.8 356.6h0M223 339.7h0M223.1 338.8h0M223.2 339.7h0M223.5 338.9h0M223.6 350.6h0M223.6 345.4h0M223.6 351.7h0M223.7 350.7h0M224.9 356.1h0M225 353h0M225.1 359.9h0M225.1 349.5h0M225.2 355.7h0M225.7 354.6h0M225.7 351.6h0M226.8 353.7h0M227 360.8h0M227.1 354.5h0M227.3 373.8h0M227.3 354.3h0M227.6 371.9h0M227.6 354.8h0M227.6 377.9h0M227.7 367.5h0M227.8 369.4h0M227.9 356.2h0M227.9 376.3h0M228 365.2h0M228.3 359.3h0M228.3 360.1h0M228.4 371.7h0M228.7 365.5h0M228.8 375.6h0M228.9 376.3h0M229 369.1h0M229.3 366.7h0M229.5 356.1h0M229.6 361.7h0M229.7 363.1h0M230 374.7h0M230.1 369.6h0M230.2 372.4h0M230.4 359.1h0M230.6 373.4h0M231 356.8h0M231.2 359.5h0M231.2 364.5h0M231.2 354.3h0M231.2 359h0M231.7 366.4h0M231.9 367h0M232.1 371.9h0M232.2 359.3h0M232.4 355.1h0M232.6 356.1h0M232.9 364.5h0M232.9 363.5h0M232.9 368.7h0M233.9 361.1h0M233.9 353.6h0M234.1 353.8h0M234.1 370.3h0M234.2 370h0M234.5 370.2h0M234.8 370.4h0M234.9 362.1h0M235 353.7h0M235.6 361.6h0M235.8 359.8h0M235.8 366.1h0M235.8 370.3h0M236 367.4h0M236 356.3h0M236.4 365.4h0M236.6 361.3h0M236.6 358.6h0M236.7 364.4h0M236.7 362.3h0M236.9 361.9h0M236.9 372.2h0M237.2 362.3h0M237.2 364.4h0M237.4 359.7h0M237.4 373.4h0M237.5 374.1h0M237.6 360h0M237.7 366.8h0M237.7 372.7h0M237.9 365h0M238 375.5h0M238 371.7h0M238.3 367.2h0M238.5 370.4h0M238.5 374.7h0M238.6 364.3h0M239.3 366.9h0M239.4 377.2h0M239.7 373.8h0M239.8 370.6h0M239.9 364.4h0M240.8 365.5h0M240.8 367.5h0M240.9 366.9h0M241.2 383h0M241.3 365h0M241.5 386.5h0M241.7 364.5h0M242.1 387.3h0M242.2 364.8h0M242.2 364.6h0M242.6 387h0M242.7 370.7h0M242.7 384.5h0M242.8 375.8h0M242.8 367.3h0M242.9 380.4h0M243.1 365h0M243.2 367.7h0M243.4 383.1h0M243.6 363.4h0M243.9 371h0M244 371.2h0M244.1 382.1h0M244.2 364.4h0M244.3 376.2h0M244.3 384.9h0M244.4 373.4h0M244.5 363h0M244.7 383.9h0M244.7 384.9h0M244.8 368.1h0M244.8 383.8h0M244.9 384.4h0M244.9 361.3h0M245 378.3h0M245.1 365.1h0M245.1 362.9h0M245.3 360h0M245.5 385.1h0M245.5 373.4h0M245.5 383.4h0M245.6 376.6h0M245.6 378h0M245.6 362.2h0M245.7 385.2h0M245.9 362.8h0M246.6 361.8h0M246.6 382.1h0M246.8 364.7h0M246.9 381.2h0M247 371.9h0M247.1 385.4h0M247.2 373.6h0M247.4 366.5h0M248.1 384.6h0M248.9 387.2h0M249.1 371.6h0M249.1 387.5h0M249.1 387.4h0M249.4 387.6h0M249.5 381.3h0M249.6 374.4h0M249.8 388.2h0M249.9 380.1h0M250 369.8h0M250.2 385.6h0M250.3 385.2h0M250.4 375h0M250.4 384.2h0M250.6 378.4h0M250.7 380h0M250.7 387.3h0M250.9 375.3h0M250.9 382h0M250.9 369.5h0M250.9 382.6h0M251 371.9h0M251.3 378.5h0M251.4 386.8h0M251.6 381.6h0M252 382.5h0M252.1 385.3h0M252.1 385.8h0M252.5 371.1h0M252.6 385.6h0M252.7 371h0M252.7 385h0M252.7 373.4h0M252.8 385.4h0M252.8 385.2h0M252.9 384.2h0M253.1 385.4h0M253.3 372.6h0M253.4 370.8h0M253.4 378.5h0M253.5 384.1h0M253.7 378.9h0M253.8 369.6h0M253.8 376.3h0M254.2 380.4h0M254.7 371h0M254.7 370.2h0M254.9 379.2h0M255 377.9h0M255.3 373.4h0M255.4 382.5h0M255.7 382.1h0M255.8 369.5h0M255.8 381.9h0M256 373h0M256.1 368.8h0M256.3 375.1h0M256.3 378.6h0M257.2 368.2h0M257.4 375.5h0M257.8 378.7h0M257.9 367.1h0M258.3 368.4h0M258.8 366.9h0M258.9 371.2h0M258.9 366.7h0M258.9 368.4h0M259.3 375.6h0M259.9 369.8h0M260.1 362.4h0M260.3 365.2h0M260.6 359.8h0M260.6 362.1h0M260.8 361.7h0M261.1 361.8h0M261.1 365.5h0M261.1 362.1h0M261.6 357.7h0M261.6 367.4h0M261.7 367.9h0M261.8 362h0M261.9 357.5h0M262.1 353.4h0M262.1 350.3h0M262.4 365.5h0M263 362.1h0M263.1 344.5h0M263.2 351.1h0M263.4 354.8h0M263.5 357.8h0M264.2 346.1h0M264.3 347h0M264.5 351.5h0M264.8 339.3h0M264.8 361.4h0M265 360.4h0M265.1 355h0M265.2 348.8h0M265.5 360.3h0M265.7 349.1h0M266.1 358.9h0M266.1 343.1h0M266.1 356.9h0M266.2 358.4h0M266.5 352.9h0M266.6 356.3h0M266.6 355.2h0M266.8 336.7h0M267.1 344.8h0M267.5 344h0M267.5 350.3h0M267.8 354.3h0M267.8 337.1h0M267.8 346.6h0M268.2 339h0M268.3 348.3h0M268.3 352.3h0M268.5 333.5h0M268.7 331.5h0M268.7 333.7h0M269 338.6h0M269.2 335.5h0M269.2 349.9h0M269.3 350.8h0M269.4 329.3h0M269.6 337h0M270 346.5h0M270 344.6h0M270.1 341.6h0M270.1 328.4h0M270.3 329.9h0M270.4 348.2h0M270.8 347.5h0M270.9 327.5h0M271.2 327.6h0M271.2 345.5h0M271.2 327.9h0M271.3 336.6h0M271.4 347.3h0M271.6 343.5h0M271.7 340.4h0M271.7 326.9h0M271.8 327.5h0M271.8 329.6h0M272 346.3h0M272 333.9h0M272.2 336.2h0M272.3 327h0M272.3 337.6h0M272.5 341.3h0M272.5 346h0M272.9 332.5h0M272.9 338.8h0M272.9 325.7h0M273 347.7h0M273.3 325.7h0M273.4 344.8h0M273.5 348.3h0M273.7 343.2h0M273.7 348.5h0M273.7 342h0M274.1 340.3h0M274.1 346.1h0M274.2 335.2h0M274.2 330.8h0M274.3 344.4h0M274.3 346.5h0M274.7 348.6h0M275 331.6h0M275.6 333.8h0M275.6 350.6h0M275.7 335.2h0M275.9 338.7h0M276.2 337.8h0M276.4 338.4h0M276.5 350.4h0M276.7 347.6h0M276.7 341.5h0M276.9 349.4h0M276.9 336.9h0M277.6 350.7h0M277.7 339.8h0M278 342.5h0M278.4 345.1h0M278.4 355.7h0M278.6 353h0M278.6 347h0M278.7 356h0M278.9 353.1h0M279.6 348.4h0M279.6 347.9h0M279.7 358.1h0M279.8 352.8h0M280.3 359.2h0M280.3 358.8h0M280.3 358.6h0M280.4 350.2h0M281.2 355.3h0M281.4 356.9h0M281.9 361.5h0M282 360.1h0M282 353.1h0M282 356h0M282.3 357.2h0M282.3 361.7h0M282.3 360.4h0M282.4 353h0M282.5 360h0M282.6 356.9h0M282.7 352.9h0M282.8 361.6h0M282.9 357.7h0M283 356.2h0M283.2 352.9h0M283.2 354.1h0M283.3 357.9h0M283.4 363.5h0M283.7 353.7h0M284.2 353.8h0M284.7 361.2h0M284.8 352.8h0M285.2 359.8h0M285.4 351.9h0M285.7 357.2h0M285.9 351.3h0M286.1 361.5h0M286.5 351.9h0M286.7 360.8h0M286.8 351.2h0M287.9 355.4h0M288.1 348.9h0M288.2 349.1h0M288.4 349.1h0M288.5 348.9h0M289.2 359.8h0M289.2 348h0M289.5 350.4h0M289.8 352.8h0M290.1 349.9h0M290.3 344.7h0M290.3 348.2h0M290.5 348.1h0M290.8 344.3h0M290.8 357.2h0M291 358.7h0M291.1 349.1h0M291.1 358.8h0M291.3 343.8h0M291.4 348h0M291.6 349.5h0M291.7 351.3h0M291.7 356.3h0M291.8 350.3h0M291.9 353.5h0M292 353.1h0M292.3 349.6h0M292.7 358.3h0M292.7 355.5h0M293.4 355.1h0M293.4 355.6h0M293.7 359.5h0M293.8 352.3h0M293.8 353.4h0M294.2 353.9h0M294.2 359.7h0M294.4 353.2h0M295 356.8h0M295.5 359.9h0M297 357.1h0M297.1 366.5h0M297.1 365h0M297.3 366.4h0M297.4 364.7h0M297.5 366.3h0M297.6 355.6h0M297.8 365.8h0M298 356.4h0M298.4 357.2h0M298.7 354.8h0M298.9 355.4h0M298.9 359.9h0M299.5 364h0M299.7 364.6h0M299.7 359.4h0M299.8 356.8h0M300.4 354.7h0M300.6 352.1h0M301.1 363h0M301.3 352h0M301.4 351.5h0M301.5 351.8h0M301.5 358.5h0M302.2 351h0M302.2 361.1h0M302.3 350.9h0M302.8 361.4h0M302.8 359.2h0M303 360.5h0M303.4 356.7h0M303.6 360.7h0M303.6 357.8h0M303.7 355.2h0M303.8 360.7h0M303.8 352.1h0M304 359.5h0M304.2 350.2h0M304.6 348.6h0M304.6 354.3h0M304.8 348.5h0M304.9 352.2h0M305.2 348.8h0M305.2 356.7h0M305.3 354.7h0M305.5 353.2h0M305.6 350h0M305.9 344h0M306 347.9h0M306.2 347.7h0M306.4 346.8h0M306.4 347.9h0M306.4 347.2h0M306.6 345h0M307.5 338.2h0M307.7 337.9h0M308.5 331.7h0M308.6 328.1h0M309.1 328.2h0M309.2 316.7h0M309.3 316.7h0M309.5 314.6h0M309.5 316.2h0M309.8 318.5h0M309.8 329.5h0M310 311.8h0M310.3 313.6h0M310.3 308.4h0M310.7 308.4h0M310.7 310.6h0M310.8 306h0M311 307.2h0M311.2 317.7h0M311.2 297.4h0M311.3 306.3h0M311.5 291.9h0M311.6 298.8h0M311.6 290.3h0M312 287.5h0M312 297.7h0M312.2 281.1h0M312.3 298.6h0M312.3 291.1h0M312.4 291.3h0M312.4 291.1h0M312.4 290.1h0M312.6 286h0M313 282.2h0M313.1 275h0M313.3 270.1h0M313.9 281.5h0M314.1 277.1h0M314.3 272.8h0M314.8 253.5h0M314.8 261.2h0M314.9 256.9h0M314.9 274.1h0M315 249.3h0M315 249h0M315.1 274.7h0M315.1 247.5h0M315.2 261.5h0M315.5 252.8h0M315.6 258.4h0M315.6 254.3h0M316 269.4h0M316 239.5h0M316.2 260h0M316.2 251.5h0M316.4 266.8h0M316.5 257.9h0M316.5 245.9h0M316.5 237h0M316.7 255.3h0M316.7 268.2h0M317 268.1h0M317.5 258.6h0M317.6 265.7h0M317.7 240.9h0M317.7 250.5h0M317.7 242.2h0M317.8 232.9h0M317.9 237.7h0M317.9 237.6h0M318 246.6h0M318 244.9h0M318.2 230.1h0M318.2 247.2h0M318.3 263.2h0M318.4 248.1h0M318.5 263.8h0M318.8 250.9h0M318.8 262h0M318.8 233.3h0M318.9 261.3h0M319 259.8h0M319.1 260.4h0M319.2 255.3h0M319.2 245.1h0M319.3 242.3h0M319.4 231.2h0M319.5 231.1h0M319.5 237.4h0M319.6 252.3h0M319.6 252.3h0M319.7 239.9h0M319.8 231.4h0M319.9 236.5h0M319.9 251.3h0M319.9 252.3h0M320.1 250.4h0M320.1 242.9h0M320.1 230.8h0M320.2 247.8h0M320.3 230.9h0M320.7 235.9h0M320.7 252.5h0M321 230.4h0M321.7 243.1h0M322.2 242.2h0M322.2 238.6h0M322.3 238.9h0M322.6 243.2h0M322.6 221.7h0M323 209.5h0M323 229.1h0M323.1 224.4h0M323.3 225.5h0M323.4 226.6h0M323.6 206h0M323.6 200.6h0M323.7 220.6h0M323.8 225.4h0M323.8 197.2h0M323.9 195.1h0M324 240h0M324.1 199.9h0M324.1 240.4h0M324.1 190.9h0M324.3 231.7h0M324.6 214.2h0M324.8 203.1h0M324.9 206.9h0M324.9 228.3h0M324.9 238.2h0M324.9 222.8h0M325 193.7h0M325 191.3h0M325.1 202h0M325.1 213.5h0M325.2 237.9h0M325.3 218.5h0M325.3 234.9h0M325.3 200.4h0M325.4 199.7h0M325.4 208.9h0M325.4 218.8h0M325.5 189.9h0M325.6 229.2h0M325.8 202.8h0M325.9 197.9h0M326 233.1h0M326 237.5h0M326.1 228h0M326.2 207.2h0M326.4 227.2h0M326.6 231.5h0M326.8 225h0M326.8 237.2h0M327 234.4h0M327 208.4h0M327.1 233h0M327.1 213.8h0M327.3 235.7h0M327.3 223.1h0M327.9 214.1h0M327.9 208.7h0M328.1 221.3h0M328.2 233.6h0M328.3 237.5h0M328.4 208.8h0M328.6 238h0M328.7 223.8h0M328.8 238.7h0M329 226.8h0M329.1 210.2h0M329.1 211.9h0M329.1 211h0M329.2 240h0M329.2 240.9h0M329.2 215.8h0M329.2 227.1h0M329.4 213.5h0M329.4 211h0M329.4 208.6h0M329.4 243.2h0M329.5 246.3h0M329.7 247.5h0M329.8 208.7h0M330.2 210h0M330.2 272h0M330.3 253.5h0M330.6 272.2h0M330.6 213.4h0M330.9 209h0M331.2 223.8h0M331.4 210.9h0M331.5 222.5h0M331.5 238.2h0M331.6 207.3h0M331.6 243.5h0M332 218.3h0M332 225.5h0M332.1 236.3h0M332.2 217.5h0M332.2 238h0M332.3 240.5h0M332.8 209h0M332.9 216h0M332.9 239.8h0M333 211.3h0M333.1 229.2h0M333.1 238.1h0M333.3 238.9h0M333.3 221.2h0M333.4 227h0M333.4 206.1h0M333.5 239.1h0M333.5 233.4h0M333.5 206.6h0M333.6 230.2h0M333.9 233.3h0M333.9 223.9h0M334.1 223.5h0M334.2 234.6h0M334.2 208.9h0M334.3 220.2h0M334.3 213h0M334.5 208.5h0M334.5 238.9h0M334.6 232.2h0M334.7 207.2h0M334.8 237.5h0M334.8 226.9h0M335.1 238h0M335.1 237.9h0M335.1 232.2h0M335.2 219.4h0M335.5 211.4h0M335.7 232.6h0M335.8 231.7h0M335.8 211.2h0M336 216.3h0M336.1 216.8h0M336.2 227.5h0M336.2 229.3h0M336.3 213.2h0M336.5 216.6h0M336.5 237.5h0M336.6 228.7h0M336.7 223.9h0M336.7 222.7h0M337 220.1h0M337.1 218.9h0M337.3 231.6h0M337.3 231.6h0M337.4 228.7h0M337.5 216.7h0M337.7 217.9h0M337.8 234.9h0M338.1 236.1h0M338.3 219.4h0M338.6 219.3h0M339.1 221.6h0M339.4 224.3h0M339.4 237.7h0M339.6 222.3h0M339.6 236.2h0M339.6 228.3h0M339.8 232.9h0M340 238.2h0M340.1 238.1h0M340.6 236.9h0M341.2 230.3h0M341.7 241.8h0M341.8 238.6h0M341.8 226.3h0M342.1 243.9h0M342.3 245.2h0M342.4 232h0M342.5 230.7h0M342.5 245.3h0M342.6 234.7h0M342.8 229.1h0M342.8 243.6h0M342.9 231.2h0M343.1 226.7h0M343.2 235.3h0M343.3 240h0M343.5 236.6h0M343.5 226.7h0M343.7 241.6h0M343.7 246.7h0M343.8 240.4h0M343.9 242.6h0M344 241h0M344.6 227.1h0M344.7 239.4h0M344.7 249.5h0M344.8 231.4h0M344.8 250.2h0M344.9 247.3h0M345 226.4h0M345 225.8h0M345.5 224.7h0M345.8 230.1h0M345.9 226.9h0M346 244.6h0M346.1 247.4h0M346.3 224.8h0M346.4 251.8h0M346.6 223.4h0M346.7 224.7h0M346.8 247.5h0M346.8 239.6h0M346.9 243.7h0M346.9 234.5h0M347.1 238.4h0M347.2 242.8h0M347.4 223.6h0M347.4 230.8h0M347.7 221.6h0M347.7 235.4h0M347.7 227.1h0M347.8 225.8h0M348 229.4h0M348.2 234.1h0M348.2 239.8h0M348.3 235.8h0M348.5 239.1h0M348.9 222.3h0M349.2 219.1h0M349.2 213.3h0M349.2 207.7h0M349.3 230.9h0M349.4 221h0M349.5 206.3h0M349.7 221.9h0M349.8 209.4h0M350 200.2h0M350 216.2h0M350.2 207.7h0M350.3 210.9h0M350.4 195.2h0M350.5 203.8h0M350.6 188.7h0M350.6 199.8h0M351 196h0M351.1 183.8h0M351.7 182h0M351.8 181.8h0M352 188.8h0M352.1 188.8h0M352.2 186h0M352.4 182.1h0M352.5 181.3h0M352.9 183.7h0M353 188.8h0M353 181.6h0M353.2 188h0M353.6 180.5h0M353.8 180.8h0M354 180h0M354.3 188.4h0M354.4 169.1h0M354.5 187.8h0M354.8 162.3h0M355.1 182.3h0M355.2 182.8h0M355.4 158.1h0M355.4 171.5h0M355.4 159.8h0M355.6 169.5h0M355.8 157.1h0M355.8 161.2h0M355.8 187.4h0M356.1 179.1h0M356.2 163.7h0M356.2 178.8h0M356.2 167.1h0M356.4 182.4h0M356.4 155.3h0M356.5 169.6h0M356.7 179.1h0M356.8 171.5h0M356.9 165.4h0M357 187.3h0M357 155.5h0M357 185.4h0M357 164.6h0M357.2 158.4h0M357.2 184.6h0M357.2 168.4h0M357.3 162.6h0M357.3 157.9h0M357.3 186.5h0M357.4 159.9h0M357.7 178.5h0M357.7 183.9h0M357.7 186.8h0M357.9 173.2h0M358 187.2h0M358.1 167.9h0M358.2 174.3h0M358.4 163.8h0M358.5 171.4h0M358.5 186.6h0M358.7 180.9h0M358.9 185.2h0M359.5 183.9h0M359.6 187.2h0M359.9 185.3h0M360.1 185.8h0M360.2 178.5h0M360.8 173h0M360.8 183.8h0M360.8 181.3h0M361.1 189.8h0M361.4 182.8h0M361.6 190.4h0M362 179.6h0M362.3 193.4h0M362.5 179.6h0M362.7 182.4h0M362.7 191.7h0M362.8 184.4h0M363 195.2h0M363 190.1h0M363.4 181.5h0M363.5 186.4h0M363.7 198h0M363.9 182.5h0M364.1 197.7h0M364.1 188.8h0M364.1 195.2h0M364.3 207.2h0M364.3 187.4h0M364.5 197.6h0M364.5 200.8h0M364.6 210.6h0M364.6 210.2h0M364.9 182.9h0M365 207.4h0M365 211.7h0M365 212.3h0M365.1 193.7h0M365.1 191.3h0M365.2 213.1h0M365.2 188.5h0M365.2 184.8h0M365.3 194.4h0M365.3 216h0M365.4 194.3h0M365.7 198.1h0M365.8 198h0M365.9 195.6h0M365.9 216.4h0M366 184.3h0M366.2 212.2h0M366.2 214.9h0M366.2 186.9h0M366.4 198.3h0M366.5 187.7h0M366.6 203.8h0M366.7 188.1h0M366.7 218.8h0M367 184.6h0M367 198.1h0M367.3 205.4h0M367.4 184.7h0M367.4 187.8h0M367.5 209.3h0M367.6 185.4h0M367.6 201.7h0M367.6 197.3h0M367.6 185.4h0M367.8 187.3h0M368 195.1h0M368 217.9h0M368 185.5h0M368.3 203.3h0M368.3 217.1h0M368.3 217.8h0M368.4 185.8h0M368.5 195.9h0M368.5 184.6h0M368.7 190.7h0M368.8 186h0M368.9 204.2h0M368.9 199.7h0M368.9 184.3h0M369 184.2h0M369 190.9h0M369.1 209.3h0M369.3 198.9h0M369.4 208.8h0M369.4 196.6h0M370 183.2h0M370.2 200h0M370.3 194.9h0M370.3 202.3h0M370.4 192.8h0M370.4 189.6h0M370.7 178.4h0M370.8 190.8h0M370.9 205.9h0M371.1 177.2h0M371.1 184.9h0M371.1 176.7h0M371.2 208.5h0M371.2 201.5h0M371.4 198.6h0M371.5 192.4h0M371.5 207.3h0M371.6 180h0M371.7 174.1h0M371.7 188.8h0M371.9 173.6h0M371.9 174.4h0M372 185h0M372 206.9h0M372.6 179.8h0M372.7 207.6h0M373 170.7h0M373 206.7h0M373 199.7h0M373 200.7h0M373.1 169.4h0M373.1 174h0M373.3 182.8h0M373.3 175.3h0M373.6 177.8h0M374.1 170.6h0M374.2 190.3h0M374.2 194.8h0M374.3 205.3h0M374.6 171h0M374.6 202.8h0M374.7 181.3h0M374.7 197.3h0M374.7 195.5h0M374.9 203.2h0M374.9 181.9h0M375 171.4h0M375 207.6h0M375.2 207.4h0M375.3 172.1h0M375.8 195.9h0M375.8 172.4h0M375.9 176.7h0M376 194.2h0M376.1 202h0M376.2 207.9h0M376.4 173.6h0M376.7 196.3h0M376.7 208.3h0M376.7 200.7h0M376.8 207.8h0M376.8 177h0M376.9 182.1h0M376.9 186h0M377.4 208.5h0M377.5 185.4h0M377.6 177.6h0M377.7 187.8h0M377.7 185.4h0M377.8 184.5h0M377.9 181.1h0M378 188.1h0M378.3 204.4h0M378.4 196.7h0M378.4 178h0M378.5 204.2h0M378.7 200.6h0M378.8 197.2h0M379.1 204.7h0M379.2 209.8h0M379.2 204.4h0M379.3 202.5h0M379.4 210.1h0M379.6 207.8h0M379.7 207.8h0M379.7 191.8h0M379.8 211.2h0M379.8 187.1h0M379.9 183.5h0M380.1 184.8h0M380.2 191.9h0M380.3 210.8h0M380.4 216.5h0M380.4 208.7h0M380.4 188.5h0M380.4 201.9h0M380.5 190.7h0M380.5 217.5h0M380.5 195.6h0M380.5 216.1h0M380.6 217.7h0M380.7 219.4h0M380.9 218.9h0M380.9 208.2h0M381.1 202.1h0M381.1 193.4h0M381.1 195.3h0M381.2 186.2h0M381.2 211.5h0M381.2 205.9h0M381.3 199.3h0M381.3 212.2h0M381.4 226.9h0M382 231.6h0M382.2 191.6h0M382.2 229.1h0M382.5 218.5h0M382.6 202h0M382.8 208h0M382.8 198.2h0M382.9 225.8h0M382.9 238.8h0M383 230.7h0M383 234.8h0M383 209.1h0M383.1 231.4h0M383.1 202.8h0M383.1 237.6h0M383.2 208h0M383.3 241.8h0M383.5 210h0M383.5 230.7h0M383.6 206.7h0M383.6 207h0M383.8 218.7h0M383.9 219.3h0M384 236.7h0M384.1 235.2h0M384.1 243.3h0M384.2 213h0M384.3 215.1h0M384.4 247.8h0M384.5 237.7h0M384.5 239.2h0M384.6 216.2h0M384.7 214.3h0M384.9 235.5h0M384.9 266.7h0M385 235.5h0M385 214.4h0M385.2 255.5h0M385.3 215.7h0M385.4 266.6h0M385.4 238.3h0M385.4 239.2h0M385.4 259.5h0M385.5 259.3h0M385.6 215.3h0M385.6 254.1h0M385.9 251.6h0M386.1 216.1h0M386.1 225.9h0M386.2 237.7h0M386.2 243.5h0M386.3 227.8h0M386.3 221.2h0M386.3 237.3h0M386.5 250h0M386.5 242h0M386.6 225.9h0M386.7 249.3h0M386.8 217.6h0M386.9 218.1h0M386.9 249h0M387 223.7h0M387.1 232.6h0M387.2 218.4h0M387.3 233.2h0M387.3 218.4h0M387.4 218.2h0M387.6 234.9h0M387.7 220.6h0M387.7 228.4h0M387.8 218.8h0M387.9 235.6h0M387.9 219h0M387.9 233.9h0M387.9 232.5h0M388 242.5h0M388.2 241.6h0M388.3 243.1h0M388.4 244h0M388.6 221.3h0M388.7 240.3h0M388.7 244.6h0M388.8 237.8h0M388.9 226h0M388.9 240.9h0M389.2 229.4h0M389.2 220.8h0M389.3 233.6h0M389.4 224.2h0M389.4 227h0M389.6 220.8h0M389.7 223.6h0M389.7 220.8h0M389.8 221.4h0M390 244.1h0M390 243.8h0M390 240.8h0M390 237.1h0M390.7 239.7h0M390.7 241.9h0M390.7 223.1h0M390.7 231.8h0M391.2 242.4h0M391.3 242.9h0M391.3 244.7h0M391.3 228.1h0M391.4 244.5h0M391.5 219.7h0M391.8 244.7h0M392.1 227.4h0M392.3 219h0M392.4 225.1h0M392.7 228.8h0M392.9 227.5h0M392.9 246.1h0M393.1 235.7h0M393.2 227.5h0M393.2 245.6h0M393.3 223h0M393.3 233.9h0M394 246.8h0M394 237.2h0M394.2 233.5h0M394.4 246.2h0M394.4 245.6h0M394.5 227.7h0M394.5 241.4h0M394.9 235.6h0M395.2 226.8h0M395.2 247.9h0M395.2 217.6h0M395.4 227h0M395.5 215.7h0M395.7 216.2h0M395.9 218.6h0M395.9 240.4h0M395.9 248.8h0M396.1 238h0M396.3 248.1h0M396.6 237.2h0M396.6 249.8h0M396.6 236.6h0M396.6 236.6h0M396.7 244.4h0M396.8 251.1h0M396.8 251.1h0M396.8 251.7h0M397.2 221.1h0M397.4 223.7h0M397.4 240.6h0M397.5 215.3h0M397.5 246.5h0M397.6 240.2h0M397.8 215.9h0M398 254.6h0M398.2 249.4h0M398.4 253.2h0M398.5 257.2h0M398.5 256.7h0M398.7 251.7h0M398.8 217.3h0M398.9 253h0M398.9 221.6h0M399.1 258.1h0M399.3 221.8h0M399.4 259.6h0M399.7 224.4h0M400 249.5h0M400.1 240.7h0M400.2 237.4h0M400.2 229.1h0M400.3 243.4h0M400.4 227.6h0M400.4 236.6h0M400.5 224.5h0M400.5 240.7h0M400.6 226.5h0M400.7 270.7h0M401 272.2h0M401.1 229.6h0M401.2 241.9h0M401.2 235.6h0M401.3 235.3h0M401.3 275.5h0M401.3 267h0M401.4 278.9h0M401.6 253.8h0M401.8 257.2h0M401.8 277.4h0M401.9 274.4h0M402.1 238.5h0M402.4 240.9h0M402.5 254h0M402.6 263.8h0M402.7 243.4h0M402.7 286.4h0M402.7 262.2h0M402.8 247.3h0M402.8 267.7h0M402.9 282.6h0M403.1 246.5h0M403.3 298.9h0M403.4 265.3h0M403.8 297.5h0M403.8 256.9h0M403.8 283.9h0M403.9 292.7h0M404.1 288.5h0M404.1 252.5h0M404.2 281.6h0M404.3 284h0M404.3 264.4h0M404.4 278.6h0M404.5 304.1h0M404.5 286.6h0M404.6 254.3h0M404.8 255h0M404.8 304.1h0M405 255.8h0M405 305.6h0M405.1 273.6h0M405.1 259h0M405.3 284.2h0M405.3 284.4h0M405.4 301.1h0M405.4 258.3h0M405.4 259.3h0M405.5 285.9h0M405.7 282.3h0M405.9 264.8h0M406 282.3h0M406 261.2h0M406.1 308.3h0M406.2 291.1h0M406.3 309h0M406.4 283.4h0M406.4 301.6h0M406.6 309.3h0M406.6 300.9h0M406.6 273.6h0M406.7 294.5h0M407.1 295.6h0M407.1 286.3h0M407.3 290.2h0M407.4 309h0M407.4 310h0M407.5 311.7h0M407.5 311.6h0M407.7 311.1h0M407.7 296.9h0M407.8 304.4h0M407.8 308.9h0M407.9 289.9h0M408 299h0M408.1 304.3h0M408.7 305h0M408.7 313h0M408.8 308.6h0M408.9 292.8h0M409.2 294.1h0M409.3 296.9h0M409.5 295.6h0M409.6 316.3h0M409.6 299.8h0M409.7 303.3h0M409.8 315.3h0M410.4 311.8h0M410.5 322.6h0M410.6 317.6h0M411 314.5h0M411.1 318h0M411.4 314.5h0M411.7 318.8h0M411.8 321.1h0M412 322.7h0M412.3 337.6h0M412.4 339.8h0M412.4 330.3h0M412.8 349.5h0M413.2 360.5h0M413.2 384h0M413.4 369.1h0M413.4 368.3h0M413.6 384.9h0M413.7 368.1h0M413.9 341h0M414 363h0M414.1 385.3h0M414.2 358h0M414.2 373.6h0M414.4 377.5h0M414.5 342.8h0M414.5 344.5h0M414.7 342.7h0M414.8 376.2h0M414.8 357.6h0M414.8 354.8h0M414.9 357.5h0M415 342.6h0M415 370.4h0M415.1 373.5h0M415.1 343.3h0M415.1 346.6h0M415.2 389.9h0M415.4 387.7h0M415.5 343.9h0M415.6 362.8h0M415.7 356.5h0M415.7 390.2h0M415.7 369.9h0M415.7 357h0M415.8 390.3h0M415.8 344.1h0M415.8 372.5h0M415.8 356.1h0M415.8 374.6h0M415.9 376h0M416 368.9h0M416 369.2h0M416.1 389.6h0M416.2 352.6h0M416.4 366.5h0M416.6 363.7h0M416.9 381.7h0M416.9 343.4h0M417 344.5h0M417.1 347.8h0M417.1 382.1h0M417.2 359.9h0M417.3 383.1h0M417.3 377.4h0M417.3 383.6h0M417.3 357.2h0M417.3 358h0M417.4 356.6h0M417.5 365.7h0M417.7 369.6h0M417.7 363.2h0M417.8 358.7h0M417.9 379.6h0M418 364.8h0M418 344.2h0M418.1 371.6h0M418.2 379.9h0M418.3 366.4h0M418.6 349.6h0M418.7 348h0M418.7 368.9h0M418.7 353.9h0M418.8 347h0M418.8 377.1h0M419 358.6h0M419 360.9h0M419.1 375.4h0M419.3 365.4h0M419.4 358.7h0M419.4 343.2h0M419.7 363.6h0M419.7 343.7h0M419.8 343.1h0M419.8 361.8h0M419.9 343.8h0M420.3 353.6h0M420.3 355.4h0M420.4 350.7h0M420.5 366.4h0M420.6 368h0M420.6 343h0M420.9 367.1h0M420.9 357.3h0M421 361.3h0M421 364.4h0M421.1 347.2h0M421.2 351.5h0M421.2 348h0M421.8 349.9h0M421.8 341.5h0M421.9 354.4h0M422 361.9h0M422 366.3h0M422.2 365.7h0M422.2 341.1h0M422.2 341.4h0M422.5 351.3h0M422.6 363.9h0M423.1 362.5h0M423.1 340.2h0M423.4 345h0M423.8 339.7h0M423.8 364.6h0M423.8 360.8h0M424 344.2h0M424.6 362.6h0M424.7 359.6h0M424.9 339.6h0M425 339h0M425 353.8h0M425.3 363.1h0M425.3 342.2h0M425.3 353.5h0M425.4 363.5h0M425.4 339.2h0M425.8 340.7h0M425.9 358.3h0M425.9 363h0M425.9 362.9h0M426.1 339.6h0M426.2 339h0M426.2 357h0M426.2 345.7h0M426.3 362.8h0M426.3 362.1h0M426.4 342.9h0M426.7 352.2h0M426.7 362.8h0M426.8 350.3h0M426.9 359.8h0M427 339.1h0M427.3 348h0M427.4 362.3h0M427.5 348.6h0M427.7 349.2h0M428.1 343.9h0M428.4 349.3h0M428.4 338.9h0M428.5 346.4h0M428.5 352.6h0M428.5 354.8h0M428.7 361.6h0M428.8 351.2h0M428.8 361.7h0M428.8 339h0M429.3 343.7h0M429.3 358.6h0M429.4 354.6h0M429.4 348.1h0M429.4 344.7h0M429.7 346.5h0M429.7 343.7h0M429.7 359.5h0M429.8 338.9h0M430.2 358.9h0M430.4 349.1h0M430.4 358.9h0M430.6 339.4h0M431 358.2h0M431.3 319.5h0M431.4 336.9h0M431.5 344.1h0M431.6 322.2h0M431.8 347.6h0M431.8 320h0M432.1 326.2h0M432.1 356.1h0M432.2 357h0M432.3 318h0M432.4 345.4h0M432.4 349.8h0M432.5 343.5h0M432.6 323.5h0M432.7 339.5h0M432.8 318.2h0M433.1 344.5h0M433.2 319.1h0M433.3 317.7h0M433.4 355.8h0M433.5 353.1h0M433.5 353.7h0M433.7 326.5h0M433.7 343.1h0M433.7 324.9h0M433.8 329.2h0M433.9 354.8h0M433.9 339.1h0M433.9 350.6h0M434 344.8h0M434 354.9h0M434.1 319.2h0M434.4 318.9h0M434.8 335.7h0M434.9 353.4h0M435.1 324.8h0M435.2 342.6h0M435.2 349.8h0M435.4 328.6h0M435.6 338.9h0M435.7 348.7h0M435.8 349.7h0M435.9 326.9h0M436 337.8h0M436 349.3h0M436.6 346h0M436.8 346.8h0M436.9 344.4h0M437.1 348.7h0M437.2 327.5h0M437.3 326.5h0M437.3 335.8h0M437.4 348.5h0M437.6 329.1h0M437.6 341.2h0M437.8 328.1h0M437.8 345.7h0M438 345.4h0M438.1 348.4h0M438.2 347.3h0M438.2 346.1h0M438.3 338.5h0M438.3 348.3h0M438.4 341.5h0M438.4 344.3h0M438.7 347.2h0M438.9 345.5h0M438.9 334.7h0M439.2 334.8h0M439.3 340.9h0M439.3 334h0M439.4 338.8h0M439.4 338.9h0M439.5 329.7h0M439.7 330.5h0M440 336.8h0M440.1 327.7h0M440.3 328.3h0M440.6 332.2h0M440.7 345.5h0M441 331.5h0M441.2 333h0M441.2 339.3h0M441.3 332.1h0M441.3 331h0M441.4 342.3h0M441.5 336.3h0M441.6 345.1h0M441.7 334.8h0M441.8 343.2h0M441.9 326.3h0M442 343.4h0M442.3 331.2h0M442.3 331.4h0M442.3 325.2h0M442.4 336.7h0M443.2 337.6h0M443.3 344h0M443.3 336.5h0M443.4 335.4h0M443.4 341.3h0M443.5 326.9h0M443.7 344.6h0M443.8 343.4h0M443.9 336.3h0M443.9 343.7h0M444.3 325.4h0M444.5 338.6h0M445 335.8h0M445.2 325.9h0M445.4 336.8h0M445.5 332h0M445.5 338.6h0M445.8 343.8h0M445.9 344h0M446 342.4h0M446.2 335.8h0M446.4 333.5h0M446.5 343.7h0M446.5 343.7h0M446.7 343.5h0M446.9 325.4h0M446.9 328.6h0M447 336.4h0M447.2 325.1h0M447.2 340.1h0M447.4 341.9h0M447.5 327.8h0M447.5 344.9h0M447.6 338.3h0M447.7 331.7h0M447.9 341.5h0M448.1 345.6h0M448.2 333.8h0M448.6 338.2h0M448.6 314.2h0M448.8 312.7h0M448.9 313.9h0M448.9 330.7h0M449 322.9h0M449.4 303.6h0M449.4 315.2h0M449.6 338.8h0M449.7 328h0M449.8 341.7h0M449.9 342.5h0M449.9 343.6h0M449.9 320.5h0M449.9 347.9h0M449.9 319.4h0M450.1 327.4h0M450.1 347.7h0M450.1 303.3h0M450.7 349.2h0M450.8 317.3h0M450.9 320.7h0M451 344.3h0M451.3 347.7h0M451.5 316.5h0M451.5 316.3h0M451.7 333.1h0M451.7 334h0M451.9 350.5h0M452.1 323.2h0M452.1 324.1h0M452.4 332h0M452.5 325.9h0M452.7 332.8h0M452.8 351.5h0M453.1 329h0M453.2 326.4h0M453.6 334.9h0M453.8 325.2h0M453.9 337.6h0M453.9 326.2h0M453.9 325.9h0M454.3 326.6h0M454.3 340.6h0M454.7 326h0M454.7 354.7h0M454.9 337.1h0M455 327.7h0M455.1 336.6h0M455.2 330.9h0M455.2 353.4h0M455.2 353.8h0M455.5 341.8h0M455.8 330.3h0M455.9 336.7h0M455.9 327.9h0M456.2 339.9h0M456.3 354.2h0M456.4 336.7h0M456.5 348.6h0M456.6 329.8h0M456.7 345.7h0M456.7 354h0M456.7 354.4h0M456.7 340.4h0M456.8 340.8h0M457 342.6h0M457 336.3h0M457.1 337.8h0M457.2 354h0M457.6 345h0M457.7 353.5h0M457.8 344.9h0M458 346.7h0M458.1 344.8h0M458.4 342h0M458.5 353.4h0M458.5 344.5h0M458.7 346.2h0M458.7 346.7h0M458.7 343.9h0M459.1 351.2h0M459.2 353.9h0M459.4 354.2h0M460.2 357.8h0M460.3 358h0M461.1 358.1h0M461.2 361.6h0M461.8 363.9h0M462 361.5h0M462 365.4h0M462.1 358.2h0M462.4 358.7h0M462.4 365.2h0M462.4 366.1h0M462.5 359h0M462.7 366.5h0M462.8 367.8h0M462.8 367.9h0M463.4 366.5h0M463.4 365.5h0M463.5 366.3h0M464.2 359.4h0M464.2 364h0M464.3 361.4h0M464.9 369.9h0M465 361.5h0M465.2 374.7h0M465.4 373.2h0M465.6 375.6h0M465.7 363.9h0M465.8 373.8h0M466.2 370.7h0M466.4 363.9h0M466.6 366.1h0M466.9 381.2h0M467 372.6h0M467 380.3h0M467 381.3h0M467.2 367.9h0M467.2 372.4h0M467.4 381.7h0M467.5 377.9h0M467.6 371.8h0M467.7 389.4h0M468 372h0M468 379.9h0M468.2 364.9h0M468.4 388.9h0M468.8 377.8h0M468.8 376h0M468.9 379h0M469.1 364.3h0M469.1 364.2h0M469.3 368.6h0M469.9 373.2h0M470 367.4h0M470 372.3h0M470.3 368h0M470.4 366.9h0M470.8 366.7h0M470.8 369.1h0M470.8 362.7h0M471 363.1h0M471 363.5h0M471.5 364.2h0M471.6 363.8h0M471.7 366.4h0M471.8 367.3h0M471.9 362.5h0M472 366.8h0M472.1 364.2h0M472.2 365h0M472.3 361.6h0M472.8 363.9h0M473 362.5h0M473.2 364.9h0M473.2 361.1h0M473.7 365.4h0M473.7 365.3h0M474 358.8h0M474.2 364.5h0M474.4 362.2h0M474.6 362.8h0M475 359.7h0M475 359h0M475 363.8h0M475 364.2h0M475.1 361h0M475.2 354.4h0M475.4 362.3h0M475.5 353.6h0M475.7 353.6h0M476 359.5h0M476.1 364.8h0M476.6 352.5h0M476.6 348.6h0M477.1 365.2h0M477.1 365.1h0M477.2 356.1h0M477.2 348h0M477.4 347.8h0M477.9 406.4h0M478 383.6h0M478 384.3h0M478.1 354.8h0M478.1 348.5h0M478.1 355.5h0M478.4 377.8h0M478.4 347.8h0M478.4 411.9h0M478.5 366.7h0M478.5 347.9h0M478.5 379.8h0M478.5 403.2h0M478.6 408h0M478.6 389h0M478.7 369.5h0M478.9 415.9h0M479 418h0M479 385.2h0M479 401.4h0M479.1 405.2h0M479.1 384.1h0M479.1 392.8h0M479.2 403.4h0M479.5 387h0M479.6 412.7h0M479.6 411.5h0M479.7 386.3h0M479.9 401.9h0M480 388.1h0M480.1 387.9h0M480.3 387.1h0M480.4 411.2h0M480.6 393.7h0M480.7 401.3h0M480.8 395.2h0M480.9 397.8h0M481 408.2h0M481.1 408h0M481.2 401.5h0M481.5 399.2h0M481.6 398.7h0M481.9 389.2h0M482.1 403.2h0M482.1 390.3h0M482.1 389.5h0M482.6 394.9h0M482.9 391.9h0M483.1 392.6h0M483.3 390.9h0M483.3 406.1h0M483.4 412.1h0M483.5 411.9h0M483.8 410.3h0M484.1 398.8h0M484.4 407.6h0M484.5 392.9h0M484.6 403h0M484.9 397.5h0M484.9 403.1h0M485 405.3h0M485 391.7h0M485.1 408.7h0M485.4 405.1h0M485.6 390h0M486.1 394.3h0M486.1 408.6h0M486.2 403.6h0M486.2 406.9h0M486.4 410.7h0M486.5 389.7h0M487 404.4h0M487.2 401h0M487.5 393.8h0M487.6 389.5h0M487.8 409.8h0M487.9 409.7h0M487.9 409.9h0M488.3 398.2h0M488.4 387.9h0M488.5 386.3h0M488.9 408.5h0M488.9 397.7h0M488.9 398.4h0M489.1 408.5h0M489.2 409.9h0M489.5 409.6h0M489.5 385.8h0M489.6 409h0M489.6 409.1h0M489.7 397.1h0M489.7 400.1h0M489.9 390.9h0M490 394.1h0M490 398.1h0M490.1 405.8h0M490.1 397.5h0M490.2 409.7h0M490.3 403.7h0M490.3 409.4h0M490.6 394.2h0M490.6 408.1h0M491.2 396.6h0M491.3 390.9h0M491.3 404.1h0M491.3 401.7h0M491.3 408.9h0M491.4 403.2h0M491.6 406.6h0M491.8 398.2h0M491.9 408.3h0M492 390.8h0M492.1 406.5h0M492.6 405.1h0M493 391.6h0M493.1 404.1h0M493.1 402.9h0M493.2 405.7h0M493.6 397.5h0M493.8 405.6h0M493.8 405.4h0M494 405.3h0M494.3 398.2h0M494.9 404.3h0M495 400.2h0M495.6 396.8h0M496.2 395.8h0M496.3 398.3h0M497.2 390.9h0M497.5 392.9h0M497.8 392.2h0M497.8 389.2h0M497.9 398.5h0M498.1 388.4h0M498.4 394.5h0M498.4 397h0M498.5 395.9h0M498.7 397.7h0M498.8 396.8h0M498.9 399.4h0M498.9 395.5h0M499.1 396.4h0M499.3 385h0M500 398h0M500 397.5h0M500.3 385.9h0M500.5 393.2h0M500.8 389.4h0M501.2 385.8h0M501.8 385h0M501.8 393h0M502 387.4h0M502 385.3h0M502.2 385.2h0M502.2 386.9h0M502.3 389.8h0M502.6 397.1h0M502.7 391.3h0M502.7 384.7h0M502.8 391.6h0M504.5 389.7h0M504.7 390.8h0M505.3 391.6h0M505.3 392h0M505.6 392.5h0M506.2 388.5h0M506.5 383.8h0M506.5 385.1h0M506.8 376.6h0M506.8 377.2h0M506.9 378.1h0M506.9 377.9h0M506.9 378.8h0M507 388.3h0M507 377.5h0M507.2 374.7h0M508.5 368.4h0M508.6 365.5h0M508.6 384.1h0M508.9 380.5h0M509 364h0M509.5 379h0M509.9 367.8h0M510 376.5h0M511.3 378.5h0M511.3 377.3h0M511.9 375.9h0M512 383.4h0M512.4 376.6h0M512.4 377.4h0M512.6 379.5h0M513.1 379h0M513.7 386h0M513.8 380.9h0M513.9 380.7h0M514.3 389.2h0M514.5 384h0M514.7 386.6h0M514.8 391.5h0M515.1 389.5h0M515.3 385.5h0M515.4 381.7h0M515.4 382.2h0M515.4 383h0M515.7 388.1h0M515.8 384.2h0M515.9 388.4h0M516.2 401.6h0M516.2 382.6h0M517.2 387.1h0M517.3 390.5h0M517.4 393.6h0M517.5 397.4h0M518.8 382.1h0M518.8 382.1h0M518.8 386.3h0M519.3 392.5h0M519.4 390.6h0M519.6 380.2h0M519.8 383.9h0M519.9 390.3h0M520.1 387.1h0M520.6 384.8h0M521.4 381.7h0M521.5 375.7h0M521.5 384.3h0M521.9 386.1h0M522.2 376h0M522.3 372h0M522.6 376.2h0M522.6 385.6h0M522.9 379.9h0M523.2 371.5h0M523.3 380.7h0M523.4 375.7h0M523.4 378.1h0M523.5 368.4h0M523.7 383.3h0M524 382.6h0M524.3 378.1h0M524.4 376.8h0M524.5 368.3h0M524.7 370.8h0M524.8 379.4h0M524.8 366.5h0M524.9 372.4h0M525.7 366.9h0M525.8 376.3h0M525.9 364.1h0M526.1 378.7h0M526.1 363.5h0M526.1 368.5h0M526.2 379.5h0M526.2 376.3h0M526.3 363.3h0M526.4 363.3h0M526.5 376.7h0M526.9 367.1h0M526.9 369.7h0M527.2 377.7h0M527.2 373.9h0M527.2 362.8h0M527.8 373.1h0M527.9 361h0M528.1 367.5h0M528.3 367.2h0M528.5 371.4h0M528.7 366.7h0M528.8 371.7h0M528.9 363.6h0M528.9 358.7h0M529.1 362.9h0M529.1 366.6h0M529.2 366.9h0M529.3 358.5h0M529.3 373.7h0M529.4 358.7h0M529.8 365.6h0M529.9 372.9h0M529.9 366.4h0M530.3 357.9h0M530.4 363h0M530.9 359.7h0M531.2 369.5h0M531.4 367.9h0M531.5 357.2h0M531.5 362.7h0M531.8 358.1h0M531.9 360.6h0M532.1 362.7h0M532.3 363.6h0M532.7 356.5h0M532.9 359.4h0M532.9 357.1h0M532.9 360.4h0M533 362.6h0M533 359.5h0M533.1 357h0M533.3 356.3h0M533.4 357.8h0M533.4 361.2h0M533.7 356.2h0M533.9 355.8h0M534.2 355.2h0M534.7 353.4h0M534.7 353.7h0M534.9 349.7h0M534.9 351.4h0M535.1 346.1h0M535.2 346h0M535.2 352.8h0M535.3 342.1h0M535.3 346.5h0M535.4 343.2h0M535.5 340.9h0M535.6 341.6h0M535.8 345.7h0M536.7 340.5h0M536.7 315.9h0M536.7 343.5h0M536.7 341.7h0M536.8 332.5h0M536.9 321.9h0M537.3 315.9h0M537.3 331.6h0M537.3 335.2h0M537.4 332.1h0M537.5 308.2h0M537.9 310.1h0M537.9 314.7h0M538.3 306.8h0M538.4 307h0M539.1 304.7h0M539.5 293.4h0M539.6 288.1h0M539.6 287.2h0M539.8 294.3h0M539.8 300.4h0M539.9 284.1h0M540.1 299.5h0M540.3 266.8h0M540.3 280.6h0M540.4 264.2h0M540.6 287.8h0M540.6 258.9h0M540.7 273.4h0M540.8 286.7h0M540.8 259.3h0M540.8 275.4h0M540.9 258.4h0M541 252.9h0M541.1 294.6h0M541.2 261.9h0M541.4 273.2h0M541.5 273.4h0M541.5 270.4h0M541.6 246.1h0M541.6 259h0M541.6 265.1h0M541.8 287.2h0M541.8 235.7h0M541.8 237h0M542 272h0M542.1 281h0M542.1 243.5h0M542.3 262.7h0M542.4 288.4h0M542.5 262.9h0M542.5 288.5h0M542.5 288.3h0M542.5 224.7h0M542.6 227.7h0M542.7 210.5h0M542.8 212.8h0M543.3 253.6h0M543.5 286.8h0M543.6 282.6h0M543.9 285.7h0M543.9 286.8h0M544 259h0M544.1 226.2h0M544.1 225.9h0M544.1 261.3h0M544.3 222.7h0M544.4 271.2h0M544.4 244.2h0M544.4 229.8h0M544.5 236h0M544.7 285.1h0M544.8 251.6h0M544.9 222h0M544.9 280.9h0M545 231.7h0M545.1 270.4h0M545.4 227.3h0M545.4 245h0M545.5 281.2h0M545.5 229.5h0M545.6 281h0M545.6 248h0M545.9 259.2h0M545.9 265.1h0M545.9 278.4h0M546 285.6h0M546.3 252.8h0M546.5 272.2h0M546.5 224.2h0M546.6 269h0M546.7 237h0M546.8 224.3h0M546.8 234.8h0M546.9 284h0M546.9 284.8h0M547.1 269.5h0M547.2 248.8h0M547.3 257.8h0M547.5 245.8h0M547.5 240.5h0M547.7 263h0M547.8 261.9h0M547.8 249.1h0M547.9 254.8h0M548 269.4h0M548 251.5h0M548 271.1h0M548.1 225.7h0M548.2 270.6h0M548.4 231.4h0M548.4 258.5h0M548.4 228.5h0M549.2 244.8h0M549.2 251h0M549.2 254.2h0M549.3 262.8h0M549.3 233.9h0M549.4 280.6h0M549.4 279.6h0M549.5 235.8h0M549.7 277.7h0M550.1 262.3h0M550.3 234.9h0M550.3 226.8h0M550.5 271h0M550.7 271.3h0M550.8 252.9h0M551.2 272.4h0M551.2 252h0M551.2 227.1h0M551.4 250.8h0M551.5 248.6h0M551.5 249.5h0M551.8 260.2h0M551.8 241.7h0M551.8 269.4h0M551.9 263.4h0M552 234.3h0M552.2 236.8h0M552.2 230.2h0M552.3 225.5h0M552.4 227.2h0M552.4 248.1h0M552.4 254.4h0M552.5 226.8h0M552.5 228.5h0M552.5 239.2h0M552.6 247h0M552.8 257.5h0M552.8 229.3h0M552.8 238.8h0M552.8 249.6h0M552.9 262.1h0M552.9 260.5h0M553.1 252.1h0M553.2 258h0M553.3 257.4h0M553.3 248.9h0M553.3 241.5h0M553.3 224.4h0M553.4 223.9h0M553.6 224.2h0M553.6 257.4h0M553.8 229.6h0M553.9 254.1h0M553.9 247.9h0M554 255.2h0M554.1 253.4h0M554.1 250.2h0M554.3 228.9h0M554.5 224.7h0M554.7 250.7h0M555 236.7h0M555.2 246.1h0M555.3 222h0M555.3 239.1h0M555.4 245h0M555.5 237.1h0M555.6 244.2h0M555.6 244.4h0M555.7 237.1h0M555.7 243.6h0M555.7 221.8h0M555.7 226.9h0M556 238.4h0M556.6 228.8h0M556.6 233.2h0M556.6 230.4h0M556.8 239h0M556.9 227.3h0M557 220.8h0M557.3 220.5h0M557.4 236h0M557.4 226.4h0M557.4 229.9h0M557.5 222.5h0M557.5 236.8h0M557.9 219.1h0M558.1 228h0M558.2 238.1h0M558.2 238.3h0M558.2 229.2h0M558.4 227.6h0M558.5 219.4h0M558.5 227.7h0M558.6 235.5h0M559.2 214.3h0M559.5 238h0M559.5 211.1h0M559.6 215.2h0M559.7 232.6h0M559.8 226.2h0M560.2 210.5h0M560.3 230.8h0M560.4 227.3h0M560.7 216.1h0M560.8 226.8h0M560.9 215.9h0M561.6 230.7h0M561.7 240.2h0M561.9 233.6h0M562 229.8h0M562.4 240.1h0M562.4 240.2h0M562.5 240.5h0M562.6 241h0M562.7 240h0M562.8 224.8h0M563.2 229.6h0M563.5 225.7h0M563.7 237.6h0M563.8 242.5h0M563.9 229h0M564.1 237.7h0M564.5 231.7h0M564.5 239.7h0M565 233.4h0M565 230.3h0M565.2 230.8h0M565.5 238.9h0M565.6 248.4h0M565.7 247.7h0M565.7 244.8h0M565.8 232.8h0M566.1 238.3h0M566.1 238.2h0M566.2 233.1h0M566.3 253.9h0M566.3 254.8h0M566.3 249.8h0M566.5 239.5h0M566.5 242.7h0M566.8 260.3h0M566.8 245.8h0M566.8 246.5h0M566.9 253.6h0M567.1 259.5h0M567.1 249h0M567.3 248.9h0M567.3 261.4h0M567.4 260.3h0M567.4 246h0M567.6 243.1h0M568.1 249.2h0M568.2 247.2h0M568.2 270.3h0M568.2 247.2h0M568.4 248.6h0M568.6 270.5h0M568.7 273h0M568.9 254.6h0M569 271.3h0M569 265h0M569.1 248.8h0M569.2 266h0M569.3 259.6h0M569.3 259.6h0M569.5 264.4h0M569.5 261.1h0M569.6 264.7h0M569.6 266.4h0M569.6 274.2h0M569.6 274.8h0M569.7 260.5h0M569.7 265.6h0M569.8 253.9h0M569.9 248.8h0M570 249.2h0M570.1 278.2h0M570.2 270.2h0M570.3 258.4h0M570.5 249.3h0M570.8 280.1h0M570.9 250.3h0M571.1 259.2h0M571.1 281.4h0M571.2 250.2h0M571.2 268.9h0M571.3 256.6h0M571.3 259.7h0M571.6 274.8h0M571.7 268.5h0M571.7 260.1h0M571.8 264.8h0M571.9 269.9h0M571.9 280.3h0M571.9 268h0M572.1 265.1h0M572.3 266.9h0M572.4 270.7h0M572.4 264.8h0M572.4 284.1h0M572.4 270.3h0M573.1 280.1h0M573.2 252.3h0M573.4 277.6h0M573.5 273h0M573.6 273.3h0M573.7 269.8h0M573.7 283.5h0M573.8 280.5h0M573.9 277.6h0M573.9 268.6h0M573.9 269.4h0M574.1 278.9h0M574.1 275.5h0M574.1 250.7h0M574.2 254.8h0M574.5 259.2h0M574.5 250.6h0M574.6 275.4h0M574.8 275.7h0M575.3 250.6h0M575.3 250.5h0M575.4 254.2h0M575.7 265.5h0M576.2 248.2h0M576.3 252.2h0M576.5 266.6h0M576.7 264.8h0M576.9 251.6h0M577.2 246.7h0M577.2 245.4h0M577.5 244.9h0M577.5 260.2h0M577.7 256.2h0M577.7 260.4h0M578.8 253.9h0M578.9 247.1h0M578.9 240.7h0M578.9 253.5h0M579.1 244.5h0M579.1 242.9h0M579.2 239.1h0M579.4 251.5h0M579.6 240.7h0M579.6 235.1h0M579.7 242.9h0M579.9 247.7h0M580.1 248.6h0M580.4 228.8h0M580.8 249.3h0M581 237.2h0M581.1 225.4h0M581.6 230.8h0M581.8 230.2h0M581.9 228.1h0M581.9 232.9h0M582.1 244.7h0M582.1 222.1h0M582.2 242.1h0M582.3 247.3h0M582.5 233.2h0M582.8 222.7h0M582.8 247h0M582.9 227.8h0M583 235.3h0M583.1 220.4h0M583.2 223.4h0M583.4 230.2h0M583.4 246.5h0M583.4 223h0M583.5 220.3h0M583.6 245.3h0M583.7 247.2h0M583.8 234.6h0M583.8 234.8h0M583.9 247.1h0M584.3 228h0M584.4 235.7h0M584.4 244.6h0M584.5 226.9h0M585.1 240.5h0M585.3 243.9h0M585.5 230.2h0M585.6 247.1h0M585.6 233.6h0M585.6 231.4h0M585.7 232.1h0M585.7 232.5h0M585.7 234.5h0M585.7 245.2h0M585.9 244.3h0M585.9 231h0M586.2 239.1h0M586.4 241.1h0M586.6 244.3h0M586.6 236h0M586.6 235.7h0M587 239.7h0M587.1 241.7h0M587.1 234.4h0M587.6 247.4h0M587.7 230.9h0M588.1 233.1h0M588.1 236.2h0M588.3 246.6h0M588.3 229.9h0M588.6 234.8h0M588.6 233.6h0M588.7 247.6h0M588.7 248.6h0M588.8 232.9h0M589.1 249.9h0M589.2 245.1h0M589.3 237.4h0M589.4 237.9h0M589.5 223.4h0M589.5 250.8h0M589.6 222.9h0M589.8 222.1h0M589.8 228.2h0M589.9 236.4h0M590.1 229.7h0M590.2 217.9h0M590.3 261.8h0M590.4 251.1h0M590.4 222.3h0M590.4 248.9h0M590.5 244.6h0M590.5 221.9h0M590.5 216.7h0M590.5 228.9h0M590.7 251.9h0M590.7 216.8h0M590.8 262.8h0M590.9 239.7h0M590.9 224.8h0M590.9 263.6h0M590.9 263.3h0M591 244.8h0M591.1 212.5h0M591.3 261.2h0M591.3 226.7h0M591.6 248.8h0M591.7 245.7h0M592.1 216.7h0M592.3 205.2h0M592.6 213.5h0M592.8 211h0M593.2 201.8h0M593.3 203h0M593.5 214.4h0M593.7 198.6h0M593.8 218.1h0M593.8 216.8h0M593.8 198.3h0M594 219h0M594.1 203.6h0M594.2 200.3h0M594.2 208.2h0M594.4 217h0M594.5 218.8h0M594.6 218.4h0M594.6 200.3h0M594.6 198.5h0M594.7 196.7h0M595 194.3h0M595.3 203.6h0M595.5 205.5h0M595.6 193.8h0M595.6 217.6h0M595.7 218.2h0M596 215.8h0M596.1 197.6h0M596.1 206.4h0M596.2 194.4h0M596.2 190.1h0M596.3 191.7h0M596.4 190h0M596.5 202.7h0M596.5 209.6h0M596.5 192.1h0M596.5 196.8h0M596.6 189.2h0M596.7 215.3h0M596.9 192h0M597 215.7h0M597 202.6h0M597.2 187.1h0M597.4 203.8h0M597.7 209h0M597.7 218.1h0M597.7 209.9h0M597.7 206.1h0M597.9 202.2h0M597.9 196.9h0M598 217.4h0M598.4 189.1h0M598.5 211.4h0M598.6 198.9h0M598.7 181.8h0M598.7 198.7h0M598.9 182.1h0M599.1 204.5h0M599.1 202.1h0M599.5 180.5h0M599.6 170.4h0M599.7 170.7h0M599.9 178.1h0M600 191.9h0M600.1 159.6h0M600.3 154.4h0M600.3 180.7h0M600.3 187.4h0M600.4 153.7h0M600.4 152.4h0M600.5 151.7h0M600.6 151.7h0M600.6 155.9h0M600.7 160.2h0M600.7 146.5h0M601 149.5h0M601 143.5h0M601.2 184.2h0M601.2 172.7h0M601.3 163.1h0M601.3 142.1h0M601.4 151.8h0M601.4 176.2h0M601.7 162.3h0M601.7 145.3h0M601.8 157h0M601.9 139.5h0M601.9 139.9h0M602.1 146.9h0M602.4 137.7h0M602.5 175h0M602.5 143h0M602.5 137.4h0M602.6 144.1h0M602.7 136.4h0M602.7 152.9h0M602.8 173.5h0M602.8 169.1h0M602.9 159.5h0M603 160.5h0M603.1 164h0M603.2 132.1h0M603.2 170.2h0M603.3 165.1h0M603.3 165h0M603.3 131.8h0M603.5 156.3h0M603.6 130.3h0M603.7 143.6h0M603.7 129.7h0M603.7 127.8h0M603.9 163.8h0M603.9 138.3h0M604.1 161.9h0M604.1 149h0M604.1 150.8h0M604.1 161.6h0M604.2 132.1h0M604.3 135.7h0M604.4 146.1h0M604.5 153.6h0M604.6 145.9h0M604.8 125.2h0M604.8 138.6h0M604.9 149.4h0M605 144.2h0M605.2 119.5h0M605.4 118.7h0M605.4 119.7h0M605.5 126.9h0M605.5 145h0M605.6 115.9h0M605.6 132.1h0M605.6 115.2h0M605.9 133.6h0M606 129h0M606.1 122.8h0M606.2 130.9h0M606.2 115.3h0M606.4 115.1h0M606.4 109.8h0M606.4 120.6h0M606.5 109.4h0M606.6 132h0M606.6 127.6h0M606.6 109.5h0M606.8 127.3h0M606.9 120.7h0M606.9 131.4h0M607 107.6h0M607.2 126.4h0M607.7 112h0M607.7 107.1h0M607.9 124.8h0M608 111.1h0M608.2 109.3h0M608.3 90.8h0M608.3 117.8h0M608.4 122.5h0M608.5 95.1h0M608.6 127.2h0M608.6 115.7h0M608.8 104.9h0M608.8 125.7h0M608.9 88.8h0M608.9 115.9h0M609.2 99.7h0M609.3 104.6h0M609.4 127.6h0M609.4 88.3h0M609.5 126.9h0M609.7 104.1h0M609.7 117.5h0M609.7 121.9h0M610.1 111.5h0M610.3 111.6h0M610.4 128.3h0M610.4 110.2h0M610.4 108.1h0M610.5 111.4h0M610.5 110.8h0M610.6 108.4h0M610.6 117.1h0M610.7 94.3h0M610.8 94.3h0M611 93.4h0M611 129.4h0M611 115.1h0M611.1 86.9h0M611.1 128.3h0M611.2 85.7h0M611.5 88.6h0M611.5 115.2h0M611.8 85.2h0M611.9 88.2h0M611.9 132.8h0M611.9 131.8h0M612 129.7h0M612.1 91.3h0M612.2 133.8h0M612.3 114.5h0M612.5 130.6h0M612.7 60h0M612.8 110h0M612.9 83.4h0M613 53.2h0M613 56.2h0M613.2 101.1h0M613.3 122.7h0M613.7 54.5h0M613.7 97.5h0M614.5 97.4h0M614.7 99.9h0M614.7 105.2h0M614.8 107.9h0M614.9 130.8h0M614.9 143.2h0M615.1 146.2h0M615.2 39.2h0M615.2 50.1h0M615.2 146.6h0M615.3 86.2h0M615.3 85.9h0M615.4 147.4h0M615.4 97.2h0M615.5 107.6h0M615.5 139.9h0M615.5 49.7h0M615.6 61h0M615.7 136.1h0M615.7 134.4h0M615.8 113.3h0M615.9 147.9h0M616 47h0M616.1 136.3h0M616.1 100h0M616.1 125.7h0M616.2 39.7h0M616.3 41.9h0M616.5 145h0M616.5 134.1h0M616.6 65.7h0M616.6 145.5h0M616.9 151.7h0M616.9 81.2h0M617.1 121.6h0M617.1 71.1h0M617.1 95.6h0M617.2 114.9h0M617.3 120.1h0M617.3 66h0M617.4 66.7h0M617.4 154.4h0M617.5 150.2h0M617.8 154.5h0M617.8 129.2h0M617.9 102.2h0M618.1 150.2h0M618.1 130.6h0M618.2 135.7h0M618.2 118.1h0M618.4 104.2h0M618.4 117.6h0M618.5 105.5h0M618.6 154.8h0M618.6 98.2h0M618.7 125.9h0M618.7 102.5h0M618.8 108.4h0M619 155.2h0M619 97.7h0M619.2 118.3h0M619.2 103.6h0M619.6 94.8h0M619.7 105h0M619.8 113.8h0M619.9 109.1h0M619.9 141.9h0M620.1 95.3h0M620.1 121.4h0M620.3 154.5h0M620.3 96.2h0M620.3 95.8h0M620.4 114.8h0M620.5 152h0M620.5 155.1h0M620.6 143h0M620.6 140.1h0M620.6 102.1h0M620.7 132.8h0M620.8 135.5h0M620.9 124h0M621 109.7h0M621.1 136.2h0M621.2 107.8h0M621.4 127.5h0M621.4 146.8h0M621.4 153.2h0M621.5 113.8h0M621.6 107.6h0M621.6 139.1h0M621.8 137.7h0M621.9 129.2h0M622 149.4h0M622 148h0M622 149.6h0M622 94h0M622.2 95.8h0M622.2 117.4h0M622.3 90.9h0M622.4 139.7h0M622.6 136h0M622.6 102.6h0M622.7 117.3h0M622.7 80.8h0M622.9 146.1h0M622.9 101.5h0M623 52.2h0M623 84h0M623.1 51.4h0M623.1 111.5h0M623.3 81.3h0M623.3 51.6h0M623.3 143.9h0M623.5 52.3h0M623.6 127.6h0M623.6 91.7h0M623.7 54h0M623.7 117.2h0M624 52.4h0M624.1 60.3h0M624.1 74.3h0M624.2 71.8h0M624.6 109.2h0M624.8 74.9h0M624.8 90h0M625 136.9h0M625.1 68.5h0M625.1 86.3h0M625.2 64.4h0M625.4 69.3h0M625.4 81.2h0M625.5 128.7h0M625.6 85.7h0M625.6 79.3h0M625.7 73.9h0M625.9 101.1h0M625.9 137.6h0M626 111.5h0M626 139.1h0M626 72.3h0M626.1 125.7h0M626.2 112.7h0M626.2 77.6h0M626.3 66.6h0M626.3 67.3h0M626.4 139h0M626.4 70.5h0M626.5 88.1h0M626.5 74.7h0M626.6 92h0M626.8 108h0M626.9 122h0M627 139h0M627.1 138.2h0M627.4 99h0M627.4 105.6h0M627.5 100.7h0M627.7 139.1h0M627.7 140.9h0M628.2 108.5h0M628.4 81.2h0M628.8 134.5h0M628.8 111.4h0M628.8 114.1h0M628.8 101.2h0M629.1 131.3h0M629.2 84.6h0M629.3 124.8h0M629.4 86h0M629.4 145h0M629.5 117.3h0M629.5 83.9h0M629.5 159.8h0M629.6 161.1h0M629.7 135.1h0M629.7 124.3h0M629.7 118.8h0M629.8 129.3h0M630 135.7h0M630 108.7h0M630 91.2h0M630 165.4h0M630.1 112.6h0M630.4 114.8h0M630.6 140.2h0M630.9 86.8h0M630.9 170.5h0M631.2 88.2h0M631.4 174.2h0M631.4 89.1h0M631.5 158.3h0M631.6 153.8h0M631.6 152.3h0M631.7 178.7h0M631.7 167.2h0M631.8 117.8h0M631.8 161.3h0M632 143h0M632 152.8h0M632 152.2h0M632.2 142.4h0M632.2 182.5h0M632.2 165.9h0M632.4 136.7h0M632.7 183.5h0M632.7 184.2h0M632.8 158.1h0M632.8 188.5h0M632.9 150.8h0M633 144.3h0M633.1 169.4h0M633.1 144h0M633.2 145h0M633.2 171h0M633.4 182.1h0M633.4 185.3h0M633.5 145.8h0M633.6 192.1h0M633.8 188.2h0M634 185h0M634.1 160.8h0M634.1 158.6h0M634.2 192.2h0M634.3 159.6h0M634.4 189.1h0M634.4 192.3h0M634.5 192.4h0M634.7 148.8h0M634.7 192.7h0M634.8 147h0M634.9 174.1h0M634.9 161.9h0M635 180.2h0M635.3 166.4h0M635.4 175.4h0M635.5 157.4h0M635.5 165.3h0M635.6 185.9h0M635.7 165.3h0M635.8 172.6h0M635.9 164.1h0M636 179.5h0M636.1 157.3h0M636.1 147.1h0M636.2 181.8h0M636.2 147.8h0M636.3 168.8h0M636.3 191.7h0M636.3 175.8h0M636.4 187.8h0M636.6 183h0M636.6 182.6h0M636.6 173.7h0M637 186.5h0M637.2 169.1h0M637.4 170.3h0M637.4 154.1h0M637.5 192.5h0M637.5 185.6h0M637.5 161.9h0M637.8 147.6h0M638.1 147.6h0M638.1 178.9h0M638.1 149.6h0M638.2 182.5h0M638.2 162.3h0M638.3 160.6h0M638.3 179.2h0M638.4 185h0M638.5 177.9h0M638.6 190h0M638.6 191h0M638.6 148.5h0M638.6 191.4h0M638.6 188.7h0M638.7 185.8h0M638.8 150.9h0M638.9 173.7h0M639 149.4h0M639.1 192.3h0M639.1 166h0M639.2 164.9h0M639.2 170.8h0M639.5 162.1h0M639.5 153.9h0M639.5 160.8h0M639.5 184.6h0M639.5 151.9h0M639.6 158.9h0M639.6 189.7h0M639.7 157.1h0M639.7 177.9h0M639.8 157.6h0M640 191.8h0M640.2 169.6h0M640.2 178.5h0M640.3 170.9h0M640.4 166.6h0M640.4 153.5h0M640.4 172.5h0M640.5 170.6h0M640.5 154.6h0M640.5 187.7h0M640.5 178.8h0M640.7 156.5h0M640.8 177.5h0M640.8 179h0M641.1 187.8h0M641.1 184.9h0M641.2 156.3h0M641.2 191.4h0M641.3 157.9h0M641.3 188.5h0M641.4 166.4h0M641.4 164.1h0M641.5 185.6h0M641.5 176h0M641.5 158.4h0M641.6 191.4h0M641.6 156.9h0M641.7 160.9h0M641.7 169.7h0M641.9 176.2h0M642.1 187.3h0M642.4 163.6h0M642.5 183.6h0M642.6 178.2h0M642.6 175.3h0M642.9 176.5h0M643 174.9h0M643 190.9h0M643.4 178.8h0M643.5 164.8h0M643.6 185.7h0M643.6 192.3h0M643.7 191h0M643.7 192.8h0M643.8 188.7h0M643.8 193.1h0M643.8 185.1h0M643.9 167h0M644.1 162.9h0M644.1 174.5h0M644.1 188.5h0M644.2 195.4h0M644.3 171.4h0M644.4 194.6h0M644.6 173.3h0M644.9 168.5h0M644.9 197.2h0M645 185.1h0M645.1 183.7h0M645.2 186.1h0M645.2 192.6h0M645.3 199.7h0M645.5 185.3h0M645.5 166.7h0M645.6 169h0M645.6 176.3h0M645.6 202h0M645.7 203.4h0M645.7 197.4h0M645.8 204.4h0M645.9 170.5h0M646.1 192.9h0M646.3 194.4h0M646.3 204.9h0M646.3 171.5h0M646.4 199.3h0M646.4 209.9h0M646.4 208.6h0M646.4 194h0M646.5 201.6h0M646.5 172.4h0M646.5 210.5h0M646.6 198.1h0M646.6 199.3h0M646.9 209.1h0M646.9 214.6h0M646.9 191.8h0M646.9 179.3h0M647.1 224h0M647.3 184.7h0M647.3 184.7h0M647.4 202.1h0M647.6 213.3h0M647.6 187.1h0M647.8 187.6h0M647.8 212.9h0M648 216.9h0M648.1 224h0M648.3 212.9h0M648.4 204.4h0M648.4 214.7h0M648.5 200.4h0M648.5 209h0M648.5 194.3h0M648.6 201.3h0M649 211h0M649.2 188.8h0M649.8 208.4h0M649.8 195.2h0M649.9 189.3h0M649.9 209.7h0M650.2 204h0M650.2 202.7h0M650.2 197.9h0M650.3 209.3h0M650.4 196.1h0M650.4 189.1h0M650.6 208.6h0M650.7 193.2h0M650.7 189.8h0M651 189.5h0M651 204.3h0M651.2 201.4h0M651.7 209.2h0M651.7 208.9h0M651.7 208.9h0M651.8 208.1h0M652 191h0M652.1 203.5h0M652.1 205.6h0M652.2 208.7h0M652.4 209.3h0M652.7 189.5h0M652.7 209.2h0M652.8 188.7h0M652.8 194.7h0M652.8 189.3h0M652.9 200.7h0M652.9 202.7h0M653.5 204.7h0M653.5 191.1h0M653.6 193.5h0M653.7 189.4h0M653.8 208.8h0M654.1 209h0M654.2 209h0M654.3 187.5h0M654.5 189.9h0M654.9 177.2h0M655.2 204h0M655.5 169.9h0M655.7 173.2h0M655.7 166.7h0M656 161h0M656 195.4h0M656.1 202h0M656.3 183.8h0M656.4 175.2h0M656.8 155.5h0M656.9 201.2h0M656.9 199.2h0M656.9 201.5h0M657.1 160.7h0M657.2 172.6h0M657.5 200.9h0M657.5 147.5h0M657.6 192.5h0M657.6 200.3h0M657.6 189.2h0M657.6 167.9h0M657.8 181.9h0M657.8 178.1h0M657.9 171.1h0M658 169.8h0M658 166.1h0M658.2 151.6h0M658.2 141.5h0M658.3 202h0M658.3 201.6h0M658.4 154.2h0M658.4 182.9h0M658.5 141.2h0M658.6 176.2h0M658.7 163.2h0M658.8 197.2h0M658.8 140.7h0M658.9 154h0M658.9 159.3h0M659.1 203.3h0M659.1 170.8h0M659.2 190.9h0M659.6 187.8h0M659.6 134h0M659.8 168.4h0M659.8 189.7h0M659.9 193.6h0M659.9 133.9h0M660 155.4h0M660.3 200.1h0M660.4 141.8h0M660.5 179.2h0M660.8 137.5h0M660.8 137.3h0M661.1 158.8h0M661.3 150.5h0M661.4 132.1h0M661.4 173.9h0M661.5 146.9h0M661.5 133h0M661.5 142.2h0M661.6 172.8h0M661.7 149.5h0M661.7 161h0M662 171.8h0M662.1 162.6h0M662.1 134.5h0M662.1 168.9h0M662.2 160h0M662.2 163.9h0M662.3 171h0M662.4 169.8h0M662.7 134.6h0M662.9 164.7h0M662.9 136.6h0M663.1 134.3h0M663.2 162.7h0M663.4 159.8h0M663.5 168.1h0M663.5 152.9h0M663.7 165.3h0M663.7 165.3h0M663.8 142h0M664 160h0M664 164.8h0M664.3 149.3h0M664.4 167.1h0M664.4 169.3h0M664.4 165.1h0M664.6 167.6h0M665 169.6h0M665 157.5h0M665.1 158.8h0M665.7 170.1h0M665.8 145h0M666 171h0M666.2 171.5h0M666.2 149.7h0M666.2 151.8h0M666.2 148.3h0M666.3 171.9h0M666.3 147.3h0M666.3 159h0M666.7 160.9h0M666.8 154.2h0M666.9 147.5h0M666.9 171.2h0M667 144.5h0M667.2 149.5h0M667.2 150.9h0M667.2 172.9h0M667.3 160.2h0M667.4 144h0M667.5 173h0M667.5 161.8h0M667.5 170.4h0M667.7 174.8h0M667.9 150.1h0M667.9 161.2h0M667.9 145.4h0M668.1 175.2h0M668.1 153h0M668.1 163.3h0M668.2 145.5h0M668.3 166.2h0M668.3 149.4h0M668.3 174.7h0M668.4 161.8h0M668.4 159.7h0M668.6 144.1h0M668.6 152.6h0M668.7 142.3h0M668.7 171.1h0M668.8 142.3h0M668.8 157.7h0M669 161.8h0M669 143.5h0M669.1 161.3h0M669.3 140.2h0M669.5 144.7h0M669.6 155.4h0M669.6 140h0M669.7 135.2h0M669.8 151.5h0M670.1 132.4h0M670.1 128.9h0M670.1 142.7h0M670.2 131h0M670.2 144.4h0M670.3 126.8h0M670.4 125.8h0M670.6 138.8h0M670.6 141.4h0M670.7 145.6h0M670.7 124.5h0M670.8 149.7h0M671.1 128.5h0M671.1 132.1h0M671.1 134.3h0M671.2 137.4h0M671.2 129.2h0M671.2 148.8h0M671.2 129.2h0M671.3 122.1h0M671.3 129.4h0M671.4 138.6h0M671.4 117.6h0M671.4 148.4h0M671.8 143.6h0M671.9 111.2h0M672 109.6h0M672.2 119.5h0M672.2 109.2h0M672.4 141.7h0M672.4 105.4h0M672.4 135.8h0M672.5 107.5h0M672.5 141.3h0M672.7 139.9h0M673 101.3h0M673 99.7h0M673 116.7h0M673 123.3h0M673.2 144.2h0M673.5 99.2h0M673.5 122h0M673.6 117h0M673.6 135.6h0M673.7 147.3h0M673.7 106.7h0M673.9 141h0M673.9 130.7h0M673.9 135.6h0M673.9 142.9h0M673.9 143.5h0M673.9 110.8h0M673.9 122h0M674.1 147.5h0M674.2 137.9h0M674.3 110.1h0M674.4 108.8h0M674.4 140.9h0M674.5 111.4h0M674.5 117.7h0M674.6 143.5h0M674.7 147.7h0M674.8 148.3h0M674.8 107.3h0M674.8 108.3h0M674.9 113.8h0M675 108.9h0M675 129.6h0M675.1 140.1h0M675.2 148.5h0M675.2 119h0M675.2 144.8h0M675.2 111.7h0M675.2 148.9h0M675.3 125.1h0M675.4 148.2h0M675.4 145.6h0M675.5 127.3h0M675.6 115.3h0M675.6 126.1h0M675.7 146.8h0M675.8 132.2h0M675.9 149.3h0M676.1 149.2h0M676.1 142.6h0M676.3 139.3h0M676.3 147.8h0M676.4 149.8h0M676.4 150h0M676.5 150.3h0M676.6 147.7h0M676.6 125h0M676.6 126.7h0M676.7 131h0M676.8 147.1h0M676.8 127.2h0M676.8 140.2h0M676.9 131.4h0M676.9 142.6h0M677 150.8h0M677.3 151.5h0M677.5 142.3h0M677.6 151.7h0M677.7 151.8h0M678 132.6h0M678.1 151.7h0M678.1 145.8h0M678.3 132.9h0M678.3 134h0M678.3 148.2h0M678.3 137.7h0M678.4 137.5h0M678.5 138.4h0M678.7 147.1h0M678.7 135.2h0M678.7 135.9h0M678.7 154.2h0M678.8 153.2h0M679 145.1h0M679.1 142.2h0M679.3 133.2h0M679.5 140.4h0M679.6 140.2h0M679.7 156.5h0M679.8 133.9h0M680 154.9h0M680 133.7h0M680.2 144.5h0M680.2 133.8h0M680.5 135.3h0M680.8 149.4h0M681 133.7h0M681.2 137.8h0M681.7 133.2h0M681.9 132.8h0M682.3 139.3h0M682.6 136.6h0M682.9 136.6h0M682.9 131.9h0M683.2 130.3h0M683.6 135.6h0M684 136h0M684 119.9h0M684.4 131.1h0M684.5 130.9h0M684.6 130.9h0M684.8 134.5h0M684.8 119.9h0M684.8 134.6h0M684.9 96.3h0M684.9 91.4h0M685.1 102.7h0M685.2 126.6h0M685.3 133.6h0M685.3 112.6h0M685.5 115.3h0M685.6 123.9h0M685.7 103.3h0M685.7 90.1h0M685.7 88.6h0M686 104.4h0M686 116.3h0M686.1 114.9h0M686.1 93.8h0M686.3 111.2h0M686.5 133.4h0M686.5 110.4h0M686.5 123.6h0M686.6 118.8h0M686.8 133.3h0M686.8 101.2h0M687 95.3h0M687.1 89.5h0M687.1 105.8h0M687.2 117.5h0M687.5 125.6h0M687.5 103.7h0M687.7 132.1h0M687.8 90.6h0M688.3 92.5h0M688.4 89.6h0M688.4 123h0M688.5 109.6h0M688.5 123.2h0M688.6 88.8h0M688.7 112.6h0M688.7 120.1h0M688.8 89.3h0M688.9 101.7h0M688.9 100.9h0M688.9 103.4h0M688.9 89.8h0M689 134.2h0M689.1 99.8h0M689.1 88.6h0M689.3 110h0M689.4 88.4h0M689.4 133.9h0M689.5 133.2h0M689.5 133.7h0M689.6 89.1h0M689.9 122.8h0M690.1 134.1h0M690.1 107.3h0M690.2 133.2h0M690.3 118.7h0M690.4 100.6h0M690.4 108.9h0M690.4 89.3h0M690.5 134.3h0M690.5 134.2h0M690.6 95.2h0M690.9 85.3h0M691 107.4h0M691 129.6h0M691.2 85.2h0M691.3 134.4h0M691.3 131.3h0M691.3 123.1h0M691.3 82.9h0M691.4 101.7h0M691.5 134.3h0M691.6 135.4h0M691.8 107.3h0M691.8 83.6h0M691.9 85.2h0M692.1 90.3h0M692.2 137.5h0M692.3 99.1h0M692.4 85.1h0M692.4 82.9h0M692.5 104.6h0M692.6 111.3h0M692.8 95.7h0M692.8 85.9h0M693.1 141.5h0M693.1 91.2h0M693.2 103h0M693.2 110.7h0M693.3 107.1h0M693.3 116.3h0M693.3 148.5h0M693.4 129.3h0M693.5 116h0M693.6 108.3h0M693.6 107.7h0M693.7 156.1h0M693.9 150.2h0M694 135.4h0M694 147.3h0M694 130.3h0M694.1 143.8h0M694.1 127.5h0M694.2 126.9h0M694.3 128.2h0M694.5 132h0M694.7 160.7h0M695 163.2h0M695.1 162.4h0M695.1 163.9h0M695.3 137h0M695.3 162.3h0M695.6 157.7h0M695.6 159.9h0M695.8 151.4h0M695.9 139.1h0M695.9 143.5h0M695.9 148.1h0M696.2 168.6h0M696.2 145.8h0M696.2 139.3h0M696.3 171.2h0M696.3 172.9h0M696.4 161.8h0M696.6 141.4h0M696.6 173.6h0M696.7 171.5h0M696.8 140h0M696.8 160h0M696.9 145.6h0M697 139.8h0M697.1 143.3h0M697.2 140.2h0M697.2 152.1h0M697.3 170.3h0M697.4 151h0M697.5 166.4h0M697.5 141.1h0M697.5 171h0M697.6 172.3h0M697.7 167.9h0M697.7 172.3h0M697.8 159.9h0M697.8 166.6h0M697.8 140.4h0M697.9 160h0M697.9 156.4h0M697.9 165.9h0M698.1 151.5h0M698.3 140h0M698.3 163.1h0M698.4 155.3h0M698.5 161.5h0M698.5 151.9h0M698.6 138.8h0M698.8 141.5h0M698.9 142h0M699 138h0M699 140.1h0M699 156.5h0M699.1 155.1h0M699.4 152.5h0M699.5 141.9h0M699.7 132.3h0M699.7 146.1h0M699.8 146.9h0M700 132.8h0M700 138.3h0M700.2 140.8h0M700.5 144.1h0M700.6 141.2h0M700.6 124.5h0M700.7 135.1h0M700.7 140.3h0M700.7 120.6h0M700.9 131.8h0M700.9 142.1h0M701 135.9h0M701.1 121.6h0M701.1 118h0M701.3 122.1h0M701.8 135.8h0M702 148.7h0M702.1 122.3h0M702.1 134.8h0M702.3 122.6h0M702.3 133.6h0M702.3 129.3h0M702.5 123.9h0M702.5 148.3h0M702.5 139.8h0M702.5 129.1h0M702.8 121.5h0M702.9 140.3h0M702.9 150.2h0M702.9 120.8h0M703 149.9h0M703 146.9h0M703.1 128.2h0M703.1 139.3h0M703.1 112.9h0M703.3 122h0M703.3 128.4h0M703.5 151.1h0M703.6 114.5h0M704.1 111.5h0M704.1 142.8h0M704.5 124.1h0M704.6 153.2h0M704.6 106.4h0M704.7 109.6h0M704.7 130.6h0M704.9 153h0M704.9 112.8h0M704.9 131.2h0M705.1 154.1h0M705.2 119.3h0M705.2 137.7h0M705.3 135.6h0M705.4 135h0M705.6 149.8h0M705.6 128.9h0M705.7 154.9h0M705.8 113.5h0M705.8 113.2h0M706 155.2h0M706.1 154.2h0M706.1 133.8h0M706.4 131.6h0M706.4 148h0M706.4 127.8h0M706.5 125.6h0M706.6 134.6h0M706.8 155.4h0M706.8 129h0M707 156h0M707.1 153.3h0M707.2 142.8h0M707.5 155.9h0M707.6 139.4h0M707.9 132.2h0M707.9 147.1h0M707.9 130.2h0M708 149.5h0M708.1 153.1h0M708.5 136.5h0M708.5 155.8h0M708.5 142h0M708.7 135h0M708.8 154.8h0M708.8 145.9h0M708.9 136.9h0M708.9 139.6h0M709.2 135h0M709.3 154.2h0M709.5 155h0M709.6 145.5h0M710.1 147.2h0M710.1 156.5h0M710.1 156.6h0M710.1 153.7h0M710.2 130.9h0M710.3 153.9h0M710.3 132.1h0M710.4 143.5h0M710.5 156.6h0M710.9 131.8h0M711 147.5h0M711 128.7h0M711.1 138.3h0M711.2 138.3h0M711.2 135.7h0M711.4 153.3h0M711.7 135.9h0M711.8 157.6h0M711.8 124.4h0M711.9 154.7h0M712.1 130.2h0M712.1 136.5h0M712.2 157h0M712.4 121.7h0M712.4 157h0M712.5 131.3h0M712.7 131.6h0M712.8 122.2h0M712.8 119.7h0M712.9 156.9h0M713.1 158.7h0M713.1 145h0M713.3 151.4h0M713.3 119.2h0M713.5 146.2h0M713.7 155.2h0M713.8 123.3h0M713.9 119.7h0M714 129.3h0M714 138.4h0M714 150.2h0M714.3 132.1h0M714.3 158h0M714.4 134.4h0M714.5 138.9h0M714.6 165.3h0M715 172h0M715 140.4h0M715 140.7h0M715.2 176h0M715.3 141.1h0M715.6 160h0M715.6 162.7h0M715.7 142.4h0M715.7 183.2h0M715.7 140.1h0M715.7 140.5h0M715.8 183.1h0M715.8 140h0M716 165.3h0M716 149.2h0M716.4 140.7h0M716.4 174.2h0M716.6 180.1h0M716.6 160.8h0M716.7 141.2h0M716.8 173.5h0M716.8 140.7h0M717 160.3h0M717.1 149.5h0M717.2 178.9h0M717.2 145.3h0M717.3 167.4h0M717.4 178.7h0M717.4 153.3h0M717.7 166.3h0M717.8 152h0M717.8 151.3h0M717.8 148.3h0M717.9 167.8h0M718.2 157.7h0M718.2 142.5h0M718.3 178.4h0M718.4 148.9h0M718.5 145.9h0M718.6 165.9h0M718.6 140.7h0M718.8 149.8h0M718.8 159h0M718.8 149.2h0M719 141.2h0M719 159.5h0M719.1 157.5h0M719.3 141.3h0M719.3 147.7h0M719.3 153.9h0M719.4 177.9h0M719.4 174.8h0M719.5 141.4h0M719.5 177.1h0M719.7 165.1h0M719.7 141.8h0M719.7 178.8h0M720 160.1h0M720.2 150.6h0M720.3 142.2h0M720.3 141.7h0M720.3 178.3h0M720.5 167.1h0M720.6 142.1h0M720.6 157.8h0M720.7 153.3h0M720.9 151h0M721 155.3h0M721 169h0M721.2 159.5h0M721.3 162.4h0M721.3 140.8h0M721.3 143.4h0M721.4 142.8h0M721.4 169.7h0M721.6 167.8h0M721.7 147.1h0M721.8 155.1h0M722.2 142.5h0M722.3 156h0M722.8 141h0M722.8 152.5h0M723.1 146.5h0M723.1 158.7h0M723.2 155.1h0M723.4 156.7h0M723.5 147.1h0M723.7 148.6h0M723.7 144.3h0M723.8 143.4h0M723.8 148h0M723.9 156.5h0M724.1 139.9h0M724.3 152.5h0M724.4 146.1h0M724.5 140.8h0M724.5 149.8h0M724.6 138.4h0M724.7 151h0M724.8 156.4h0M725 141.4h0M725.1 151.2h0M725.1 155.9h0M725.2 124.4h0M725.3 143.8h0M725.3 131.6h0M725.5 121.2h0M725.6 152.7h0M725.7 123.8h0M725.8 124h0M726 124.7h0M726 120.4h0M726 130.7h0M726.3 135.5h0M726.4 119.9h0M726.4 120.1h0M726.4 148.9h0M726.5 147.9h0M726.6 136h0M726.6 119.7h0M726.9 136.9h0M727 140.2h0M727.1 125.5h0M727.1 123.6h0M727.1 128.1h0M727.4 119.4h0M727.4 127.6h0M727.6 120.7h0M727.6 122h0M727.7 119.3h0M728 152.5h0M728.2 159h0M728.3 154.1h0M728.3 158.1h0M728.6 119.7h0M728.7 159.8h0M728.7 113.5h0M728.8 124.3h0M728.8 128.7h0M729.2 154.1h0M729.2 144.2h0M729.3 152h0M729.3 144.2h0M729.4 113.4h0M729.5 143h0M729.6 136.1h0M729.8 150.5h0M729.9 133.2h0M730.2 126.3h0M730.2 160.4h0M730.2 147.3h0M730.3 159.4h0M730.3 120.1h0M730.3 158.6h0M730.3 120.8h0M730.3 133.4h0M730.7 123.5h0M730.7 160.3h0M730.9 154.4h0M730.9 151h0M731.1 135.7h0M731.2 156.6h0M731.3 152.8h0M731.3 161.5h0M731.3 129.2h0M731.7 152.2h0M731.7 135.6h0M731.8 141h0M732 158.3h0M732.1 136h0M732.2 148.7h0M732.5 155.2h0M732.6 152.3h0M732.6 131.1h0M732.6 161.2h0M732.6 160h0M733 157.1h0M733 161.2h0M733 135.9h0M733.2 161.7h0M733.3 148.8h0M733.4 158h0M733.6 133h0M733.6 132h0M733.8 132.1h0M733.9 143.3h0M734 161.8h0M734.1 146.2h0M734.2 135.7h0M734.3 154.4h0M734.4 156.3h0M734.6 131.2h0M734.7 161h0M734.7 131.3h0M734.8 160.4h0M734.8 158h0M734.8 160.7h0M734.9 141.4h0M735 132.6h0M735.3 162.3h0M735.3 159.9h0M735.6 129.6h0M735.7 161.1h0M735.8 143h0M735.9 130.4h0M736.1 142.9h0M736.3 162.5h0M736.4 144.6h0M736.7 138.2h0M736.7 135.3h0M736.8 160.2h0M736.8 152.8h0M736.9 162.5h0M737 159.4h0M737.2 156.1h0M737.3 157.9h0M737.5 139.4h0M737.6 139.7h0M737.6 153.2h0M737.7 162.4h0M737.9 150.7h0M737.9 148.7h0M738 146.9h0M738 142.6h0M738.1 140.1h0M738.3 151.3h0M738.3 155.3h0M738.3 161.2h0M738.4 144.8h0M738.4 144.8h0M738.6 162.8h0M738.7 146.4h0M738.7 161.7h0M738.9 148.2h0M739 152.2h0M739 142.6h0M739.2 143.4h0M739.3 162.9h0M739.3 157.5h0M739.4 156.1h0M739.5 160.5h0M739.8 140.7h0M739.8 162.7h0M739.9 163.2h0M740 153.4h0M740.1 163h0M740.3 142.7h0M740.6 141.3h0M740.7 141.2h0M740.8 145.5h0M740.8 140.4h0M741.1 158.9h0M741.3 144.6h0M741.3 140h0M741.5 153.9h0M741.6 147.3h0M742.3 158.5h0M742.3 149.4h0M742.5 136.8h0M742.5 152.1h0M742.6 136.6h0M742.6 137.5h0M742.7 143.9h0M742.8 157.2h0M742.8 157.8h0M742.9 154h0M743 157.2h0M743.1 136.4h0M743.1 140.7h0M743.2 143.4h0M743.3 141h0M743.4 134.9h0M743.4 147.2h0M743.9 127.1h0M744 127.2h0M744.1 127.6h0M744.1 135.3h0M744.5 153.6h0M744.5 151.5h0M744.7 133.3h0M744.7 133.8h0M744.7 146h0M744.9 130.8h0M745 150.5h0M745.1 127.6h0M745.3 150.5h0M745.3 150.3h0M745.3 137.3h0M745.4 144.2h0M745.5 150.1h0M745.5 152.9h0M745.6 128.6h0M745.7 143.6h0M746.2 145.2h0M746.2 156.1h0M746.4 140.1h0M746.7 155.4h0M746.9 134h0M746.9 146.3h0M747.2 143.1h0M747.6 143.5h0M747.7 155.1h0M747.8 145.4h0M747.8 149.9h0M747.9 154.9h0M748.4 147.4h0M748.4 156.5h0M748.5 151.4h0M749 150.6h0M749.1 149.3h0M749.3 154.3h0M749.5 149.8h0M749.5 158.6h0M749.9 159.8h0M750.1 151.2h0M750.7 159.5h0M750.7 152.9h0M750.8 152.2h0M751 154.5h0M751.3 152.6h0M751.6 163.4h0M751.9 158.3h0M752 164.7h0M752.2 158.5h0M752.2 154.5h0M752.3 153.4h0M752.5 153.5h0M752.7 154.2h0M752.8 153.9h0M753 164.9h0M753 156.6h0M753 166.3h0M754 160.3h0M754.1 166.3h0M754.2 169.9h0M754.4 170.1h0M754.5 171.1h0M754.6 161.1h0M754.6 156.3h0M755.2 161.2h0M755.3 157.3h0M755.5 163.6h0M755.6 173h0M755.7 160.7h0M755.8 159.5h0M755.9 168.9h0M756.1 159.8h0M756.3 166h0M756.8 275.7h0M756.9 196.9h0M757.1 235.3h0M757.6 223.7h0M757.6 227.4h0M757.7 275.7h0M757.8 252h0M757.8 276h0M757.8 262.4h0M757.9 251h0M758 238.6h0M758.1 225.9h0M758.2 276.4h0M758.3 275.5h0M758.4 259.1h0M758.4 257.5h0M758.4 203.5h0M758.5 238.8h0M758.6 249.7h0M758.6 276.2h0M758.7 262.2h0M758.7 276.3h0M758.9 216.7h0M759 256.1h0M759.6 207h0M759.8 271h0M759.8 258.4h0M759.9 217.2h0M760 244.5h0M760 238.5h0M760.1 249.1h0M760.1 216.8h0M760.1 216.9h0M760.4 247.6h0M760.4 253.1h0M760.4 226.2h0M760.6 209.5h0M760.7 262.9h0M760.9 253.5h0M761 208.8h0M761.2 254.3h0M761.2 239.6h0M761.3 270.5h0M761.3 208.9h0M761.3 262.2h0M761.5 269.3h0M761.5 220.3h0M761.5 208.8h0M761.6 210.9h0M761.7 243.3h0M761.9 247.3h0M762.1 250.6h0M762.4 252.8h0M762.6 271.4h0M762.6 244.4h0M762.7 226.1h0M763.2 210.5h0M763.2 271.6h0M763.4 264.5h0M763.4 218.4h0M763.4 250.8h0M763.6 223.4h0M763.7 247.8h0M763.8 267.2h0M763.9 262.9h0M764 262.1h0M764 266h0M764 210h0M764.1 256h0M764.1 224.2h0M764.1 249.1h0M764.1 261.5h0M764.2 241.2h0M764.3 215.3h0M764.4 227.8h0M764.4 256.8h0M764.5 209.8h0M764.6 239.2h0M764.6 209.8h0M764.9 229.4h0M764.9 265.5h0M765.1 265.1h0M765.2 264.4h0M765.4 253.6h0M765.4 265.4h0M765.8 251.1h0M766 257.8h0M766 252.9h0M766 218.3h0M766.2 211.7h0M766.2 234.9h0M766.2 214.7h0M766.3 215.2h0M766.4 263.9h0M766.7 235.6h0M766.7 265.2h0M766.7 262.4h0M766.8 211.3h0M766.9 246h0M767.2 238.8h0M767.3 257.3h0M767.3 248.3h0M767.4 254.4h0M767.5 235.9h0M767.6 261.8h0M767.7 266h0M767.7 242.9h0M767.7 255.6h0M767.7 242.3h0M767.8 245.5h0M767.9 263h0M768 258.7h0M768 268.3h0M768 265.6h0M768.1 269h0M768.1 268.4h0M768.3 267.7h0M768.5 264.1h0M768.6 274.5h0M768.8 273.4h0M769 271.6h0M769.4 339.4h0M769.5 276.1h0M769.5 339.6h0M769.5 277h0M769.7 338.1h0M769.7 335.4h0M769.7 309h0M769.8 290.7h0M769.8 289.4h0M769.9 301.4h0M769.9 285.1h0M769.9 311h0M770 281h0M770.1 280.1h0M770.2 312.1h0M770.2 281.1h0M770.3 339.2h0M770.4 289.7h0M770.5 310.2h0M770.5 307.3h0M770.5 300h0M770.6 298.5h0M770.7 320.7h0M770.7 282.6h0M770.8 331.9h0M770.8 308.1h0M770.9 326.6h0M771.2 299.9h0M771.2 330.6h0M771.2 296.2h0M771.3 313.6h0M771.4 300.9h0M771.4 309.2h0M771.5 310.7h0M771.5 295.7h0M771.5 299.1h0M771.6 307h0M771.6 284h0M771.7 294h0M772 301.6h0M772 283.7h0M772.3 291.9h0M772.7 301.9h0M772.7 326.7h0M772.8 312.1h0M772.8 310.5h0M772.9 325.5h0M773 319.8h0M773.4 319.9h0M774.1 326.7h0M774.1 292.6h0M774.5 291.9h0M774.6 303.5h0M774.7 301.3h0M774.8 308.1h0M774.9 329.9h0M774.9 313h0M775 293.3h0M775.5 292.7h0M775.6 310.5h0M775.6 313.6h0M775.6 293.9h0M775.7 315h0M775.8 296h0M775.8 292.7h0M775.8 301.9h0M775.8 310.9h0M775.8 311.3h0M775.9 331.4h0M776.1 296.6h0M776.1 315.2h0M776.3 329.5h0M776.3 330.7h0M776.4 303.9h0M776.4 296.1h0M776.4 310.4h0M776.5 308.3h0M776.7 332.9h0M776.8 333.3h0M777.1 298.6h0M777.2 301.5h0M777.2 335.2h0M777.2 334.1h0M777.2 321.9h0M777.3 328.7h0M777.3 311.1h0M777.5 325.3h0M777.5 338.6h0M777.6 299.7h0M777.6 305h0M777.6 326.2h0M777.7 298.3h0M777.7 361.2h0M777.8 355.7h0M777.8 293.2h0M777.9 297.8h0M777.9 344.8h0M777.9 307h0M778 303.3h0M778 296.3h0M778.1 310.4h0M778.3 296.8h0M778.5 329.5h0M778.5 355.7h0M778.6 358.6h0M778.7 338.7h0M778.7 313.6h0M778.8 327.7h0M778.8 361.1h0M779 293.6h0M779.1 321.4h0M779.1 326.5h0M779.2 293.1h0M779.3 293.4h0M779.4 294.5h0M779.6 327.1h0M779.6 310.9h0M779.7 293.5h0M779.8 296.8h0M779.8 293h0M780.2 298.3h0M780.2 298.7h0M780.3 303.6h0M780.4 312.2h0M780.4 320.5h0M780.5 329.3h0M780.6 312h0M780.6 322.7h0M780.6 295.2h0M780.7 305h0M780.7 302.7h0M780.8 292.8h0M781 293.1h0M781 306.9h0M781.2 308.8h0M781.4 292.2h0M781.5 302.2h0M781.5 292.4h0M781.8 317.9h0M781.8 293.4h0M781.9 306.8h0M782 315.2h0M782.1 317.4h0M782.2 305.3h0M782.2 292.6h0M782.4 309.2h0M782.4 292h0M782.5 313.4h0M782.8 303.6h0M782.8 302.2h0M783 300.4h0M783.1 299h0M783.1 310.7h0M783.2 309.6h0M783.4 305.7h0M783.5 314.6h0M783.6 291.3h0M783.8 291.6h0M783.9 297.5h0M784.1 298.9h0M784.3 302.4h0M784.5 313.7h0M784.5 299.5h0M784.6 296.3h0M784.7 293.7h0M784.7 295.4h0M784.9 291.6h0M785.5 307.1h0M785.5 290.4h0M785.7 311.7h0M785.8 290.1h0M786 313.5h0M786.1 299.2h0M786.3 312.5h0M786.3 291.2h0M786.5 286.5h0M786.8 283.7h0M786.8 282.1h0M786.9 281.5h0M787.2 294.1h0M787.3 284.5h0M787.4 284.2h0M787.5 289.6h0M787.7 285h0M787.9 286.8h0M788 284.1h0M788.1 286h0M788.6 270.7h0M788.8 273.8h0M788.8 272.5h0M789 283.4h0M789 286.2h0M789.3 286.9h0M789.3 238.5h0M789.3 249.3h0M789.4 286.7h0M789.5 286.4h0M789.5 243.4h0M789.6 228h0M789.7 273.4h0M789.7 223.1h0M789.7 286.7h0M789.7 246.3h0M790 222.4h0M790.1 239.3h0M790.1 266.2h0M790.2 223h0M790.2 284.1h0M790.4 226.1h0M790.4 242h0M790.6 222.3h0M790.7 240.3h0M790.7 285.6h0M790.7 282.7h0M790.9 244.7h0M791.4 228.2h0M791.6 262.2h0M791.7 265.5h0M791.8 241.6h0M791.9 262.6h0M791.9 271.5h0M792.1 283h0M792.2 248h0M792.3 273.5h0M792.3 273h0M792.3 267.9h0M792.4 274.6h0M792.4 277.3h0M792.5 277.3h0M792.5 270.6h0M792.6 269.7h0M792.7 248.4h0M792.9 282.7h0M793.1 248.7h0M793.2 264.9h0M793.2 273.6h0M793.3 267.1h0M793.4 262.3h0M793.4 257.6h0M793.7 249h0M793.7 269h0M793.9 257.2h0M794 267h0M794.5 276.4h0M794.5 256h0M794.6 264.5h0M794.6 283.1h0M794.7 256.2h0M794.9 249.5h0M794.9 248.7h0M795.1 269.7h0M795.3 281.2h0M795.3 248.8h0M795.4 263.8h0M795.4 248.5h0M795.4 254.6h0M795.6 249.1h0M795.7 248.2h0M796.3 283.7h0M796.4 284.7h0M796.4 284.8h0M796.6 265.3h0M796.7 226.6h0M796.7 250.9h0M796.9 223.7h0M797 223.7h0M797.1 223.4h0M797.1 268.4h0M797.4 223.2h0M797.5 226.5h0M797.6 262.8h0M797.7 282.9h0M797.7 272h0M797.8 280.2h0M797.9 260.5h0M798 284.3h0M798.2 253h0M798.3 251.5h0M798.3 235.5h0M798.5 270.6h0M798.5 260.6h0M798.7 262.7h0M798.7 239.1h0M799.2 240.8h0M799.3 238.3h0M799.4 266.9h0M799.4 265.4h0M799.4 255.9h0M799.5 250.1h0M799.6 248.7h0M799.6 275.7h0M799.8 247.4h0M799.8 268.5h0M799.8 288.9h0M799.8 267.5h0M800 286.6h0M800.4 246.6h0M800.4 269.9h0M800.5 289.7h0M801.2 265.9h0M801.4 257.7h0M801.4 275.9h0M801.4 266h0M801.4 264.2h0M801.4 278.5h0M801.5 280.8h0M801.6 292.4h0M801.6 292.5h0M801.6 291.5h0M801.7 256.6h0M801.7 279.9h0M801.7 254.9h0M801.8 292.6h0M801.8 256.7h0M801.9 287.6h0M802.1 265.8h0M802.3 290.3h0M802.3 278.1h0M802.8 281.8h0M802.8 290h0M802.9 283.2h0M802.9 293.8h0M802.9 262.8h0M802.9 266.6h0M803.1 294.7h0M803.1 262.1h0M803.2 258.8h0M803.3 294.6h0M803.3 268.3h0M803.4 262.2h0M803.4 267h0M803.4 260.7h0M803.7 292.7h0M803.7 283.9h0M803.7 259.8h0M803.7 292.9h0M803.7 258.8h0M803.8 286.7h0M803.9 260.2h0M803.9 291.7h0M803.9 295.1h0M804 264.9h0M804.1 258.9h0M804.1 280.1h0M804.1 273.2h0M804.1 281.8h0M804.1 294.4h0M804.2 291.1h0M804.2 270.3h0M804.3 258.9h0M804.6 280.9h0M804.6 294.4h0M804.7 262.9h0M804.7 277.2h0M804.7 275.5h0M804.8 258.5h0M804.8 294.8h0M804.8 287.3h0M804.8 269.3h0M804.9 272.7h0M805 272.1h0M805 279h0M805.1 296.3h0M805.4 278h0M805.4 259.4h0M805.4 286h0M805.5 258.9h0M805.6 258h0M805.7 266.5h0M805.7 296h0M806.1 265.6h0M806.1 296.1h0M806.1 296.1h0M806.2 285.8h0M806.3 282.2h0M806.4 288.4h0M806.4 274.5h0M806.7 277.5h0M806.7 288.7h0M806.8 270.1h0M806.8 272.7h0M806.8 273.4h0M806.9 290.4h0M807 258.6h0M807.4 282.3h0M807.9 294h0M808 276.3h0M808.4 267.8h0M808.4 277.5h0M808.5 296.1h0M808.6 268.2h0M808.8 292.7h0M808.9 268.6h0M809 268.7h0M809 270.2h0M809.1 296.8h0M809.1 272.7h0M809.2 276.3h0M809.6 293.5h0M809.7 285.3h0M809.8 271.3h0M809.8 277.8h0M809.8 275.1h0M810.1 288.4h0M810.1 281.3h0M810.3 300.5h0M810.4 281.6h0M810.4 281.5h0M810.4 286.2h0M810.5 300.6h0M810.5 295.8h0M810.6 274.5h0M810.8 281.3h0M810.9 300.2h0M811 292.7h0M811 291.1h0M811 294.2h0M811.1 293h0M811.1 284.8h0M811.3 300.9h0M811.6 281.8h0M812 288.6h0M812.1 289.1h0M812.2 290.4h0M812.6 301.4h0M812.7 303.1h0M812.7 303h0M812.8 302.9h0M812.9 277.3h0M813 302.4h0M813.1 298.1h0M813.1 303.6h0M813.2 286h0M813.3 303.4h0M813.3 277.9h0M813.5 291.2h0M813.7 289.5h0M813.7 301.9h0M813.7 302.2h0M813.8 284h0M813.8 304.7h0M814.1 279.3h0M814.1 303.9h0M814.2 285.9h0M814.2 279.6h0M814.2 285.1h0M814.3 304.9h0M814.8 306.5h0M815.1 280.4h0M815.1 306.7h0M815.3 283.8h0M815.3 297.4h0M815.4 288.4h0M815.6 294.9h0M815.7 306.3h0M815.7 308.3h0M815.7 289h0M815.9 288.8h0M816.2 297.4h0M816.4 296.8h0M816.5 310.2h0M816.8 299.5h0M816.9 289.6h0M817.2 281.2h0M817.4 287.6h0M817.5 312.3h0M817.5 281.2h0M817.6 306.5h0M817.8 297.8h0M817.8 290.6h0M818 282.6h0M818.2 312.4h0M818.4 280.7h0M818.5 308h0M818.7 289.9h0M818.7 308.5h0M818.7 299.3h0M818.7 281.4h0M818.8 296.3h0M818.8 285.5h0M818.8 288.8h0M819 315.3h0M819 305.9h0M819.1 298.3h0M819.1 311.7h0M819.1 294.8h0M819.2 289.2h0M819.2 315h0M819.3 306.8h0M819.4 291.6h0M819.5 319.9h0M819.6 279.8h0M819.6 291.9h0M819.7 315.1h0M819.7 319.9h0M819.8 294.4h0M819.9 315.4h0M820.1 299.3h0M820.2 319.2h0M820.3 281.4h0M820.4 288.4h0M820.4 312h0M820.6 317.6h0M820.7 297.1h0M820.8 318.4h0M820.9 311.4h0M821 308.2h0M821 284.9h0M821.1 279.8h0M821.1 316.7h0M821.1 305.3h0M821.2 317h0M821.3 307.8h0M821.4 311.5h0M821.4 303.8h0M821.6 309.4h0M821.6 277.5h0M821.6 283.6h0M821.7 306h0M822 308.3h0M822.1 299.6h0M822.3 283.5h0M822.3 302h0M822.4 284.7h0M822.6 286.2h0M822.7 286.6h0M822.7 307.6h0M822.8 291.6h0M822.9 307.3h0M823 305.4h0M823 285h0M823 292.8h0M823 295.7h0M823.1 304h0M823.2 301.8h0M823.2 294.3h0M823.3 311.1h0M823.4 313.1h0M823.4 313.5h0M823.5 292.2h0M823.5 285.7h0M823.8 286.4h0M823.9 311.8h0M824 310.6h0M824 294.9h0M824.2 305.1h0M824.6 290h0M824.6 307.7h0M824.6 307h0M824.6 302h0M824.7 304.9h0M824.8 292.3h0M824.8 312.2h0M825.1 305.2h0M825.1 304.2h0M825.1 309.9h0M825.4 312.7h0M825.5 298.3h0M825.7 312.4h0M825.7 299.3h0M825.7 298h0M826.1 289.8h0M826.1 298.8h0M826.3 290.1h0M826.5 298.9h0M826.6 294h0M826.7 301.7h0M826.8 295.3h0M826.8 292.3h0M826.9 300.5h0M826.9 308.8h0M827 303.9h0M827.2 298h0M827.6 310.5h0M827.7 300.9h0M827.7 310.7h0M827.8 310.3h0M827.8 302.4h0M827.9 304.9h0M827.9 297.9h0M828.1 309.8h0M828.1 292.2h0M828.1 301.6h0M828.5 308.2h0M828.5 302.8h0M828.6 300.7h0M828.7 294.1h0M828.7 303h0M828.9 295.1h0M829.2 294.9h0M829.5 305.5h0M829.6 300.5h0M829.7 302.8h0M829.8 301.4h0M829.8 302.5h0M830 304.2h0M830.3 300.6h0M830.6 302.2h0M830.6 299.8h0M830.9 306.3h0M830.9 295.1h0M831.1 295h0M831.2 296.2h0M831.5 294.9h0M831.6 304.6h0M832 300.9h0M832.4 293.9h0M833.2 295.3h0M833.5 299.2h0M833.6 296.1h0M833.7 295.7h0M833.9 299.7h0M833.9 298.7h0M834.1 294.2h0M834.3 292.6h0M834.6 295.3h0M834.6 295.3h0M834.6 291.9h0M834.6 294h0M835.1 290.7h0M835.4 280.5h0M835.4 281.9h0M835.4 296.8h0M835.5 289.5h0M835.6 277h0M835.6 284.1h0M835.6 296.6h0M835.8 278.9h0M835.9 280.4h0M835.9 270.3h0M836 296.5h0M836.1 296.5h0M836.2 296.2h0M836.2 271.2h0M836.3 258.7h0M836.4 258.6h0M836.6 258.3h0M836.6 274.2h0M836.7 294.8h0M836.8 276.1h0M836.9 276.5h0M836.9 267h0M836.9 274.1h0M837.1 272.9h0M837.1 293.2h0M837.5 290.9h0M837.5 270.7h0M837.7 278.1h0M837.8 263.2h0M837.9 269.2h0M837.9 261.5h0M838 286.5h0M838.1 287.6h0M838.1 249.5h0M838.2 258h0M838.2 261.7h0M838.2 248h0M838.4 259.3h0M838.4 279.5h0M838.5 287.1h0M838.5 269.5h0M838.7 248.6h0M838.8 243.1h0M839 256h0M839.1 263.4h0M839.2 255.5h0M839.3 280.5h0M839.3 238.5h0M839.3 244.8h0M839.5 283.2h0M839.6 251.8h0M839.7 279.5h0M839.7 248.9h0M840.4 241h0M840.5 241.2h0M840.5 280h0M840.7 255.7h0M840.8 245.8h0M840.8 243.1h0M840.9 243.4h0M841 279.4h0M841 257.6h0M841.2 245.3h0M841.3 258.2h0M841.7 268.5h0M841.7 270.5h0M841.7 265h0M841.7 255.9h0M842.2 268.9h0M842.2 267.2h0M842.2 248.7h0M842.3 277.5h0M842.5 248.5h0M842.6 257.9h0M842.8 250.4h0M842.9 276.6h0M843 250.2h0M843 269.6h0M843 255.3h0M843.1 261.8h0M843.1 256.2h0M843.2 261h0M843.2 277.4h0M843.2 276.2h0M843.2 276.3h0M843.3 261.7h0M843.4 257.4h0M843.5 268.4h0M843.6 273.8h0M843.7 260.4h0M843.9 257.4h0M843.9 254.3h0M843.9 269.2h0M844 255.1h0M844.1 257.5h0M844.4 262.2h0M844.5 272.2h0M844.6 278.4h0M844.7 276h0M844.8 274.1h0M845 278.4h0M845.1 269.9h0M845.3 278.3h0M845.5 266.7h0M845.7 281.2h0M845.7 264.7h0M845.9 271.1h0M845.9 273.4h0M846.1 282.2h0M846.1 278.2h0M846.2 268.4h0M846.4 279.8h0M846.7 280.4h0M846.7 276.1h0M846.9 275.7h0M847.2 283.1h0M847.3 286.2h0M847.5 282.4h0M847.6 277.9h0M847.7 288.3h0M847.7 281.4h0M847.7 286.5h0M848 283.7h0M848.1 281.4h0M848.2 284.3h0M848.5 284.2h0M848.8 291.6h0M849.4 295.3h0M849.6 294.5h0M849.6 297.5h0M849.9 302.6h0M850 294.5h0M850.1 301.8h0M850.2 299.5h0M850.2 300.7h0M850.6 298.6h0M850.6 289.1h0M850.7 293.9h0M850.9 299.5h0M851 292h0M851.1 300.4h0M851.2 288.3h0M851.3 293.8h0M851.9 288.5h0M852.3 286h0M852.3 287.7h0M852.4 287.4h0M852.7 285.1h0M852.7 283.6h0M853.3 271.7h0M853.4 286.9h0M853.5 276.3h0M853.7 267.6h0M853.7 278.8h0M853.8 280.5h0M854 276.3h0M854.1 269.8h0M854.6 268.3h0M854.8 268.7h0M855.7 262.4h0M855.7 264.7h0M855.7 257.2h0M855.9 267.5h0M856 267.6h0M856.1 254.7h0M856.2 252.2h0M856.2 253.3h0M856.2 262.6h0M856.5 252.1h0M857.1 265.6h0M857.1 246.7h0M857.3 257.4h0M857.4 263.8h0M857.5 262.8h0M857.5 234.8h0M857.5 237.6h0M857.6 239.8h0M857.6 246.8h0M857.7 257h0M857.9 233.8h0M858 251.8h0M858.2 240.3h0M858.2 256.4h0M858.2 238.5h0M858.2 261.3h0M858.3 244h0M858.4 251.4h0M858.4 264.3h0M858.7 261.8h0M858.9 256.5h0M859 246.6h0M859.1 262h0M859.1 263.6h0M859.2 246.6h0M859.3 246.2h0M859.4 248.7h0M859.5 262.6h0M860 252.8h0M860 253h0M860.1 258.4h0M860.3 255.7h0M860.4 258.3h0M860.5 260.7h0M860.7 248h0M860.7 254.8h0M860.9 248.7h0M861.1 247.8h0M861.4 259.9h0M861.6 257.2h0M862.2 256.8h0M862.3 258.9h0M862.3 247.2h0M862.6 249.7h0M862.7 259.2h0M863.1 245.7h0M863.4 244.9h0M863.4 254.8h0M863.6 244.7h0M863.6 243.4h0M864 245.8h0M864.1 259.3h0M864.1 240.4h0M864.2 241h0M864.7 237.6h0M864.7 236.7h0M864.9 259.6h0M865 248.3h0M865.1 242.8h0M865.1 252.7h0M865.1 235.4h0M865.2 246.4h0M865.2 259.2h0M865.3 239.5h0M865.3 236.9h0M865.3 256.7h0M865.4 255.9h0M865.5 237.4h0M865.6 248.1h0M865.8 230.9h0M865.8 230.9h0M865.8 249.5h0M865.9 259.7h0M866 232.4h0M866.2 259.3h0M866.2 255.5h0M866.3 232.1h0M866.3 228.3h0M866.4 228.3h0M866.4 247h0M866.4 245.9h0M866.5 238h0M866.5 242.4h0M866.7 260.3h0M866.8 252.8h0M866.8 253.8h0M866.9 225.4h0M867 237.5h0M867 253.1h0M867.1 243.1h0M867.2 225.1h0M867.5 252.8h0M867.6 252.2h0M867.6 219.8h0M867.7 245.8h0M867.8 260.3h0M867.9 242.6h0M868 260.9h0M868 230.8h0M868.1 260.5h0M868.4 261.3h0M868.7 245.2h0M868.9 235.9h0M869.1 250.1h0M869.1 229.2h0M869.1 261.8h0M869.1 261h0M869.2 207.4h0M869.3 204.7h0M869.3 250.6h0M869.7 262.1h0M869.7 204.8h0M869.7 234.2h0M869.8 245.6h0M869.9 253.2h0M869.9 242.5h0M870.1 250.3h0M870.3 250.5h0M870.4 219.9h0M870.4 239.2h0M870.6 219.3h0M870.7 233.6h0M870.8 248h0M870.8 221.1h0M871.2 262.3h0M871.2 263.2h0M871.2 251.8h0M871.4 259.7h0M871.6 249.3h0M871.7 257.3h0M871.8 241.1h0M871.8 232h0M871.8 224.4h0M871.9 249h0M872 257.6h0M872.1 225.1h0M872.2 256.3h0M872.2 224.5h0M872.3 234.3h0M872.5 225.9h0M872.6 255.3h0M872.6 229h0M872.7 250.4h0M872.7 248.5h0M872.7 243.7h0M872.7 241.5h0M872.8 225.1h0M872.8 230.9h0M872.9 237.3h0M872.9 239.5h0M873 245.7h0M873.1 245.7h0M873.4 234.2h0M873.4 230.8h0M873.4 239.6h0M873.8 227h0M874.7 233.9h0M874.8 245.1h0M874.9 232.3h0M875.4 224.7h0M875.4 245.5h0M876.6 225h0M876.6 232.3h0M877 226.3h0M877 240.5h0M877 222.9h0M877.6 233.9h0M877.7 222.6h0M877.9 230.1h0M878.6 225.7h0M878.9 224.5h0M879.1 216.1h0M879.2 224h0M879.2 214.2h0M879.4 217.4h0M879.6 222.8h0M879.6 206.1h0M879.6 206.8h0M880 214h0M880.2 220.8h0M880.3 205.3h0M880.4 214.2h0M880.4 219.2h0M880.5 210.1h0M880.7 218.7h0M880.7 193.5h0M880.7 219h0M880.8 193.9h0M881 212.4h0M881 197.4h0M881 206.4h0M881 193.3h0M881.1 217.2h0M881.1 216.6h0M881.4 193.7h0M881.4 202.6h0M881.6 216.5h0M881.7 200.3h0M881.8 211h0M881.9 212.9h0M882 204.9h0M882 210.2h0M882.3 215.7h0M882.5 200.9h0M882.5 213.9h0M882.9 213.3h0M883.5 214h0M883.6 197.8h0M884.2 213.9h0M884.2 211.6h0M884.2 198.7h0M884.2 213.9h0M884.7 203.1h0M884.8 201.8h0M884.9 200.8h0M885.2 202.8h0M885.2 201.3h0M885.3 210.7h0M885.5 212.8h0M885.8 202.1h0M885.8 204.3h0M886.1 211.9h0M886.3 212.8h0M886.4 206h0M886.7 209.5h0M886.7 208.3h0M886.9 210.2h0M883.3 477.8h0M883.3 477.8h0M883.4 480.4h0M883.4 478.7h0M883.5 478.2h0M883.7 480h0M883.9 478.7h0M884.1 479.7h0M884.2 480h0M884.6 478.4h0M884.8 479.3h0M884.9 481.2h0M885 480.6h0M885.2 479.6h0M885.3 480.8h0M885.3 479.2h0M885.4 475.5h0M885.5 477.6h0M885.7 475.5h0M885.8 476.8h0M886.1 474.7h0M886.4 480.4h0M886.4 481.7h0M886.6 480.7h0M887.4 477.6h0M887.5 476.7h0M887.5 484.6h0M887.6 478.7h0M888 479h0M888.1 479.1h0M888.4 484.2h0M889.1 481.5h0M889.3 483.6h0M889.5 482.3h0M889.8 490.4h0M890.2 491.3h0M890.2 485.4h0M890.4 481.8h0M890.7 486.9h0M891.7 497.4h0M891.9 484.3h0M892.3 486.3h0M892.3 494.3h0M892.7 490.4h0M892.9 493.1h0M893 497.3h0M893.1 491.2h0M893.2 487.9h0M893.3 484.5h0M893.4 487.2h0M893.4 484.5h0M893.6 484.6h0M893.8 488h0M893.8 487.7h0M894.3 485.7h0M894.3 494.8h0M895 499.9h0M895.1 494.4h0M895.1 493.5h0M895.2 498.8h0M896.1 485.4h0M896.1 496.8h0M896.1 489.1h0M896.2 500h0M896.3 499.5h0M896.4 487.2h0M896.6 485.7h0M896.9 485.4h0M897.4 488.9h0M897.4 488.7h0M897.6 483h0M897.7 485.7h0M897.8 480.8h0M898.1 480.7h0M898.2 486h0M898.7 485.9h0M898.7 487.2h0M898.8 473.9h0M899.1 473h0M899.2 475.8h0M899.3 485.1h0M899.4 478.1h0M900.2 482.5h0M900.6 484.3h0M901 471.3h0M901.5 471.4h0M901.8 476.2h0M901.9 476.6h0M902.7 470.2h0M902.9 478.7h0M903 473.2h0M903.1 470.6h0M903.2 476.7h0M903.3 481.7h0M903.5 470.2h0M903.5 470.3h0M903.7 478.1h0M903.8 471.3h0M904 479.3h0M904.3 478.1h0M905.1 476.9h0M905.3 481.5h0M905.3 474.3h0M905.5 476.3h0M905.6 481.7h0M906.2 475.5h0M906.3 478.8h0M906.7 477.6h0M907.1 479h0M907.1 488.4h0M907.5 477.8h0M907.5 484.1h0M907.7 490.5h0M908.2 481.5h0M908.2 478.4h0M908.5 491.8h0M909.1 485.4h0M909.2 480.5h0M909.6 490.8h0M909.6 484.2h0M910.2 479.9h0M910.3 488.3h0M910.4 492.4h0M910.4 488.4h0M910.4 480.3h0M910.9 486.2h0M911.1 487.1h0M911.1 482.3h0M911.2 486.9h0M911.4 488.3h0M911.8 479.6h0M911.8 486.6h0M912.3 485.6h0M912.4 478.1h0M912.4 476.4h0M912.7 484.9h0M912.8 475.9h0M912.8 476h0M912.8 484.1h0M913 478.7h0M913.4 477.8h0M913.5 483.5h0M913.6 476.9h0M913.7 481.4h0M913.9 472.3h0M913.9 477.1h0M913.9 479.1h0M914 480.8h0M914.1 480.3h0M914.1 475.8h0M914.4 476.1h0M914.7 481.1h0M914.7 473.7h0M915.1 471.4h0M915.2 469.5h0M915.7 479.6h0M915.7 479.7h0M915.7 477.4h0M915.7 479h0M915.8 467h0M915.9 479h0M916.3 474.7h0M916.3 477.3h0M916.5 472h0M916.5 472.5h0M916.6 464.5h0M916.7 465.6h0M917.3 477.6h0M917.6 465.2h0M917.8 472.6h0M917.9 477.3h0M917.9 473h0M918 463.9h0M918.2 477.3h0M918.3 474h0M918.4 462.1h0M918.5 461.1h0M918.9 468h0M918.9 460.9h0M919.5 463.5h0M919.5 462.8h0M919.6 475.4h0M919.7 476h0M919.7 477h0M919.7 475.3h0M920 476.7h0M920 467.2h0M920.5 467.4h0M920.6 465.5h0M920.8 476.7h0M920.8 465.7h0M920.9 471.4h0M920.9 473.9h0M921.4 471.6h0M922.2 472.5h0M922.6 475.4h0M922.8 472.5h0M922.9 475h0M922.9 468.1h0M922.9 474.9h0M923.1 474.4h0M923.5 467.7h0M923.8 471.8h0M924.1 466.2h0M924.3 467.3h0M924.3 466.3h0M924.4 466.6h0M924.8 468.3h0M925.1 468.2h0M925.5 469.1h0M925.6 466.2h0M925.8 466.8h0M926.4 458.1h0M926.5 462.3h0M926.5 464.3h0M926.5 456.4h0M926.5 465.8h0M927.1 454.5h0M927.2 456.9h0M927.4 454.3h0M927.7 444.4h0M927.8 444h0M927.9 457.8h0M928 445.3h0M928.1 445.7h0M928.5 449.8h0M928.9 446.5h0M929.2 445.4h0M929.6 443.2h0M929.7 446.4h0M929.9 449.2h0M930.2 445h0M930.3 443.5h0M930.3 443.1h0M930.7 450h0M931.1 445h0M931.2 442.3h0M931.5 443.6h0M931.5 448.8h0M931.5 448.1h0M931.7 448.1h0M931.9 445.8h0M932 448.9h0M932.4 439.8h0M932.7 449.3h0M932.8 448.8h0M932.9 445.7h0M933.1 448.6h0M933.1 448.9h0M933.2 444.7h0M933.3 446.6h0M933.4 440h0M933.5 449.2h0M933.5 442.7h0M934.1 447.1h0M934.2 446.4h0M934.6 446.1h0M934.6 446.3h0M934.6 445.7h0M934.9 444.6h0M935.1 444h0M935.8 441.7h0M935.9 439.6h0M936.1 441h0M936.6 437.5h0M936.6 440.3h0M936.9 439.9h0M937.4 432.6h0M937.7 436.8h0M937.8 431.2h0M937.9 430.1h0M938.3 424.2h0M938.6 425.9h0M939 426h0M939.3 429.4h0M939.7 419.2h0M939.8 421.8h0M939.8 430.4h0M940.1 418.7h0M940.2 425.5h0M610.9 71.9h0M611.8 73.1h0M611.9 72.9h0M612.4 63.8h0M612.9 68.2h0M612.9 55.4h0M613 58.1h0M613.1 55.4h0M613.3 45.2h0M613.5 42.6h0M613.7 48.4h0M613.7 73h0M613.8 51.1h0M613.8 60.9h0M613.9 69.8h0M614 61.2h0M614.1 41.4h0M614.2 40.4h0M614.3 52.6h0M614.3 63.7h0M614.4 72.7h0M614.4 45.1h0M614.6 64h0M614.7 65.1h0M615 51.7h0M615.1 71.4h0M615.2 72.8h0M615.3 73.1h0M615.6 48.3h0M615.6 42.4h0M615.7 72.2h0M615.8 47.9h0M615.8 66.6h0M615.8 56.5h0M615.9 63.3h0M615.9 72.2h0M616.2 39.5h0M616.2 66.9h0M616.3 50.2h0M616.6 65.7h0M616.6 70.4h0M616.8 61.4h0M616.8 56.2h0M616.8 73h0M616.9 62.8h0M617 57.5h0M617.1 54.7h0M617.2 73.1h0M617.3 63h0M617.3 73.3h0M617.6 67.6h0M618 67.9h0M618 65h0M618.4 69.1h0M618.5 71.5h0M618.6 72.2h0M619 70.6h0M621.3 80.2h0M621.4 73.6h0M621.4 68.3h0M621.4 69.7h0M621.6 85h0M621.7 64.4h0M621.7 73.3h0M621.7 85.3h0M621.8 85h0M621.9 79.8h0M622.1 84.9h0M622.2 63.5h0M622.2 85.1h0M622.3 69.2h0M622.8 78.4h0M622.8 70.3h0M622.8 74h0M622.9 74.9h0M623 80.1h0M623 51.7h0M623.3 85.1h0M623.3 68.8h0M623.4 70.5h0M623.5 53.4h0M623.5 80.2h0M623.5 63.8h0M623.6 56.5h0M623.8 84.3h0M623.8 58.4h0M624 65h0M624.1 55.4h0M624.2 63.6h0M624.4 83h0M624.7 63.3h0M624.7 83.9h0M624.9 64.5h0M624.9 67.8h0M625.1 75.2h0M625.2 60.3h0M625.2 52.5h0M625.2 75.7h0M625.3 78.2h0M625.4 85h0M625.4 61.8h0M625.6 52.3h0M625.7 85h0M625.8 66.4h0M625.8 66.5h0M626.1 52.1h0M626.3 76.3h0M626.5 84.1h0M626.5 71.7h0M626.7 85.1h0M627.6 81h0M628.2 78.4h0M787.2 258.1h0M787.4 282.9h0M787.4 280.3h0M787.5 257.8h0M787.7 271.6h0M787.9 258.1h0M788 289h0M788 276.3h0M788.1 288.3h0M788.2 256.4h0M788.3 273.7h0M788.3 288.4h0M788.3 284.9h0M788.3 264.8h0M788.3 259.3h0M788.5 271.4h0M788.6 288.3h0M788.8 288h0M789 259.8h0M789 270.9h0M789.2 288.6h0M789.3 251.9h0M789.4 247.7h0M789.6 265.4h0M789.6 252.2h0M789.7 281.9h0M789.8 287.9h0M789.8 234.6h0M789.9 280.3h0M789.9 248.4h0M790.1 222.4h0M790.4 230.1h0M790.6 260.9h0M790.7 286.9h0M790.8 223.4h0M790.8 287.9h0M790.9 243.4h0M791.1 229.6h0M791.2 234.3h0M791.3 240.1h0M791.4 254.2h0M791.5 257.5h0M791.9 256.5h0M792.1 255.1h0M792.3 270.8h0M792.6 252.9h0M792.6 255.5h0M792.7 287.7h0M792.9 255.5h0M792.9 283.3h0M793 280h0M793 268.5h0M793.1 252.8h0M793.2 252.6h0M793.3 254.9h0M793.4 289.1h0M793.6 278.3h0M793.6 273.4h0M793.6 253h0M793.7 282.6h0M793.8 288.3h0M793.8 280.6h0M794.5 252.8h0M794.8 276.9h0M794.8 253.8h0M794.9 260.1h0M794.9 265.5h0M795.1 262.7h0M795.1 268.3h0M795.2 260.4h0M795.5 252.8h0M795.5 269.3h0M795.8 255.1h0M795.8 252.5h0M796 251.9h0M796.2 250.1h0M796.3 289.1h0M796.3 287h0M796.4 246.3h0M796.5 276.3h0M796.6 288.6h0M796.6 277.4h0M796.6 235.5h0M796.8 289h0M796.9 228.5h0M796.9 289.2h0M797 246.5h0M797 249.4h0M797.3 223.5h0M797.3 289.1h0M797.3 270.7h0M797.4 239.7h0M797.5 263.2h0M797.7 242.4h0M797.8 257.5h0M797.9 259.5h0M798.1 265.9h0M798.1 248.8h0M798.1 268.9h0M798.1 275h0M798.2 277.3h0M798.3 248.9h0M798.3 254.3h0M798.3 233.9h0M798.4 234.4h0M798.5 226.3h0M798.6 260.2h0M798.7 261.1h0M798.9 274.1h0M798.9 231.3h0M799 233.3h0M799.1 235h0M799.1 254.7h0M799.2 244.6h0M799.2 237.2h0M799.3 282.7h0M799.3 272.6h0M799.6 269.7h0M799.7 260.5h0M799.8 288.5h0M800.1 286h0M800.2 269.7h0M800.2 258.5h0M800.4 268.8h0M800.7 270.6h0M801 258h0M801.2 289h0M801.2 267.7h0M801.4 288h0M801.5 286.2h0M801.6 258.2h0M801.6 271.6h0M801.6 259.9h0M131 356.7h0M138 320.2h0M140 320.2h0M144 312.7h0M148 312.7h0M158 299.2h0M183.6 273.3h0M204 328.2h0M223 338.3h0M235 348.7h0M246 359.7h0M273 325.7h0M291 343.7h0M316 228.7h0M324.8 188.7h0M333 205.7h0M356.4 155.2h0M373 168.7h0M397 214.7h0M432 317.7h0M434 317.7h0M442 324.7h0M450 303.2h0M476 347.7h0M478 347.7h0M489 385.7h0M500 384.7h0M509 363.7h0M543 210.2h0M560 210.2h0M583 220.2h0M615.5 39.2h0M623.5 51.2h0M625.5 51.2h0M661 131.2h0M673.5 99.2h0M685.5 88.2h0M692 82.7h0M704.5 106.2h0M713.5 119.2h0M729 112.7h0M735.5 129.2h0M744.5 126.2h0M790.4 222.2h0M797.4 223.2h0M807.4 252.2h0M821 277.2h0M839.6 238.2h0M857.5 233.2h0M869 204.2h0M881 193.2h0M134 396.3h0M145 349.3h0M161.4 350.8h0M196 378.3h0M214 364.3h0M228 378.3h0M242 387.3h0M250 388.3h0M284 364.3h0M296 367.3h0M330.5 272.3h0M346 253.3h0M368 219.3h0M385.4 267.3h0M416 390.3h0M454 355.3h0M468 390.3h0M478.4 420.8h0M484 412.3h0M516.5 402.3h0M573 284.8h0M585 247.3h0M591 263.8h0M597 219.3h0M618 155.3h0M621 155.3h0M636 193.3h0M647.4 224.8h0M654 209.3h0M660 207.3h0M668 175.8h0M680 158.8h0M697 173.8h0M715.5 183.8h0M720 179.3h0M740 163.3h0M758.4 276.8h0M763 271.8h0M770 339.8h0M778.4 361.8h0M820 320.3h0M850.4 302.8h0M871 263.8h0M887.5 472.2h0M903.7 469.7h0M918.5 460.7h0M929.8 436.7h0M938.8 417.2h0M895.6 500.8h0M910 493.3h0M921.7 477.3h0M932.5 451.3h0M756.3 181.5h0M756.3 192h0M757 199.5h0M757.5 207h0M758 212h0M142 350h0M150 354h0M156 348h0M149 357h0M152.5 351h0M133.4 407h0M133.4 414.4h0M161.4 351h0M385.4 267.4h0M402.5 337.2h0M478.4 421h0M478 390h0M539 299h0M539 289h0M647.4 225h0M631 192h0M636 193h0M758.4 277h0M770 334h0M771 340h0M720.6 194h0M715 184h0M720 178h0M721 188h0" stroke="#000" stroke-width="5.4" stroke-linecap="round" fill="none"/>
<polyline points="129,342.8 129.7,341.5 130.4,342.8 131.1,346 131.8,346.8 132.5,344.9 133.2,343.7 133.9,344 134.6,343 135.3,342.6 136,344.3 136.7,346.8 137.4,348.7 138.1,346.5 138.8,344.7 139.5,344.3 140.2,343.5 140.9,341.9 141.6,339.1 142.3,338.9 143,340.9 143.7,343 144.4,340.9 145.1,338.3 145.8,337.7 146.5,339.4 147.2,339.8 147.9,339.2 148.6,337.7 149.3,337.4 150,336.8 150.7,336.2 151.4,334.8 152.1,335 152.8,336.1 153.5,334.2 154.2,332.2 154.9,331.5 155.6,331.1 156.3,329.9 157,326.9 157.7,324.9 158.4,325.5 159.1,328.6 159.8,328.7 160.5,325.2 161.2,325.1 161.9,327 162.6,329 163.3,329.1 164,326.4 164.7,324.6 165.4,326.1 166.1,327.4 166.8,327.8 167.5,329.8 168.2,331.2 168.9,330.4 169.6,328.3 170.3,326.1 171,326.4 171.7,325.3 172.4,323.2 173.1,320.8 173.8,321.8 174.5,324 175.2,324 175.9,320.8 176.6,317.8 177.3,319.6 178,322.7 178.7,322.5 179.4,322.2 180.1,322.2 180.8,323.7 181.5,324 182.2,323.2 182.9,323.5 183.6,325 184.3,326.6 185,325.4 185.7,324.5 186.4,324.8 187.1,324.7 187.8,322.6 188.5,319.7 189.2,320.3 189.9,323.9 190.6,326.6 191.3,325.3 192,323.6 192.7,325.3 193.4,328.3 194.1,330.3 194.8,329.3 195.5,329.1 196.2,329.3 196.9,330.7 197.6,329.8 198.3,330.5 199,334.2 199.7,337.1 200.4,338.8 201.1,338.8 201.8,338.5 202.5,339.9 203.2,339.7 203.9,338.1 204.6,337.8 205.3,340.4 206,342.8 206.7,341.9 207.4,339.5 208.1,340.4 208.8,343.6 209.5,345.7 210.2,346.3 210.9,345.5 211.6,347 212.3,348 213,348.2 213.7,347.6 214.4,348.7 215.1,349.4 215.8,349.8 216.5,348.8 217.2,347.3 217.9,348.7 218.6,346.9 219.3,345.1 220,343.3 220.7,346.7 221.4,349.7 222.1,349.4 222.8,348.3 223.5,347.9 224.2,350.2 224.9,353.1 225.6,354 226.3,353.5 227,354.7 227.7,355.3 228.4,355.7 229.1,355.2 229.8,357.1 230.5,361.2 231.2,364.4 231.9,362.7 232.6,362.6 233.3,363.2 234,363.2 234.7,361.5 235.4,359.8 236.1,361 236.8,363.4 237.5,363.5 238.2,360.3 238.9,359.1 239.6,362.2 240.3,364.9 241,366.4 241.7,366.5 242.4,366.4 243.1,366.1 243.8,366.7 244.5,365.9 245.2,365.4 245.9,367.4 246.6,367.7 247.3,367 248,365.3 248.7,365.5 249.4,364.9 250.1,362.8 250.8,359.6 251.5,359.6 252.2,364.1 252.9,365.7 253.6,364.8 254.3,363.2 255,364.3 255.7,366.6 256.4,368 257.1,366.6 257.8,365.8 258.5,366.3 259.2,367 259.9,367 260.6,367.8 261.3,369.7 262,370.9 262.7,370.1 263.4,368.2 264.1,367.3 264.8,367.7 265.5,366.2 266.2,363.6 266.9,362.7 267.6,363.9 268.3,365.8 269,362.8 269.7,359.9 270.4,359.2 271.1,361.7 271.8,364 272.5,363 273.2,360.4 273.9,359.9 274.6,360.9 275.3,359.3 276,358.5 276.7,358.9 277.4,358.6 278.1,357.6 278.8,355.8 279.5,354.2 280.2,353.8 280.9,352.3 281.6,348.6 282.3,346.1 283,347.4 283.7,348.5 284.4,346.7 285.1,343.5 285.8,340.9 286.5,341.5 287.2,341.8 287.9,340.6 288.6,337.9 289.3,336.5 290,336.3 290.7,334.1 291.4,331.9 292.1,330.3 292.8,330.3 293.5,327.5 294.2,325.4 294.9,322.7 295.6,321.7 296.3,319.6 297,316.4 297.7,313.2 298.4,312.4 299.1,313.7 299.8,312.6 300.5,309.1 301.2,305.2 301.9,304.1 302.6,305.5 303.3,304.1 304,301 304.7,299.9 305.4,299.8 306.1,298 306.8,294.6 307.5,292.5 308.2,292.1 308.9,290.2 309.6,287.2 310.3,284.4 311,283.2 311.7,282.3 312.4,279 313.1,275 313.8,272.9 314.5,274.6 315.2,274.2 315.9,271.6 316.6,266.9 317.3,266.3 318,267.4 318.7,266.8 319.4,265.6 320.1,263.4 320.8,261.9 321.5,261.5 322.2,259.3 322.9,256.1 323.6,256.2 324.3,255.3 325,253.1 325.7,250.1 326.4,249.2 327.1,248.7 327.8,247.3 328.5,243.7 329.2,241.8 329.9,243.3 330.6,243.6 331.3,241.4 332,237.1 332.7,236.7 333.4,237.4 334.1,237.6 334.8,235.5 335.5,232.7 336.2,231.4 336.9,230.4 337.6,228.6 338.3,226.6 339,226.2 339.7,225.5 340.4,223.5 341.1,220.4 341.8,218.5 342.5,218.7 343.2,216.5 343.9,212.7 344.6,209.6 345.3,209.3 346,210.3 346.7,209.3 347.4,205.2 348.1,202.9 348.8,203.6 349.5,204.9 350.2,203.4 350.9,201.6 351.6,200.3 352.3,200.7 353,199.1 353.7,197.9 354.4,197.4 355.1,196.7 355.8,195.7 356.5,193.9 357.2,192.4 357.9,192 358.6,192 359.3,190 360,186.6 360.7,187.7 361.4,191.7 362.1,194.2 362.8,192.6 363.5,192 364.2,195.3 364.9,198.3 365.6,201 366.3,201.3 367,201.6 367.7,203.7 368.4,205.7 369.1,205.6 369.8,206.7 370.5,208 371.2,209.4 371.9,209.3 372.6,208.7 373.3,209.1 374,210.4 374.7,209.8 375.4,209.2 376.1,210.9 376.8,215.3 377.5,218.2 378.2,217.6 378.9,216.5 379.6,218.3 380.3,222 381,224.9 381.7,225.9 382.4,226 383.1,227.7 383.8,229.1 384.5,230.7 385.2,230.9 385.9,233.3 386.6,236.3 387.3,237.2 388,237.3 388.7,239 389.4,242.4 390.1,243.6 390.8,243.8 391.5,245.7 392.2,249.2 392.9,253 393.6,253.8 394.3,253.4 395,254.7 395.7,258.5 396.4,262.8 397.1,264.1 397.8,266 398.5,268.4 399.2,271.4 399.9,272.8 400.6,274.7 401.3,277.3 402,280.6 402.7,281.8 403.4,281.6 404.1,282.9 404.8,286.2 405.5,287.2 406.2,286.9 406.9,287.3 407.6,289.4 408.3,294 409,296.3 409.7,295.8 410.4,296.3 411.1,300.6 411.8,304.6 412.5,306 413.2,306.6 413.9,308.6 414.6,310.9 415.3,311.7 416,313.8 416.7,315 417.4,317.8 418.1,318.7 418.8,318.1 419.5,317.7 420.2,320.4 420.9,320.5 421.6,320 422.3,318 423,319.6 423.7,322 424.4,323.5 425.1,321.8 425.8,319.1 426.5,322 427.2,325.6 427.9,327.3 428.6,327.9 429.3,328.8 430,331.1 430.7,331.3 431.4,330.7 432.1,330.8 432.8,331.7 433.5,332.5 434.2,332.4 434.9,332.2 435.6,332.3 436.3,334.1 437,333.1 437.7,331.3 438.4,333 439.1,336.3 439.8,339.7 440.5,338.2 441.2,337.1 441.9,338.1 442.6,341.4 443.3,343.8 444,342.9 444.7,342.4 445.4,342.8 446.1,343.2 446.8,343.2 447.5,343 448.2,345.2 448.9,348.6 449.6,351.6 450.3,352 451,353.8 451.7,354.9 452.4,354.8 453.1,354 453.8,354.4 454.5,356.3 455.2,359 455.9,358.6 456.6,356.1 457.3,356.3 458,358.4 458.7,361.5 459.4,362.7 460.1,362.3 460.8,364 461.5,365.4 462.2,366.2 462.9,366.6 463.6,369.6 464.3,370.4 465,370.2 465.7,368.7 466.4,368.4 467.1,369.2 467.8,369.7 468.5,366.6 469.2,364.9 469.9,366.4 470.6,370.1 471.3,372.2 472,371 472.7,370.3 473.4,373.2 474.1,377.2 474.8,378.5 475.5,376.4 476.2,378 476.9,378.7 477.6,380.1 478.3,379.3 479,380.3 479.7,385.9 480.4,388.6 481.1,388.7 481.8,388.2 482.5,389.1 483.2,389.8 483.9,388.3 484.6,387.5 485.3,388.8 486,391.7 486.7,393.8 487.4,392.4 488.1,391.9 488.8,394 489.5,398.2 490.2,400.5 490.9,400 491.6,400.4 492.3,401.3 493,399.6 493.7,397 494.4,395.2 495.1,394.1 495.8,393.6 496.5,390.8 497.2,388.4 497.9,387.2 498.6,386.3 499.3,383.6 500,380.2 500.7,379.6 501.4,381.7 502.1,382.5 502.8,379.5 503.5,376.6 504.2,375.3 504.9,377.1 505.6,377.8 506.3,375.8 507,375.3 507.7,375.4 508.4,375.5 509.1,374.6 509.8,373.8 510.5,374.1 511.2,375 511.9,374.2 512.6,372.2 513.3,370.7 514,371 514.7,369.3 515.4,365.9 516.1,363.8 516.8,364.9 517.5,364.9 518.2,363.3 518.9,358.9 519.6,356.6 520.3,357.1 521,357.2 521.7,355.5 522.4,353.1 523.1,351.6 523.8,350.8 524.5,347.4 525.2,344.6 525.9,342.4 526.6,340.6 527.3,337.5 528,333 528.7,331 529.4,329 530.1,325.9 530.8,323.8 531.5,320.5 532.2,320.7 532.9,322.2 533.6,321.3 534.3,316.7 535,314.2 535.7,315 536.4,316.1 537.1,314.6 537.8,312.2 538.5,310.6 539.2,310.8 539.9,310.4 540.6,307.7 541.3,305.5 542,304.8 542.7,302.8 543.4,300.3 544.1,298.4 544.8,297.6 545.5,296.7 546.2,293.4 546.9,289.7 547.6,289.1 548.3,289.6 549,288.5 549.7,285.3 550.4,281 551.1,280.1 551.8,280.1 552.5,279.6 553.2,276.7 553.9,274.2 554.6,272.6 555.3,271.8 556,269.9 556.7,267.4 557.4,266.1 558.1,265.1 558.8,262.7 559.5,258.7 560.2,258.4 560.9,257.8 561.6,255.1 562.3,251.6 563,249.6 563.7,249.9 564.4,250.1 565.1,247.5 565.8,243.2 566.5,242.2 567.2,243.7 567.9,244.3 568.6,241.7 569.3,239.6 570,238.9 570.7,238.8 571.4,236.7 572.1,235.5 572.8,233.6 573.5,233.2 574.2,231.1 574.9,228.8 575.6,227.5 576.3,226.2 577,224.5 577.7,221.4 578.4,218.7 579.1,218.9 579.8,220.3 580.5,217.6 581.2,213.2 581.9,210.2 582.6,211.1 583.3,210.9 584,209.4 584.7,205.8 585.4,204.2 586.1,203.6 586.8,201.5 587.5,199.6 588.2,198.1 588.9,197 589.6,195.5 590.3,192.4 591,190.9 591.7,189.7 592.4,188.3 593.1,185.3 593.8,182.6 594.5,182.2 595.2,182.3 595.9,180.5 596.6,177 597.3,173.6 598,173.6 598.7,175.1 599.4,174.3 600.1,171.5 600.8,169.8 601.5,169.4 602.2,169.1 602.9,166.8 603.6,165.9 604.3,165.7 605,164.5 605.7,161.5 606.4,159.5 607.1,158.3 607.8,157.5 608.5,154.2 609.2,151.5 609.9,150.1 610.6,150.8 611.3,150.1 612,146.1 612.7,142.8 613.4,141.3 614.1,142.6 614.8,142.4 615.5,141.1 616.2,138.5 616.9,137.4 617.6,136.7 618.3,135.3 619,132.9 619.7,132.5 620.4,132.8 621.1,131.1 621.8,129.5 622.5,128.9 623.2,130 623.9,128.4 624.6,125.2 625.3,124.4 626,125.2 626.7,128.9 627.4,128 628.1,126.5 628.8,127.3 629.5,130.2 630.2,132.1 630.9,132.9 631.6,132.2 632.3,133.4 633,134.6 633.7,135 634.4,134.5 635.1,137.2 635.8,138.7 636.5,138.9 637.2,138.3 637.9,137.9 638.6,138.6 639.3,138.8 640,136.9 640.7,136.5 641.4,138.9 642.1,140.5 642.8,140.6 643.5,137.2 644.2,136.9 644.9,139.2 645.6,141.6 646.3,141.9 647,141.1 647.7,141.5 648.4,142.4 649.1,143.3 649.8,143.7 650.5,143.7 651.2,143.9 651.9,143 652.6,140.8 653.3,140.7 654,140.6 654.7,140.3 655.4,137.8 656.1,135.9 656.8,136.5 657.5,138.5 658.2,137.9 658.9,136 659.6,135.5 660.3,136.4 661,139 661.7,140 662.4,139.2 663.1,138.6 663.8,140 664.5,141 665.2,140.7 665.9,141.3 666.6,143.5 667.3,143.9 668,143.9 668.7,143 669.4,144.5 670.1,143.9 670.8,142.9 671.5,141.1 672.2,142 672.9,144.5 673.6,145.6 674.3,142.1 675,140.3 675.7,140.3 676.4,142.6 677.1,144.2 677.8,142.9 678.5,142 679.2,143.5 679.9,143.7 680.6,142.8 681.3,142 682,142.2 682.7,142.7 683.4,140.7 684.1,138.7 684.8,138.9 685.5,139.2 686.2,137.7 686.9,135.7 687.6,134.5 688.3,136.3 689,139.5 689.7,138.1 690.4,135.9 691.1,136 691.8,138.8 692.5,140.5 693.2,140.6 693.9,139.7 694.6,140.3 695.3,141.3 696,140.7 696.7,140.9 697.4,142 698.1,143.6 698.8,143.2 699.5,143.7 700.2,143.6 700.9,144.1 701.6,143.6 702.3,142 703,141 703.7,142.6 704.4,145 705.1,143.8 705.8,141.1 706.5,139.8 707.2,142.4 707.9,145.3 708.6,146.1 709.3,144.2 710,144.8 710.7,145.9 711.4,146.8 712.1,145.7 712.8,145.3 713.5,145.7 714.2,144.5 714.9,142.6 715.6,141.6 716.3,141.3 717,141.1 717.7,138.9 718.4,136.8 719.1,137.4 719.8,140.4 720.5,141.9 721.2,140.5 721.9,139.3 722.6,141.1 723.3,143.9 724,145.6 724.7,145.5 725.4,146.4 726.1,148.8 726.8,151.3 727.5,151.7 728.2,153.5 728.9,155.6 729.6,158.2 730.3,158.1 731,158.5 731.7,161.2 732.4,162.4 733.1,161.6 733.8,160.9 734.5,162.5 735.2,166.4 735.9,167.7 736.6,166 737.3,164.9 738,166.2 738.7,170.3 739.4,173.4 740.1,173.7 740.8,174.8 741.5,176.3 742.2,178.7 742.9,178.8 743.6,178.3 744.3,179.3 745,180.4 745.7,180.7 746.4,179.2 747.1,180.4 747.8,182.1 748.5,181.9 749.2,179.9 749.9,180.4 750.6,183.8 751.3,187.2 752,187.1 752.7,185.3 753.4,186.6 754.1,190.5 754.8,192.7 755.5,194.1 756.2,195.2 756.9,196.7 757.6,199.7 758.3,200.7 759,202.8 759.7,205.7 760.4,207.9 761.1,207.5 761.8,207.5 762.5,208.2 763.2,210.1 763.9,211.2 764.6,209.1 765.3,209.7 766,212 766.7,215.6 767.4,215.3 768.1,212.9 768.8,213.3 769.5,216.6 770.2,219.7 770.9,221.1 771.6,220.8 772.3,221.5 773,224.6 773.7,225.7 774.4,225.5 775.1,226.1 775.8,227.9 776.5,227.8 777.2,227 777.9,227.3 778.6,229.3 779.3,229.2 780,228.9 780.7,227.1 781.4,228.6 782.1,232.6 782.8,234.1 783.5,232.7 784.2,232.6 784.9,235.8 785.6,239.8 786.3,241.2 787,241.9 787.7,243.1 788.4,244.9 789.1,247.1 789.8,247.9 790.5,249.4 791.2,252.2 791.9,254.6 792.6,254.4 793.3,254.1 794,255.6 794.7,257.5 795.4,256.6 796.1,255.6 796.8,256.7 797.5,259.7 798.2,262 798.9,259.3 799.6,257.9 800.3,258.6 801,262.8 801.7,264.9 802.4,263.7 803.1,264.3 803.8,266.5 804.5,268.1 805.2,268.6 805.9,269 806.6,270.4 807.3,271.5 808,270.9 808.7,270.6 809.4,270.2 810.1,272.6 810.8,271.7 811.5,270.7 812.2,270.6 812.9,274.1 813.6,277.9 814.3,277.5 815,276 815.7,276.6 816.4,280.7 817.1,283.8 817.8,284.8 818.5,284.4 819.2,286.1 819.9,287.5 820.6,288.2 821.3,288.9 822,290.8 822.7,292.5 823.4,293.5 824.1,293.6 824.8,294.6 825.5,296.4 826.2,297.9 826.9,296.5 827.6,296.7 828.3,299 829,302.7 829.7,303.1 830.4,300.8 831.1,301.2 831.8,303.1 832.5,306.7 833.2,307.5 833.9,306.8 834.6,307.8 835.3,309.9 836,310.8 836.7,311.1 837.4,312.4 838.1,314 838.8,315.1 839.5,313.7 840.2,314.6 840.9,315.7 841.6,316.6 842.3,315.6 843,314.6 843.7,315.6 844.4,319 845.1,321 845.8,319.3 846.5,318.9 847.2,322.1 847.9,324.7 848.6,327 849.3,326.4 850,327.6 850.7,329.4 851.4,331 852.1,331.9 852.8,333.5 853.5,335.4 854.2,337.3 854.9,337.5 855.6,338.7 856.3,340.3 857,342.1 857.7,341.3 858.4,340.6 859.1,340.3 859.8,344 860.5,346.3 861.2,344.3 861.9,342.1 862.6,344.3 863.3,348.2 864,351.8 864.7,353.6 865.4,354.2 866.1,355.6 866.8,356.2 867.5,355.8 868.2,356 868.9,356.3 869.6,357.3 870.3,357.4 871,356.6 871.7,356.8 872.4,357.8 873.1,357.3 873.8,355.8 874.5,356 875.2,360.8 875.9,363.8 876.6,364.4 877.3,363.4 878,364 878.7,366.7 879.4,370.5 880.1,371.4 880.8,371 881.5,372.4 882.2,374.7 882.9,375.1 883.6,376.9 884.3,377.5 885,380.4 885.7,381.9 886.4,381.7 887.1,382.4 887.8,384.2 888.5,384.6 889.2,383.7 889.9,382.1 890.6,385.1 891.3,387.8 892,388.2 892.7,385.9 893.4,385 894.1,388 894.8,391.8 895.5,392.9 896.2,392.5 896.9,394.5 897.6,396.5 898.3,396.3 899,397.4 899.7,398.6 900.4,399.4 901.1,399.7 901.8,398.9 902.5,398.7 903.2,400.2 903.9,401 904.6,400.2 905.3,398.6 906,400 906.7,404.2 907.4,406.8 908.1,405.8 908.8,405.6 909.5,408.7 910.2,412.3 910.9,413.9 911.6,413.7 912.3,413.9 913,415.5 913.7,416.6 914.4,417.3 915.1,417.4 915.8,420.4 916.5,421.7 917.2,421.8 917.9,422.3 918.6,424.2 919.3,426.7 920,426.5 920.7,426.5 921.4,427.1 922.1,430.2 922.8,433 923.5,431.6 924.2,430.5 924.9,432 925.6,435 926.3,436.5 927,436.7 927.7,437.7 928.4,438.6 929.1,440 929.8,440.8 930.5,441.4 931.2,442.4 931.9,443.4 932.6,443.5 933.3,443.2 934,443.8 934.7,445.4 935.4,445.3 936.1,442.6 936.8,442 937.5,443.9 938.2,447.1 938.9,447.5 939.6,447.6 940.3,449.5 941,454.4 941.7,459 942.4,460.6 943.1,461.9 943.8,464.4" fill="none" stroke="#0072B2" stroke-width="2.3" stroke-linejoin="round" stroke-linecap="butt"/>
<path d="M938 444L938.4 449L939.2 453L940.3 458L941.6 463L942.4 466.8L945.3 466.8L945.3 459.5L944.2 455.5L942.6 451L941.2 446.5L939.6 442.8Z" fill="#0072B2"/>
<path d="M939.9 420.2h0M940.6 422.2h0M940.1 424.6h0M941 426.6h0M940.6 428.8h0M941.7 430.4h0M941.3 432.8h0M942.3 434.4h0M941.9 436.4h0M942.7 438h0M940.4 423.2h0M941.9 431.8h0" stroke="#f00" stroke-width="5.4" stroke-linecap="round" fill="none"/>
<rect x="88.5" y="15.5" width="897" height="527" fill="none" stroke="#000" stroke-width="1.1"/>
<path d="M160.5 542.5v4.9M285.5 542.5v4.9M409.5 542.5v4.9M534.5 542.5v4.9M659.5 542.5v4.9M783.5 542.5v4.9M908.5 542.5v4.9M88.5 64.5h-4.9M88.5 155.5h-4.9M88.5 246.5h-4.9M88.5 337.5h-4.9M88.5 428.5h-4.9M88.5 520.5h-4.9" stroke="#000" stroke-width="1.1" fill="none"/>
<g opacity="0.999">
<text x="159.8" y="562.2" text-anchor="middle">2001</text><text x="284.8" y="562.2" text-anchor="middle">2005</text><text x="408.8" y="562.2" text-anchor="middle">2009</text><text x="533.8" y="562.2" text-anchor="middle">2013</text><text x="658.8" y="562.2" text-anchor="middle">2017</text><text x="782.8" y="562.2" text-anchor="middle">2021</text><text x="907.8" y="562.2" text-anchor="middle">2025</text>
<text x="78.3" y="69.1" text-anchor="end">12000</text><text x="78.3" y="160.1" text-anchor="end">10000</text><text x="78.3" y="251.1" text-anchor="end">8000</text><text x="78.3" y="342.1" text-anchor="end">6000</text><text x="78.3" y="433.1" text-anchor="end">4000</text><text x="78.3" y="525.1" text-anchor="end">2000</text>
<text x="536.8" y="581.6" text-anchor="middle">ds</text>
<text transform="translate(24.6 278.6) rotate(-90)" text-anchor="middle">y</text>
</g>
</svg>
</body></html>
